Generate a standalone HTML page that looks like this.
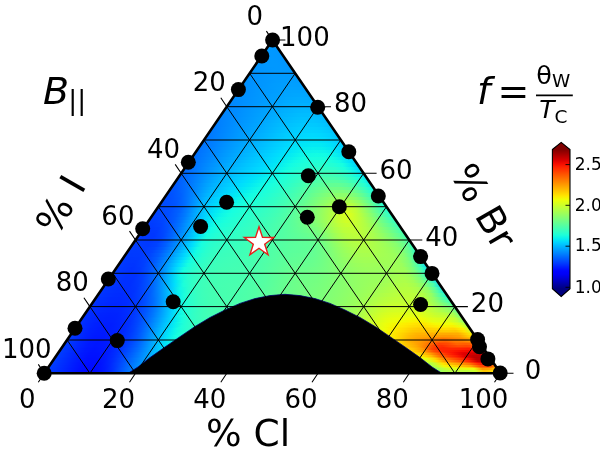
<!DOCTYPE html>
<html><head><meta charset="utf-8"><title>Ternary</title>
<style>html,body{margin:0;padding:0;background:#fff}svg{display:block}text{font-family:"DejaVu Sans","Liberation Sans",sans-serif;fill:#000}</style></head><body>
<svg width="600" height="452" viewBox="0 0 600 452">
<rect width="600" height="452" fill="#fff"/>
<defs>
<clipPath id="tri"><path d="M44.3 373.3L500.5 373.3L272.4 40.0Z"/></clipPath>
<linearGradient id="g0" gradientUnits="userSpaceOnUse" x1="269.1" x2="275.7" y1="0" y2="0"><stop offset="0.000" stop-color="#0098ff"/><stop offset="1.000" stop-color="#0097ff"/></linearGradient>
<linearGradient id="g1" gradientUnits="userSpaceOnUse" x1="266.8" x2="278.0" y1="0" y2="0"><stop offset="0.000" stop-color="#0099ff"/><stop offset="0.500" stop-color="#0098ff"/><stop offset="1.000" stop-color="#0096ff"/></linearGradient>
<linearGradient id="g2" gradientUnits="userSpaceOnUse" x1="264.6" x2="280.2" y1="0" y2="0"><stop offset="0.000" stop-color="#0099ff"/><stop offset="0.500" stop-color="#0098ff"/><stop offset="1.000" stop-color="#0095ff"/></linearGradient>
<linearGradient id="g3" gradientUnits="userSpaceOnUse" x1="262.3" x2="282.5" y1="0" y2="0"><stop offset="0.000" stop-color="#0098ff"/><stop offset="0.333" stop-color="#0098ff"/><stop offset="0.667" stop-color="#0097ff"/><stop offset="1.000" stop-color="#0095ff"/></linearGradient>
<linearGradient id="g4" gradientUnits="userSpaceOnUse" x1="260.0" x2="284.8" y1="0" y2="0"><stop offset="0.000" stop-color="#0097ff"/><stop offset="0.333" stop-color="#0098ff"/><stop offset="0.667" stop-color="#0097ff"/><stop offset="1.000" stop-color="#0095ff"/></linearGradient>
<linearGradient id="g5" gradientUnits="userSpaceOnUse" x1="257.7" x2="287.1" y1="0" y2="0"><stop offset="0.000" stop-color="#0097ff"/><stop offset="0.250" stop-color="#0098ff"/><stop offset="0.500" stop-color="#0098ff"/><stop offset="0.750" stop-color="#0097ff"/><stop offset="1.000" stop-color="#0095ff"/></linearGradient>
<linearGradient id="g6" gradientUnits="userSpaceOnUse" x1="255.4" x2="289.4" y1="0" y2="0"><stop offset="0.000" stop-color="#0095ff"/><stop offset="0.250" stop-color="#0097ff"/><stop offset="0.500" stop-color="#0098ff"/><stop offset="0.750" stop-color="#0097ff"/><stop offset="1.000" stop-color="#0095ff"/></linearGradient>
<linearGradient id="g7" gradientUnits="userSpaceOnUse" x1="253.2" x2="291.6" y1="0" y2="0"><stop offset="0.000" stop-color="#0094ff"/><stop offset="0.200" stop-color="#0096ff"/><stop offset="0.400" stop-color="#0098ff"/><stop offset="0.600" stop-color="#0098ff"/><stop offset="0.800" stop-color="#0097ff"/><stop offset="1.000" stop-color="#0095ff"/></linearGradient>
<linearGradient id="g8" gradientUnits="userSpaceOnUse" x1="250.9" x2="293.9" y1="0" y2="0"><stop offset="0.000" stop-color="#0093ff"/><stop offset="0.200" stop-color="#0095ff"/><stop offset="0.400" stop-color="#0097ff"/><stop offset="0.600" stop-color="#0098ff"/><stop offset="0.800" stop-color="#0098ff"/><stop offset="1.000" stop-color="#0095ff"/></linearGradient>
<linearGradient id="g9" gradientUnits="userSpaceOnUse" x1="248.6" x2="296.2" y1="0" y2="0"><stop offset="0.000" stop-color="#0092ff"/><stop offset="0.167" stop-color="#0094ff"/><stop offset="0.333" stop-color="#0097ff"/><stop offset="0.500" stop-color="#0098ff"/><stop offset="0.667" stop-color="#0099ff"/><stop offset="0.833" stop-color="#0098ff"/><stop offset="1.000" stop-color="#0096ff"/></linearGradient>
<linearGradient id="g10" gradientUnits="userSpaceOnUse" x1="246.3" x2="298.5" y1="0" y2="0"><stop offset="0.000" stop-color="#0090ff"/><stop offset="0.167" stop-color="#0093ff"/><stop offset="0.333" stop-color="#0096ff"/><stop offset="0.500" stop-color="#0099ff"/><stop offset="0.667" stop-color="#009aff"/><stop offset="0.833" stop-color="#009aff"/><stop offset="1.000" stop-color="#0097ff"/></linearGradient>
<linearGradient id="g11" gradientUnits="userSpaceOnUse" x1="244.0" x2="300.8" y1="0" y2="0"><stop offset="0.000" stop-color="#008fff"/><stop offset="0.143" stop-color="#0092ff"/><stop offset="0.286" stop-color="#0095ff"/><stop offset="0.429" stop-color="#0098ff"/><stop offset="0.571" stop-color="#009aff"/><stop offset="0.714" stop-color="#009bff"/><stop offset="0.857" stop-color="#009bff"/><stop offset="1.000" stop-color="#0099ff"/></linearGradient>
<linearGradient id="g12" gradientUnits="userSpaceOnUse" x1="241.7" x2="303.1" y1="0" y2="0"><stop offset="0.000" stop-color="#008eff"/><stop offset="0.143" stop-color="#0091ff"/><stop offset="0.286" stop-color="#0095ff"/><stop offset="0.429" stop-color="#0098ff"/><stop offset="0.571" stop-color="#009bff"/><stop offset="0.714" stop-color="#009dff"/><stop offset="0.857" stop-color="#009dff"/><stop offset="1.000" stop-color="#009bff"/></linearGradient>
<linearGradient id="g13" gradientUnits="userSpaceOnUse" x1="239.5" x2="305.3" y1="0" y2="0"><stop offset="0.000" stop-color="#008dff"/><stop offset="0.125" stop-color="#0090ff"/><stop offset="0.250" stop-color="#0094ff"/><stop offset="0.375" stop-color="#0097ff"/><stop offset="0.500" stop-color="#009bff"/><stop offset="0.625" stop-color="#009dff"/><stop offset="0.750" stop-color="#009fff"/><stop offset="0.875" stop-color="#009fff"/><stop offset="1.000" stop-color="#009dff"/></linearGradient>
<linearGradient id="g14" gradientUnits="userSpaceOnUse" x1="237.2" x2="307.6" y1="0" y2="0"><stop offset="0.000" stop-color="#008cff"/><stop offset="0.125" stop-color="#0090ff"/><stop offset="0.250" stop-color="#0094ff"/><stop offset="0.375" stop-color="#0098ff"/><stop offset="0.500" stop-color="#009bff"/><stop offset="0.625" stop-color="#009fff"/><stop offset="0.750" stop-color="#00a1ff"/><stop offset="0.875" stop-color="#00a1ff"/><stop offset="1.000" stop-color="#009fff"/></linearGradient>
<linearGradient id="g15" gradientUnits="userSpaceOnUse" x1="234.9" x2="309.9" y1="0" y2="0"><stop offset="0.000" stop-color="#008aff"/><stop offset="0.111" stop-color="#008eff"/><stop offset="0.222" stop-color="#0092ff"/><stop offset="0.333" stop-color="#0097ff"/><stop offset="0.444" stop-color="#009bff"/><stop offset="0.556" stop-color="#009eff"/><stop offset="0.667" stop-color="#00a2ff"/><stop offset="0.778" stop-color="#00a4ff"/><stop offset="0.889" stop-color="#00a4ff"/><stop offset="1.000" stop-color="#00a1ff"/></linearGradient>
<linearGradient id="g16" gradientUnits="userSpaceOnUse" x1="232.6" x2="312.2" y1="0" y2="0"><stop offset="0.000" stop-color="#0089ff"/><stop offset="0.111" stop-color="#008eff"/><stop offset="0.222" stop-color="#0092ff"/><stop offset="0.333" stop-color="#0097ff"/><stop offset="0.444" stop-color="#009cff"/><stop offset="0.556" stop-color="#00a0ff"/><stop offset="0.667" stop-color="#00a4ff"/><stop offset="0.778" stop-color="#00a6ff"/><stop offset="0.889" stop-color="#00a7ff"/><stop offset="1.000" stop-color="#00a4ff"/></linearGradient>
<linearGradient id="g17" gradientUnits="userSpaceOnUse" x1="230.3" x2="314.5" y1="0" y2="0"><stop offset="0.000" stop-color="#0088ff"/><stop offset="0.100" stop-color="#008dff"/><stop offset="0.200" stop-color="#0091ff"/><stop offset="0.300" stop-color="#0096ff"/><stop offset="0.400" stop-color="#009aff"/><stop offset="0.500" stop-color="#009fff"/><stop offset="0.600" stop-color="#00a4ff"/><stop offset="0.700" stop-color="#00a8ff"/><stop offset="0.800" stop-color="#00aaff"/><stop offset="0.900" stop-color="#00aaff"/><stop offset="1.000" stop-color="#00a7ff"/></linearGradient>
<linearGradient id="g18" gradientUnits="userSpaceOnUse" x1="228.1" x2="316.7" y1="0" y2="0"><stop offset="0.000" stop-color="#0086ff"/><stop offset="0.100" stop-color="#008cff"/><stop offset="0.200" stop-color="#0091ff"/><stop offset="0.300" stop-color="#0096ff"/><stop offset="0.400" stop-color="#009bff"/><stop offset="0.500" stop-color="#00a1ff"/><stop offset="0.600" stop-color="#00a6ff"/><stop offset="0.700" stop-color="#00abff"/><stop offset="0.800" stop-color="#00adff"/><stop offset="0.900" stop-color="#00adff"/><stop offset="1.000" stop-color="#00aaff"/></linearGradient>
<linearGradient id="g19" gradientUnits="userSpaceOnUse" x1="225.8" x2="319.0" y1="0" y2="0"><stop offset="0.000" stop-color="#0085ff"/><stop offset="0.091" stop-color="#008aff"/><stop offset="0.182" stop-color="#0090ff"/><stop offset="0.273" stop-color="#0095ff"/><stop offset="0.364" stop-color="#009bff"/><stop offset="0.455" stop-color="#00a0ff"/><stop offset="0.545" stop-color="#00a5ff"/><stop offset="0.636" stop-color="#00abff"/><stop offset="0.727" stop-color="#00afff"/><stop offset="0.818" stop-color="#00b1ff"/><stop offset="0.909" stop-color="#00b1ff"/><stop offset="1.000" stop-color="#00acff"/></linearGradient>
<linearGradient id="g20" gradientUnits="userSpaceOnUse" x1="223.5" x2="321.3" y1="0" y2="0"><stop offset="0.000" stop-color="#0083ff"/><stop offset="0.091" stop-color="#008aff"/><stop offset="0.182" stop-color="#0090ff"/><stop offset="0.273" stop-color="#0096ff"/><stop offset="0.364" stop-color="#009cff"/><stop offset="0.455" stop-color="#00a2ff"/><stop offset="0.545" stop-color="#00a8ff"/><stop offset="0.636" stop-color="#00aeff"/><stop offset="0.727" stop-color="#00b3ff"/><stop offset="0.818" stop-color="#00b5ff"/><stop offset="0.909" stop-color="#00b4ff"/><stop offset="1.000" stop-color="#00afff"/></linearGradient>
<linearGradient id="g21" gradientUnits="userSpaceOnUse" x1="221.2" x2="323.6" y1="0" y2="0"><stop offset="0.000" stop-color="#0081ff"/><stop offset="0.083" stop-color="#0088ff"/><stop offset="0.167" stop-color="#008eff"/><stop offset="0.250" stop-color="#0095ff"/><stop offset="0.333" stop-color="#009bff"/><stop offset="0.417" stop-color="#00a1ff"/><stop offset="0.500" stop-color="#00a7ff"/><stop offset="0.583" stop-color="#00aeff"/><stop offset="0.667" stop-color="#00b3ff"/><stop offset="0.750" stop-color="#00b7ff"/><stop offset="0.833" stop-color="#00b9ff"/><stop offset="0.917" stop-color="#00b8ff"/><stop offset="1.000" stop-color="#00b1ff"/></linearGradient>
<linearGradient id="g22" gradientUnits="userSpaceOnUse" x1="218.9" x2="325.9" y1="0" y2="0"><stop offset="0.000" stop-color="#0080ff"/><stop offset="0.083" stop-color="#0087ff"/><stop offset="0.167" stop-color="#008eff"/><stop offset="0.250" stop-color="#0095ff"/><stop offset="0.333" stop-color="#009cff"/><stop offset="0.417" stop-color="#00a3ff"/><stop offset="0.500" stop-color="#00aaff"/><stop offset="0.583" stop-color="#00b1ff"/><stop offset="0.667" stop-color="#00b7ff"/><stop offset="0.750" stop-color="#00bcff"/><stop offset="0.833" stop-color="#00bdff"/><stop offset="0.917" stop-color="#00bbff"/><stop offset="1.000" stop-color="#00b3ff"/></linearGradient>
<linearGradient id="g23" gradientUnits="userSpaceOnUse" x1="216.7" x2="328.1" y1="0" y2="0"><stop offset="0.000" stop-color="#007eff"/><stop offset="0.077" stop-color="#0085ff"/><stop offset="0.154" stop-color="#008dff"/><stop offset="0.231" stop-color="#0094ff"/><stop offset="0.308" stop-color="#009bff"/><stop offset="0.385" stop-color="#00a2ff"/><stop offset="0.462" stop-color="#00a9ff"/><stop offset="0.538" stop-color="#00b0ff"/><stop offset="0.615" stop-color="#00b7ff"/><stop offset="0.692" stop-color="#00bdff"/><stop offset="0.769" stop-color="#00c1ff"/><stop offset="0.846" stop-color="#00c1ff"/><stop offset="0.923" stop-color="#00beff"/><stop offset="1.000" stop-color="#00b6ff"/></linearGradient>
<linearGradient id="g24" gradientUnits="userSpaceOnUse" x1="214.4" x2="330.4" y1="0" y2="0"><stop offset="0.000" stop-color="#007cff"/><stop offset="0.077" stop-color="#0084ff"/><stop offset="0.154" stop-color="#008cff"/><stop offset="0.231" stop-color="#0094ff"/><stop offset="0.308" stop-color="#009cff"/><stop offset="0.385" stop-color="#00a4ff"/><stop offset="0.462" stop-color="#00acff"/><stop offset="0.538" stop-color="#00b4ff"/><stop offset="0.615" stop-color="#00bbff"/><stop offset="0.692" stop-color="#00c1ff"/><stop offset="0.769" stop-color="#00c5ff"/><stop offset="0.846" stop-color="#00c5ff"/><stop offset="0.923" stop-color="#00c1ff"/><stop offset="1.000" stop-color="#00b8ff"/></linearGradient>
<linearGradient id="g25" gradientUnits="userSpaceOnUse" x1="212.1" x2="332.7" y1="0" y2="0"><stop offset="0.000" stop-color="#007aff"/><stop offset="0.071" stop-color="#0082ff"/><stop offset="0.143" stop-color="#008aff"/><stop offset="0.214" stop-color="#0093ff"/><stop offset="0.286" stop-color="#009bff"/><stop offset="0.357" stop-color="#00a3ff"/><stop offset="0.429" stop-color="#00abff"/><stop offset="0.500" stop-color="#00b3ff"/><stop offset="0.571" stop-color="#00bbff"/><stop offset="0.643" stop-color="#00c2ff"/><stop offset="0.714" stop-color="#00c7ff"/><stop offset="0.786" stop-color="#00caff"/><stop offset="0.857" stop-color="#00c9ff"/><stop offset="0.929" stop-color="#00c4ff"/><stop offset="1.000" stop-color="#00baff"/></linearGradient>
<linearGradient id="g26" gradientUnits="userSpaceOnUse" x1="209.8" x2="335.0" y1="0" y2="0"><stop offset="0.000" stop-color="#0078ff"/><stop offset="0.071" stop-color="#0081ff"/><stop offset="0.143" stop-color="#008aff"/><stop offset="0.214" stop-color="#0093ff"/><stop offset="0.286" stop-color="#009cff"/><stop offset="0.357" stop-color="#00a5ff"/><stop offset="0.429" stop-color="#00adff"/><stop offset="0.500" stop-color="#00b6ff"/><stop offset="0.571" stop-color="#00bfff"/><stop offset="0.643" stop-color="#00c6ff"/><stop offset="0.714" stop-color="#00ccff"/><stop offset="0.786" stop-color="#00cfff"/><stop offset="0.857" stop-color="#00ceff"/><stop offset="0.929" stop-color="#00c8ff"/><stop offset="1.000" stop-color="#00bcff"/></linearGradient>
<linearGradient id="g27" gradientUnits="userSpaceOnUse" x1="207.5" x2="337.3" y1="0" y2="0"><stop offset="0.000" stop-color="#0076ff"/><stop offset="0.067" stop-color="#007fff"/><stop offset="0.133" stop-color="#0088ff"/><stop offset="0.200" stop-color="#0092ff"/><stop offset="0.267" stop-color="#009bff"/><stop offset="0.333" stop-color="#00a4ff"/><stop offset="0.400" stop-color="#00acff"/><stop offset="0.467" stop-color="#00b5ff"/><stop offset="0.533" stop-color="#00beff"/><stop offset="0.600" stop-color="#00c6ff"/><stop offset="0.667" stop-color="#00cdff"/><stop offset="0.733" stop-color="#00d2ff"/><stop offset="0.800" stop-color="#00d4ff"/><stop offset="0.867" stop-color="#00d2ff"/><stop offset="0.933" stop-color="#00cbff"/><stop offset="1.000" stop-color="#00beff"/></linearGradient>
<linearGradient id="g28" gradientUnits="userSpaceOnUse" x1="205.3" x2="339.5" y1="0" y2="0"><stop offset="0.000" stop-color="#0074ff"/><stop offset="0.067" stop-color="#007eff"/><stop offset="0.133" stop-color="#0088ff"/><stop offset="0.200" stop-color="#0092ff"/><stop offset="0.267" stop-color="#009cff"/><stop offset="0.333" stop-color="#00a5ff"/><stop offset="0.400" stop-color="#00afff"/><stop offset="0.467" stop-color="#00b8ff"/><stop offset="0.533" stop-color="#00c2ff"/><stop offset="0.600" stop-color="#00cbff"/><stop offset="0.667" stop-color="#00d2ff"/><stop offset="0.733" stop-color="#00d7ff"/><stop offset="0.800" stop-color="#00d9ff"/><stop offset="0.867" stop-color="#00d6ff"/><stop offset="0.933" stop-color="#00cfff"/><stop offset="1.000" stop-color="#00c0ff"/></linearGradient>
<linearGradient id="g29" gradientUnits="userSpaceOnUse" x1="203.0" x2="341.8" y1="0" y2="0"><stop offset="0.000" stop-color="#0072ff"/><stop offset="0.062" stop-color="#007cff"/><stop offset="0.125" stop-color="#0086ff"/><stop offset="0.188" stop-color="#0091ff"/><stop offset="0.250" stop-color="#009bff"/><stop offset="0.312" stop-color="#00a4ff"/><stop offset="0.375" stop-color="#00aeff"/><stop offset="0.438" stop-color="#00b7ff"/><stop offset="0.500" stop-color="#00c1ff"/><stop offset="0.562" stop-color="#00caff"/><stop offset="0.625" stop-color="#00d2ff"/><stop offset="0.688" stop-color="#00d9ff"/><stop offset="0.750" stop-color="#00ddfd"/><stop offset="0.812" stop-color="#00defd"/><stop offset="0.875" stop-color="#00daff"/><stop offset="0.938" stop-color="#00d1ff"/><stop offset="1.000" stop-color="#00c2ff"/></linearGradient>
<linearGradient id="g30" gradientUnits="userSpaceOnUse" x1="200.7" x2="344.1" y1="0" y2="0"><stop offset="0.000" stop-color="#0071ff"/><stop offset="0.063" stop-color="#007bff"/><stop offset="0.125" stop-color="#0086ff"/><stop offset="0.187" stop-color="#0091ff"/><stop offset="0.250" stop-color="#009cff"/><stop offset="0.313" stop-color="#00a6ff"/><stop offset="0.375" stop-color="#00b1ff"/><stop offset="0.438" stop-color="#00bbff"/><stop offset="0.500" stop-color="#00c5ff"/><stop offset="0.563" stop-color="#00cfff"/><stop offset="0.625" stop-color="#00d7ff"/><stop offset="0.688" stop-color="#00dffc"/><stop offset="0.750" stop-color="#00e3f9"/><stop offset="0.812" stop-color="#00e4f8"/><stop offset="0.875" stop-color="#00dffc"/><stop offset="0.938" stop-color="#00d5ff"/><stop offset="1.000" stop-color="#00c3ff"/></linearGradient>
<linearGradient id="g31" gradientUnits="userSpaceOnUse" x1="198.4" x2="346.4" y1="0" y2="0"><stop offset="0.000" stop-color="#006fff"/><stop offset="0.059" stop-color="#0079ff"/><stop offset="0.118" stop-color="#0084ff"/><stop offset="0.176" stop-color="#0090ff"/><stop offset="0.235" stop-color="#009bff"/><stop offset="0.294" stop-color="#00a5ff"/><stop offset="0.353" stop-color="#00b0ff"/><stop offset="0.412" stop-color="#00baff"/><stop offset="0.471" stop-color="#00c4ff"/><stop offset="0.529" stop-color="#00ceff"/><stop offset="0.588" stop-color="#00d7ff"/><stop offset="0.647" stop-color="#00e0fb"/><stop offset="0.706" stop-color="#00e6f6"/><stop offset="0.765" stop-color="#03e9f4"/><stop offset="0.824" stop-color="#03e9f4"/><stop offset="0.882" stop-color="#00e3f9"/><stop offset="0.941" stop-color="#00d7ff"/><stop offset="1.000" stop-color="#00c3ff"/></linearGradient>
<linearGradient id="g32" gradientUnits="userSpaceOnUse" x1="196.1" x2="348.7" y1="0" y2="0"><stop offset="0.000" stop-color="#006eff"/><stop offset="0.059" stop-color="#0079ff"/><stop offset="0.118" stop-color="#0084ff"/><stop offset="0.176" stop-color="#0091ff"/><stop offset="0.235" stop-color="#009cff"/><stop offset="0.294" stop-color="#00a8ff"/><stop offset="0.353" stop-color="#00b3ff"/><stop offset="0.412" stop-color="#00bdff"/><stop offset="0.471" stop-color="#00c8ff"/><stop offset="0.529" stop-color="#00d2ff"/><stop offset="0.588" stop-color="#00dcfe"/><stop offset="0.647" stop-color="#00e5f7"/><stop offset="0.706" stop-color="#05ecf1"/><stop offset="0.765" stop-color="#08f0ef"/><stop offset="0.824" stop-color="#07efef"/><stop offset="0.882" stop-color="#02e8f5"/><stop offset="0.941" stop-color="#00daff"/><stop offset="1.000" stop-color="#00c4ff"/></linearGradient>
<linearGradient id="g33" gradientUnits="userSpaceOnUse" x1="193.8" x2="351.0" y1="0" y2="0"><stop offset="0.000" stop-color="#006dff"/><stop offset="0.056" stop-color="#0077ff"/><stop offset="0.111" stop-color="#0083ff"/><stop offset="0.167" stop-color="#0090ff"/><stop offset="0.222" stop-color="#009cff"/><stop offset="0.278" stop-color="#00a7ff"/><stop offset="0.333" stop-color="#00b2ff"/><stop offset="0.389" stop-color="#00bcff"/><stop offset="0.444" stop-color="#00c7ff"/><stop offset="0.500" stop-color="#00d1ff"/><stop offset="0.556" stop-color="#00dcff"/><stop offset="0.611" stop-color="#00e6f7"/><stop offset="0.667" stop-color="#07eef0"/><stop offset="0.722" stop-color="#0cf4eb"/><stop offset="0.778" stop-color="#0ef6e9"/><stop offset="0.833" stop-color="#0cf4eb"/><stop offset="0.889" stop-color="#05ecf2"/><stop offset="0.944" stop-color="#00dcff"/><stop offset="1.000" stop-color="#00c4ff"/></linearGradient>
<linearGradient id="g34" gradientUnits="userSpaceOnUse" x1="191.6" x2="353.2" y1="0" y2="0"><stop offset="0.000" stop-color="#006bff"/><stop offset="0.056" stop-color="#0077ff"/><stop offset="0.111" stop-color="#0083ff"/><stop offset="0.167" stop-color="#0091ff"/><stop offset="0.222" stop-color="#009dff"/><stop offset="0.278" stop-color="#00aaff"/><stop offset="0.333" stop-color="#00b5ff"/><stop offset="0.389" stop-color="#00c0ff"/><stop offset="0.444" stop-color="#00cbff"/><stop offset="0.500" stop-color="#00d6ff"/><stop offset="0.556" stop-color="#00e1fb"/><stop offset="0.611" stop-color="#05ebf2"/><stop offset="0.667" stop-color="#0cf5eb"/><stop offset="0.722" stop-color="#11fbe5"/><stop offset="0.778" stop-color="#13fde3"/><stop offset="0.833" stop-color="#11fbe6"/><stop offset="0.889" stop-color="#09f1ed"/><stop offset="0.944" stop-color="#00dffc"/><stop offset="1.000" stop-color="#00c4ff"/></linearGradient>
<linearGradient id="g35" gradientUnits="userSpaceOnUse" x1="189.3" x2="355.5" y1="0" y2="0"><stop offset="0.000" stop-color="#0069ff"/><stop offset="0.053" stop-color="#0075ff"/><stop offset="0.105" stop-color="#0082ff"/><stop offset="0.158" stop-color="#0090ff"/><stop offset="0.211" stop-color="#009dff"/><stop offset="0.263" stop-color="#00a9ff"/><stop offset="0.316" stop-color="#00b5ff"/><stop offset="0.368" stop-color="#00c0ff"/><stop offset="0.421" stop-color="#00caff"/><stop offset="0.474" stop-color="#00d5ff"/><stop offset="0.526" stop-color="#00e0fb"/><stop offset="0.579" stop-color="#04ebf2"/><stop offset="0.632" stop-color="#0df5ea"/><stop offset="0.684" stop-color="#14fee3"/><stop offset="0.737" stop-color="#18ffdf"/><stop offset="0.789" stop-color="#19ffdd"/><stop offset="0.842" stop-color="#16ffe1"/><stop offset="0.895" stop-color="#0df5ea"/><stop offset="0.947" stop-color="#00e1fa"/><stop offset="1.000" stop-color="#00c5ff"/></linearGradient>
<linearGradient id="g36" gradientUnits="userSpaceOnUse" x1="187.0" x2="357.8" y1="0" y2="0"><stop offset="0.000" stop-color="#0068ff"/><stop offset="0.053" stop-color="#0074ff"/><stop offset="0.105" stop-color="#0082ff"/><stop offset="0.158" stop-color="#0091ff"/><stop offset="0.211" stop-color="#009fff"/><stop offset="0.263" stop-color="#00acff"/><stop offset="0.316" stop-color="#00b8ff"/><stop offset="0.368" stop-color="#00c4ff"/><stop offset="0.421" stop-color="#00ceff"/><stop offset="0.474" stop-color="#00d9ff"/><stop offset="0.526" stop-color="#00e5f7"/><stop offset="0.579" stop-color="#09f1ee"/><stop offset="0.632" stop-color="#12fce5"/><stop offset="0.684" stop-color="#1affdd"/><stop offset="0.737" stop-color="#1fffd8"/><stop offset="0.789" stop-color="#20ffd7"/><stop offset="0.842" stop-color="#1cffdb"/><stop offset="0.895" stop-color="#12fbe5"/><stop offset="0.947" stop-color="#00e5f7"/><stop offset="1.000" stop-color="#00c6ff"/></linearGradient>
<linearGradient id="g37" gradientUnits="userSpaceOnUse" x1="184.7" x2="360.1" y1="0" y2="0"><stop offset="0.000" stop-color="#0065ff"/><stop offset="0.050" stop-color="#0072ff"/><stop offset="0.100" stop-color="#0081ff"/><stop offset="0.150" stop-color="#0090ff"/><stop offset="0.200" stop-color="#009eff"/><stop offset="0.250" stop-color="#00acff"/><stop offset="0.300" stop-color="#00b8ff"/><stop offset="0.350" stop-color="#00c4ff"/><stop offset="0.400" stop-color="#00ceff"/><stop offset="0.450" stop-color="#00d9ff"/><stop offset="0.500" stop-color="#00e4f8"/><stop offset="0.550" stop-color="#08f0ee"/><stop offset="0.600" stop-color="#12fce5"/><stop offset="0.650" stop-color="#1bffdc"/><stop offset="0.700" stop-color="#22ffd5"/><stop offset="0.750" stop-color="#26ffd1"/><stop offset="0.800" stop-color="#27ffd0"/><stop offset="0.850" stop-color="#22ffd5"/><stop offset="0.900" stop-color="#16ffe1"/><stop offset="0.950" stop-color="#02e8f5"/><stop offset="1.000" stop-color="#00c8ff"/></linearGradient>
<linearGradient id="g38" gradientUnits="userSpaceOnUse" x1="182.4" x2="362.4" y1="0" y2="0"><stop offset="0.000" stop-color="#0063ff"/><stop offset="0.050" stop-color="#0070ff"/><stop offset="0.100" stop-color="#0080ff"/><stop offset="0.150" stop-color="#0091ff"/><stop offset="0.200" stop-color="#00a0ff"/><stop offset="0.250" stop-color="#00afff"/><stop offset="0.300" stop-color="#00bcff"/><stop offset="0.350" stop-color="#00c8ff"/><stop offset="0.400" stop-color="#00d3ff"/><stop offset="0.450" stop-color="#00defd"/><stop offset="0.500" stop-color="#03e9f4"/><stop offset="0.550" stop-color="#0df6ea"/><stop offset="0.600" stop-color="#17ffdf"/><stop offset="0.650" stop-color="#21ffd6"/><stop offset="0.700" stop-color="#29ffce"/><stop offset="0.750" stop-color="#2effc9"/><stop offset="0.800" stop-color="#2fffc8"/><stop offset="0.850" stop-color="#2affcd"/><stop offset="0.900" stop-color="#1cffdb"/><stop offset="0.950" stop-color="#06edf1"/><stop offset="1.000" stop-color="#00cbff"/></linearGradient>
<linearGradient id="g39" gradientUnits="userSpaceOnUse" x1="180.2" x2="364.6" y1="0" y2="0"><stop offset="0.000" stop-color="#0060ff"/><stop offset="0.048" stop-color="#006eff"/><stop offset="0.095" stop-color="#007eff"/><stop offset="0.143" stop-color="#008fff"/><stop offset="0.190" stop-color="#009fff"/><stop offset="0.238" stop-color="#00aeff"/><stop offset="0.286" stop-color="#00bcff"/><stop offset="0.333" stop-color="#00c8ff"/><stop offset="0.381" stop-color="#00d3ff"/><stop offset="0.429" stop-color="#00defd"/><stop offset="0.476" stop-color="#03e9f4"/><stop offset="0.524" stop-color="#0cf5eb"/><stop offset="0.571" stop-color="#17ffe0"/><stop offset="0.619" stop-color="#21ffd6"/><stop offset="0.667" stop-color="#2bffcc"/><stop offset="0.714" stop-color="#32ffc5"/><stop offset="0.762" stop-color="#37ffc0"/><stop offset="0.810" stop-color="#37ffc0"/><stop offset="0.857" stop-color="#31ffc6"/><stop offset="0.905" stop-color="#22ffd5"/><stop offset="0.952" stop-color="#0af2ed"/><stop offset="1.000" stop-color="#00ceff"/></linearGradient>
<linearGradient id="g40" gradientUnits="userSpaceOnUse" x1="177.9" x2="366.9" y1="0" y2="0"><stop offset="0.000" stop-color="#005dff"/><stop offset="0.045" stop-color="#006bff"/><stop offset="0.091" stop-color="#007bff"/><stop offset="0.136" stop-color="#008dff"/><stop offset="0.182" stop-color="#009fff"/><stop offset="0.227" stop-color="#00aeff"/><stop offset="0.273" stop-color="#00bcff"/><stop offset="0.318" stop-color="#00c9ff"/><stop offset="0.364" stop-color="#00d4ff"/><stop offset="0.409" stop-color="#00dffc"/><stop offset="0.455" stop-color="#03e9f4"/><stop offset="0.500" stop-color="#0cf4eb"/><stop offset="0.545" stop-color="#16ffe1"/><stop offset="0.591" stop-color="#21ffd6"/><stop offset="0.636" stop-color="#2bffcc"/><stop offset="0.682" stop-color="#35ffc2"/><stop offset="0.727" stop-color="#3cffbb"/><stop offset="0.773" stop-color="#41ffb6"/><stop offset="0.818" stop-color="#40ffb6"/><stop offset="0.864" stop-color="#39ffbe"/><stop offset="0.909" stop-color="#28ffcf"/><stop offset="0.955" stop-color="#0ef7e8"/><stop offset="1.000" stop-color="#00d4ff"/></linearGradient>
<linearGradient id="g41" gradientUnits="userSpaceOnUse" x1="175.6" x2="369.2" y1="0" y2="0"><stop offset="0.000" stop-color="#005aff"/><stop offset="0.045" stop-color="#0068ff"/><stop offset="0.091" stop-color="#007aff"/><stop offset="0.136" stop-color="#008dff"/><stop offset="0.182" stop-color="#00a1ff"/><stop offset="0.227" stop-color="#00b2ff"/><stop offset="0.273" stop-color="#00c0ff"/><stop offset="0.318" stop-color="#00cdff"/><stop offset="0.364" stop-color="#00d9ff"/><stop offset="0.409" stop-color="#00e4f8"/><stop offset="0.455" stop-color="#07efef"/><stop offset="0.500" stop-color="#11fae6"/><stop offset="0.545" stop-color="#1bffdc"/><stop offset="0.591" stop-color="#27ffd0"/><stop offset="0.636" stop-color="#32ffc5"/><stop offset="0.682" stop-color="#3cffba"/><stop offset="0.727" stop-color="#45ffb2"/><stop offset="0.773" stop-color="#4bffac"/><stop offset="0.818" stop-color="#4bffac"/><stop offset="0.864" stop-color="#43ffb4"/><stop offset="0.909" stop-color="#31ffc6"/><stop offset="0.955" stop-color="#16ffe1"/><stop offset="1.000" stop-color="#00dbff"/></linearGradient>
<linearGradient id="g42" gradientUnits="userSpaceOnUse" x1="173.3" x2="371.5" y1="0" y2="0"><stop offset="0.000" stop-color="#0057ff"/><stop offset="0.043" stop-color="#0064ff"/><stop offset="0.087" stop-color="#0076ff"/><stop offset="0.130" stop-color="#008aff"/><stop offset="0.174" stop-color="#009fff"/><stop offset="0.217" stop-color="#00b1ff"/><stop offset="0.261" stop-color="#00c1ff"/><stop offset="0.304" stop-color="#00ceff"/><stop offset="0.348" stop-color="#00daff"/><stop offset="0.391" stop-color="#00e5f7"/><stop offset="0.435" stop-color="#08f0ef"/><stop offset="0.478" stop-color="#11fae6"/><stop offset="0.522" stop-color="#1bffdc"/><stop offset="0.565" stop-color="#26ffd1"/><stop offset="0.609" stop-color="#31ffc6"/><stop offset="0.652" stop-color="#3dffba"/><stop offset="0.696" stop-color="#48ffaf"/><stop offset="0.739" stop-color="#51ffa6"/><stop offset="0.783" stop-color="#57ffa0"/><stop offset="0.826" stop-color="#56ffa1"/><stop offset="0.870" stop-color="#4dffaa"/><stop offset="0.913" stop-color="#39ffbe"/><stop offset="0.957" stop-color="#1dffda"/><stop offset="1.000" stop-color="#00e2fa"/></linearGradient>
<linearGradient id="g43" gradientUnits="userSpaceOnUse" x1="171.0" x2="373.8" y1="0" y2="0"><stop offset="0.000" stop-color="#0054ff"/><stop offset="0.043" stop-color="#0060ff"/><stop offset="0.087" stop-color="#0073ff"/><stop offset="0.130" stop-color="#008aff"/><stop offset="0.174" stop-color="#00a1ff"/><stop offset="0.217" stop-color="#00b4ff"/><stop offset="0.261" stop-color="#00c5ff"/><stop offset="0.304" stop-color="#00d3ff"/><stop offset="0.348" stop-color="#00dffc"/><stop offset="0.391" stop-color="#04eaf3"/><stop offset="0.435" stop-color="#0df5ea"/><stop offset="0.478" stop-color="#16ffe1"/><stop offset="0.522" stop-color="#20ffd7"/><stop offset="0.565" stop-color="#2bffcc"/><stop offset="0.609" stop-color="#37ffbf"/><stop offset="0.652" stop-color="#44ffb2"/><stop offset="0.696" stop-color="#51ffa6"/><stop offset="0.739" stop-color="#5bff9b"/><stop offset="0.783" stop-color="#62ff94"/><stop offset="0.826" stop-color="#63ff94"/><stop offset="0.870" stop-color="#59ff9e"/><stop offset="0.913" stop-color="#43ffb3"/><stop offset="0.957" stop-color="#25ffd2"/><stop offset="1.000" stop-color="#02e8f5"/></linearGradient>
<linearGradient id="g44" gradientUnits="userSpaceOnUse" x1="168.8" x2="376.0" y1="0" y2="0"><stop offset="0.000" stop-color="#0051ff"/><stop offset="0.042" stop-color="#005bff"/><stop offset="0.083" stop-color="#006dff"/><stop offset="0.125" stop-color="#0085ff"/><stop offset="0.167" stop-color="#009eff"/><stop offset="0.208" stop-color="#00b4ff"/><stop offset="0.250" stop-color="#00c5ff"/><stop offset="0.292" stop-color="#00d4ff"/><stop offset="0.333" stop-color="#00e0fb"/><stop offset="0.375" stop-color="#05ecf2"/><stop offset="0.417" stop-color="#0ef6e9"/><stop offset="0.458" stop-color="#16ffe1"/><stop offset="0.500" stop-color="#1fffd7"/><stop offset="0.542" stop-color="#2affcd"/><stop offset="0.583" stop-color="#36ffc1"/><stop offset="0.625" stop-color="#43ffb4"/><stop offset="0.667" stop-color="#50ffa6"/><stop offset="0.708" stop-color="#5eff99"/><stop offset="0.750" stop-color="#69ff8e"/><stop offset="0.792" stop-color="#70ff87"/><stop offset="0.833" stop-color="#6fff87"/><stop offset="0.875" stop-color="#64ff93"/><stop offset="0.917" stop-color="#4cffab"/><stop offset="0.958" stop-color="#2bffcb"/><stop offset="1.000" stop-color="#07eef0"/></linearGradient>
<linearGradient id="g45" gradientUnits="userSpaceOnUse" x1="166.5" x2="378.3" y1="0" y2="0"><stop offset="0.000" stop-color="#004fff"/><stop offset="0.042" stop-color="#0057ff"/><stop offset="0.083" stop-color="#0069ff"/><stop offset="0.125" stop-color="#0083ff"/><stop offset="0.167" stop-color="#009fff"/><stop offset="0.208" stop-color="#00b7ff"/><stop offset="0.250" stop-color="#00c9ff"/><stop offset="0.292" stop-color="#00d8ff"/><stop offset="0.333" stop-color="#00e5f7"/><stop offset="0.375" stop-color="#09f1ee"/><stop offset="0.417" stop-color="#12fce5"/><stop offset="0.458" stop-color="#1bffdc"/><stop offset="0.500" stop-color="#24ffd3"/><stop offset="0.542" stop-color="#2fffc8"/><stop offset="0.583" stop-color="#3bffbb"/><stop offset="0.625" stop-color="#49ffad"/><stop offset="0.667" stop-color="#58ff9e"/><stop offset="0.708" stop-color="#67ff90"/><stop offset="0.750" stop-color="#74ff83"/><stop offset="0.792" stop-color="#7dff7a"/><stop offset="0.833" stop-color="#7eff79"/><stop offset="0.875" stop-color="#72ff85"/><stop offset="0.917" stop-color="#57ffa0"/><stop offset="0.958" stop-color="#32ffc5"/><stop offset="1.000" stop-color="#0af2ed"/></linearGradient>
<linearGradient id="g46" gradientUnits="userSpaceOnUse" x1="164.2" x2="380.6" y1="0" y2="0"><stop offset="0.000" stop-color="#004dff"/><stop offset="0.040" stop-color="#0053ff"/><stop offset="0.080" stop-color="#0062ff"/><stop offset="0.120" stop-color="#007cff"/><stop offset="0.160" stop-color="#009aff"/><stop offset="0.200" stop-color="#00b5ff"/><stop offset="0.240" stop-color="#00c9ff"/><stop offset="0.280" stop-color="#00d9ff"/><stop offset="0.320" stop-color="#00e6f6"/><stop offset="0.360" stop-color="#0af2ed"/><stop offset="0.400" stop-color="#13fde4"/><stop offset="0.440" stop-color="#1bffdb"/><stop offset="0.480" stop-color="#24ffd3"/><stop offset="0.520" stop-color="#2effc9"/><stop offset="0.560" stop-color="#39ffbe"/><stop offset="0.600" stop-color="#46ffb0"/><stop offset="0.640" stop-color="#55ffa1"/><stop offset="0.680" stop-color="#65ff91"/><stop offset="0.720" stop-color="#75ff82"/><stop offset="0.760" stop-color="#83ff74"/><stop offset="0.800" stop-color="#8cff6b"/><stop offset="0.840" stop-color="#8cff6b"/><stop offset="0.880" stop-color="#7cff7a"/><stop offset="0.920" stop-color="#5dff99"/><stop offset="0.960" stop-color="#36ffc1"/><stop offset="1.000" stop-color="#0df5ea"/></linearGradient>
<linearGradient id="g47" gradientUnits="userSpaceOnUse" x1="161.9" x2="382.9" y1="0" y2="0"><stop offset="0.000" stop-color="#004cff"/><stop offset="0.040" stop-color="#0050ff"/><stop offset="0.080" stop-color="#005dff"/><stop offset="0.120" stop-color="#0078ff"/><stop offset="0.160" stop-color="#0099ff"/><stop offset="0.200" stop-color="#00b8ff"/><stop offset="0.240" stop-color="#00ceff"/><stop offset="0.280" stop-color="#00defd"/><stop offset="0.320" stop-color="#04ebf2"/><stop offset="0.360" stop-color="#0ef7e9"/><stop offset="0.400" stop-color="#17ffe0"/><stop offset="0.440" stop-color="#20ffd7"/><stop offset="0.480" stop-color="#28ffce"/><stop offset="0.520" stop-color="#32ffc4"/><stop offset="0.560" stop-color="#3effb9"/><stop offset="0.600" stop-color="#4cffab"/><stop offset="0.640" stop-color="#5cff9b"/><stop offset="0.680" stop-color="#6dff89"/><stop offset="0.720" stop-color="#7fff78"/><stop offset="0.760" stop-color="#8fff68"/><stop offset="0.800" stop-color="#9aff5d"/><stop offset="0.840" stop-color="#9bff5b"/><stop offset="0.880" stop-color="#89ff6e"/><stop offset="0.920" stop-color="#65ff91"/><stop offset="0.960" stop-color="#3affbc"/><stop offset="1.000" stop-color="#0ef7e8"/></linearGradient>
<linearGradient id="g48" gradientUnits="userSpaceOnUse" x1="159.6" x2="385.2" y1="0" y2="0"><stop offset="0.000" stop-color="#004bff"/><stop offset="0.038" stop-color="#004eff"/><stop offset="0.077" stop-color="#0058ff"/><stop offset="0.115" stop-color="#006fff"/><stop offset="0.154" stop-color="#0092ff"/><stop offset="0.192" stop-color="#00b4ff"/><stop offset="0.231" stop-color="#00cdff"/><stop offset="0.269" stop-color="#00defd"/><stop offset="0.308" stop-color="#05ecf2"/><stop offset="0.346" stop-color="#0ff8e8"/><stop offset="0.385" stop-color="#18ffdf"/><stop offset="0.423" stop-color="#20ffd7"/><stop offset="0.462" stop-color="#28ffce"/><stop offset="0.500" stop-color="#31ffc5"/><stop offset="0.538" stop-color="#3cffbb"/><stop offset="0.577" stop-color="#48ffaf"/><stop offset="0.615" stop-color="#57ffa0"/><stop offset="0.654" stop-color="#68ff8e"/><stop offset="0.692" stop-color="#7bff7c"/><stop offset="0.731" stop-color="#8dff6a"/><stop offset="0.769" stop-color="#9eff59"/><stop offset="0.808" stop-color="#aaff4c"/><stop offset="0.846" stop-color="#a9ff4e"/><stop offset="0.885" stop-color="#90ff67"/><stop offset="0.923" stop-color="#68ff8f"/><stop offset="0.962" stop-color="#3cffbb"/><stop offset="1.000" stop-color="#10f9e7"/></linearGradient>
<linearGradient id="g49" gradientUnits="userSpaceOnUse" x1="157.4" x2="387.4" y1="0" y2="0"><stop offset="0.000" stop-color="#004aff"/><stop offset="0.038" stop-color="#004cff"/><stop offset="0.077" stop-color="#0054ff"/><stop offset="0.115" stop-color="#006aff"/><stop offset="0.154" stop-color="#008fff"/><stop offset="0.192" stop-color="#00b5ff"/><stop offset="0.231" stop-color="#00d1ff"/><stop offset="0.269" stop-color="#00e3f9"/><stop offset="0.308" stop-color="#09f0ee"/><stop offset="0.346" stop-color="#13fde4"/><stop offset="0.385" stop-color="#1cffdb"/><stop offset="0.423" stop-color="#24ffd3"/><stop offset="0.462" stop-color="#2cffcb"/><stop offset="0.500" stop-color="#35ffc2"/><stop offset="0.538" stop-color="#40ffb7"/><stop offset="0.577" stop-color="#4cffab"/><stop offset="0.615" stop-color="#5cff9b"/><stop offset="0.654" stop-color="#6eff88"/><stop offset="0.692" stop-color="#82ff75"/><stop offset="0.731" stop-color="#96ff60"/><stop offset="0.769" stop-color="#aaff4d"/><stop offset="0.808" stop-color="#baff3d"/><stop offset="0.846" stop-color="#b6ff40"/><stop offset="0.885" stop-color="#97ff60"/><stop offset="0.923" stop-color="#6cff8a"/><stop offset="0.962" stop-color="#3effb9"/><stop offset="1.000" stop-color="#12fbe5"/></linearGradient>
<linearGradient id="g50" gradientUnits="userSpaceOnUse" x1="155.1" x2="389.7" y1="0" y2="0"><stop offset="0.000" stop-color="#0048ff"/><stop offset="0.037" stop-color="#004bff"/><stop offset="0.074" stop-color="#0051ff"/><stop offset="0.111" stop-color="#0063ff"/><stop offset="0.148" stop-color="#0086ff"/><stop offset="0.185" stop-color="#00aeff"/><stop offset="0.222" stop-color="#00ceff"/><stop offset="0.259" stop-color="#00e3f9"/><stop offset="0.296" stop-color="#09f1ed"/><stop offset="0.333" stop-color="#13fde4"/><stop offset="0.370" stop-color="#1cffdb"/><stop offset="0.407" stop-color="#24ffd2"/><stop offset="0.444" stop-color="#2cffcb"/><stop offset="0.481" stop-color="#34ffc2"/><stop offset="0.519" stop-color="#3effb9"/><stop offset="0.556" stop-color="#49ffae"/><stop offset="0.593" stop-color="#56ffa0"/><stop offset="0.630" stop-color="#67ff8f"/><stop offset="0.667" stop-color="#7aff7d"/><stop offset="0.704" stop-color="#8fff68"/><stop offset="0.741" stop-color="#a4ff52"/><stop offset="0.778" stop-color="#baff3d"/><stop offset="0.815" stop-color="#cbff2c"/><stop offset="0.852" stop-color="#bcff3b"/><stop offset="0.889" stop-color="#97ff60"/><stop offset="0.926" stop-color="#6cff8b"/><stop offset="0.963" stop-color="#3fffb8"/><stop offset="1.000" stop-color="#15ffe1"/></linearGradient>
<linearGradient id="g51" gradientUnits="userSpaceOnUse" x1="152.8" x2="392.0" y1="0" y2="0"><stop offset="0.000" stop-color="#0045ff"/><stop offset="0.037" stop-color="#0048ff"/><stop offset="0.074" stop-color="#0050ff"/><stop offset="0.111" stop-color="#0062ff"/><stop offset="0.148" stop-color="#0083ff"/><stop offset="0.185" stop-color="#00adff"/><stop offset="0.222" stop-color="#00d0ff"/><stop offset="0.259" stop-color="#01e7f6"/><stop offset="0.296" stop-color="#0df6ea"/><stop offset="0.333" stop-color="#17ffe0"/><stop offset="0.370" stop-color="#20ffd7"/><stop offset="0.407" stop-color="#28ffcf"/><stop offset="0.444" stop-color="#30ffc7"/><stop offset="0.481" stop-color="#38ffbf"/><stop offset="0.519" stop-color="#41ffb6"/><stop offset="0.556" stop-color="#4cffaa"/><stop offset="0.593" stop-color="#5aff9d"/><stop offset="0.630" stop-color="#6bff8b"/><stop offset="0.667" stop-color="#7fff78"/><stop offset="0.704" stop-color="#94ff63"/><stop offset="0.741" stop-color="#acff4b"/><stop offset="0.778" stop-color="#c5ff32"/><stop offset="0.815" stop-color="#d7ff20"/><stop offset="0.852" stop-color="#c0ff37"/><stop offset="0.889" stop-color="#99ff5d"/><stop offset="0.926" stop-color="#6eff89"/><stop offset="0.963" stop-color="#42ffb5"/><stop offset="1.000" stop-color="#1affdc"/></linearGradient>
<linearGradient id="g52" gradientUnits="userSpaceOnUse" x1="150.5" x2="394.3" y1="0" y2="0"><stop offset="0.000" stop-color="#0042ff"/><stop offset="0.036" stop-color="#0045ff"/><stop offset="0.071" stop-color="#004dff"/><stop offset="0.107" stop-color="#005eff"/><stop offset="0.143" stop-color="#007cff"/><stop offset="0.179" stop-color="#00a4ff"/><stop offset="0.214" stop-color="#00caff"/><stop offset="0.250" stop-color="#00e5f7"/><stop offset="0.286" stop-color="#0df6e9"/><stop offset="0.321" stop-color="#17ffe0"/><stop offset="0.357" stop-color="#20ffd7"/><stop offset="0.393" stop-color="#28ffcf"/><stop offset="0.429" stop-color="#2fffc7"/><stop offset="0.464" stop-color="#37ffc0"/><stop offset="0.500" stop-color="#3fffb8"/><stop offset="0.536" stop-color="#49ffae"/><stop offset="0.571" stop-color="#55ffa2"/><stop offset="0.607" stop-color="#64ff93"/><stop offset="0.643" stop-color="#75ff81"/><stop offset="0.679" stop-color="#88ff6f"/><stop offset="0.714" stop-color="#9eff58"/><stop offset="0.750" stop-color="#b8ff3f"/><stop offset="0.786" stop-color="#d2ff25"/><stop offset="0.821" stop-color="#d6ff21"/><stop offset="0.857" stop-color="#baff3c"/><stop offset="0.893" stop-color="#96ff61"/><stop offset="0.929" stop-color="#6dff8a"/><stop offset="0.964" stop-color="#45ffb2"/><stop offset="1.000" stop-color="#20ffd7"/></linearGradient>
<linearGradient id="g53" gradientUnits="userSpaceOnUse" x1="148.2" x2="396.6" y1="0" y2="0"><stop offset="0.000" stop-color="#003fff"/><stop offset="0.036" stop-color="#0041ff"/><stop offset="0.071" stop-color="#004aff"/><stop offset="0.107" stop-color="#005cff"/><stop offset="0.143" stop-color="#007bff"/><stop offset="0.179" stop-color="#00a3ff"/><stop offset="0.214" stop-color="#00caff"/><stop offset="0.250" stop-color="#02e8f5"/><stop offset="0.286" stop-color="#11fae6"/><stop offset="0.321" stop-color="#1bffdc"/><stop offset="0.357" stop-color="#23ffd4"/><stop offset="0.393" stop-color="#2bffcc"/><stop offset="0.429" stop-color="#32ffc5"/><stop offset="0.464" stop-color="#3affbd"/><stop offset="0.500" stop-color="#42ffb5"/><stop offset="0.536" stop-color="#4cffab"/><stop offset="0.571" stop-color="#57ff9f"/><stop offset="0.607" stop-color="#66ff91"/><stop offset="0.643" stop-color="#77ff80"/><stop offset="0.679" stop-color="#89ff6d"/><stop offset="0.714" stop-color="#a1ff56"/><stop offset="0.750" stop-color="#bbff3b"/><stop offset="0.786" stop-color="#d3ff24"/><stop offset="0.821" stop-color="#d1ff26"/><stop offset="0.857" stop-color="#b8ff3e"/><stop offset="0.893" stop-color="#96ff60"/><stop offset="0.929" stop-color="#70ff87"/><stop offset="0.964" stop-color="#4affad"/><stop offset="1.000" stop-color="#25ffd1"/></linearGradient>
<linearGradient id="g54" gradientUnits="userSpaceOnUse" x1="145.9" x2="398.9" y1="0" y2="0"><stop offset="0.000" stop-color="#003dff"/><stop offset="0.034" stop-color="#003eff"/><stop offset="0.069" stop-color="#0046ff"/><stop offset="0.103" stop-color="#0057ff"/><stop offset="0.138" stop-color="#0074ff"/><stop offset="0.172" stop-color="#009bff"/><stop offset="0.207" stop-color="#00c3ff"/><stop offset="0.241" stop-color="#00e4f8"/><stop offset="0.276" stop-color="#10fae6"/><stop offset="0.310" stop-color="#1bffdc"/><stop offset="0.345" stop-color="#23ffd3"/><stop offset="0.379" stop-color="#2bffcc"/><stop offset="0.414" stop-color="#32ffc5"/><stop offset="0.448" stop-color="#39ffbe"/><stop offset="0.483" stop-color="#40ffb7"/><stop offset="0.517" stop-color="#49ffae"/><stop offset="0.552" stop-color="#53ffa4"/><stop offset="0.586" stop-color="#5fff98"/><stop offset="0.621" stop-color="#6eff89"/><stop offset="0.655" stop-color="#7dff7a"/><stop offset="0.690" stop-color="#90ff67"/><stop offset="0.724" stop-color="#a8ff4f"/><stop offset="0.759" stop-color="#c2ff35"/><stop offset="0.793" stop-color="#d0ff26"/><stop offset="0.828" stop-color="#c8ff2f"/><stop offset="0.862" stop-color="#b2ff45"/><stop offset="0.897" stop-color="#93ff64"/><stop offset="0.931" stop-color="#71ff86"/><stop offset="0.966" stop-color="#4effa9"/><stop offset="1.000" stop-color="#2bffcc"/></linearGradient>
<linearGradient id="g55" gradientUnits="userSpaceOnUse" x1="143.7" x2="401.1" y1="0" y2="0"><stop offset="0.000" stop-color="#003cff"/><stop offset="0.034" stop-color="#003bff"/><stop offset="0.069" stop-color="#0042ff"/><stop offset="0.103" stop-color="#0055ff"/><stop offset="0.138" stop-color="#0073ff"/><stop offset="0.172" stop-color="#009aff"/><stop offset="0.207" stop-color="#00c4ff"/><stop offset="0.241" stop-color="#01e7f5"/><stop offset="0.276" stop-color="#13fee3"/><stop offset="0.310" stop-color="#1effd8"/><stop offset="0.345" stop-color="#26ffd1"/><stop offset="0.379" stop-color="#2dffca"/><stop offset="0.414" stop-color="#34ffc3"/><stop offset="0.448" stop-color="#3bffbc"/><stop offset="0.483" stop-color="#42ffb4"/><stop offset="0.517" stop-color="#4bffac"/><stop offset="0.552" stop-color="#54ffa3"/><stop offset="0.586" stop-color="#5fff97"/><stop offset="0.621" stop-color="#6dff8a"/><stop offset="0.655" stop-color="#7bff7c"/><stop offset="0.690" stop-color="#8dff69"/><stop offset="0.724" stop-color="#a6ff50"/><stop offset="0.759" stop-color="#bfff38"/><stop offset="0.793" stop-color="#caff2d"/><stop offset="0.828" stop-color="#c3ff34"/><stop offset="0.862" stop-color="#b0ff46"/><stop offset="0.897" stop-color="#94ff62"/><stop offset="0.931" stop-color="#75ff82"/><stop offset="0.966" stop-color="#54ffa3"/><stop offset="1.000" stop-color="#2fffc7"/></linearGradient>
<linearGradient id="g56" gradientUnits="userSpaceOnUse" x1="141.4" x2="403.4" y1="0" y2="0"><stop offset="0.000" stop-color="#003bff"/><stop offset="0.033" stop-color="#0038ff"/><stop offset="0.067" stop-color="#003dff"/><stop offset="0.100" stop-color="#004fff"/><stop offset="0.133" stop-color="#006cff"/><stop offset="0.167" stop-color="#0092ff"/><stop offset="0.200" stop-color="#00bdff"/><stop offset="0.233" stop-color="#00e3f9"/><stop offset="0.267" stop-color="#13fde4"/><stop offset="0.300" stop-color="#1fffd8"/><stop offset="0.333" stop-color="#27ffd0"/><stop offset="0.367" stop-color="#2dffca"/><stop offset="0.400" stop-color="#34ffc3"/><stop offset="0.433" stop-color="#3affbd"/><stop offset="0.467" stop-color="#41ffb6"/><stop offset="0.500" stop-color="#48ffaf"/><stop offset="0.533" stop-color="#50ffa7"/><stop offset="0.567" stop-color="#59ff9e"/><stop offset="0.600" stop-color="#64ff93"/><stop offset="0.633" stop-color="#6fff88"/><stop offset="0.667" stop-color="#7cff7b"/><stop offset="0.700" stop-color="#91ff66"/><stop offset="0.733" stop-color="#aaff4c"/><stop offset="0.767" stop-color="#bfff38"/><stop offset="0.800" stop-color="#c4ff32"/><stop offset="0.833" stop-color="#beff39"/><stop offset="0.867" stop-color="#acff4b"/><stop offset="0.900" stop-color="#93ff64"/><stop offset="0.933" stop-color="#77ff80"/><stop offset="0.967" stop-color="#58ff9f"/><stop offset="1.000" stop-color="#33ffc3"/></linearGradient>
<linearGradient id="g57" gradientUnits="userSpaceOnUse" x1="139.1" x2="405.7" y1="0" y2="0"><stop offset="0.000" stop-color="#003cff"/><stop offset="0.033" stop-color="#0037ff"/><stop offset="0.067" stop-color="#003aff"/><stop offset="0.100" stop-color="#004cff"/><stop offset="0.133" stop-color="#006aff"/><stop offset="0.167" stop-color="#0091ff"/><stop offset="0.200" stop-color="#00beff"/><stop offset="0.233" stop-color="#01e6f6"/><stop offset="0.267" stop-color="#16ffe0"/><stop offset="0.300" stop-color="#22ffd5"/><stop offset="0.333" stop-color="#29ffcd"/><stop offset="0.367" stop-color="#30ffc7"/><stop offset="0.400" stop-color="#36ffc1"/><stop offset="0.433" stop-color="#3cffbb"/><stop offset="0.467" stop-color="#43ffb4"/><stop offset="0.500" stop-color="#4affad"/><stop offset="0.533" stop-color="#51ffa6"/><stop offset="0.567" stop-color="#59ff9d"/><stop offset="0.600" stop-color="#62ff95"/><stop offset="0.633" stop-color="#6bff8c"/><stop offset="0.667" stop-color="#77ff80"/><stop offset="0.700" stop-color="#8dff6a"/><stop offset="0.733" stop-color="#a6ff50"/><stop offset="0.767" stop-color="#baff3d"/><stop offset="0.800" stop-color="#c0ff37"/><stop offset="0.833" stop-color="#bbff3c"/><stop offset="0.867" stop-color="#acff4b"/><stop offset="0.900" stop-color="#95ff62"/><stop offset="0.933" stop-color="#7bff7c"/><stop offset="0.967" stop-color="#5dff9a"/><stop offset="1.000" stop-color="#36ffc0"/></linearGradient>
<linearGradient id="g58" gradientUnits="userSpaceOnUse" x1="136.8" x2="408.0" y1="0" y2="0"><stop offset="0.000" stop-color="#003dff"/><stop offset="0.032" stop-color="#0037ff"/><stop offset="0.065" stop-color="#0037ff"/><stop offset="0.097" stop-color="#0046ff"/><stop offset="0.129" stop-color="#0063ff"/><stop offset="0.161" stop-color="#008aff"/><stop offset="0.194" stop-color="#00b6ff"/><stop offset="0.226" stop-color="#00e1fb"/><stop offset="0.258" stop-color="#15ffe1"/><stop offset="0.290" stop-color="#23ffd4"/><stop offset="0.323" stop-color="#2affcd"/><stop offset="0.355" stop-color="#30ffc7"/><stop offset="0.387" stop-color="#35ffc1"/><stop offset="0.419" stop-color="#3bffbc"/><stop offset="0.452" stop-color="#41ffb5"/><stop offset="0.484" stop-color="#48ffaf"/><stop offset="0.516" stop-color="#4effa8"/><stop offset="0.548" stop-color="#55ffa2"/><stop offset="0.581" stop-color="#5cff9b"/><stop offset="0.613" stop-color="#63ff94"/><stop offset="0.645" stop-color="#6aff8d"/><stop offset="0.677" stop-color="#78ff7f"/><stop offset="0.710" stop-color="#90ff67"/><stop offset="0.742" stop-color="#a8ff4f"/><stop offset="0.774" stop-color="#b8ff3f"/><stop offset="0.806" stop-color="#bdff3a"/><stop offset="0.839" stop-color="#b7ff3f"/><stop offset="0.871" stop-color="#a9ff4e"/><stop offset="0.903" stop-color="#95ff62"/><stop offset="0.935" stop-color="#7dff79"/><stop offset="0.968" stop-color="#60ff96"/><stop offset="1.000" stop-color="#38ffbf"/></linearGradient>
<linearGradient id="g59" gradientUnits="userSpaceOnUse" x1="134.5" x2="410.3" y1="0" y2="0"><stop offset="0.000" stop-color="#003fff"/><stop offset="0.032" stop-color="#0038ff"/><stop offset="0.065" stop-color="#0037ff"/><stop offset="0.097" stop-color="#0043ff"/><stop offset="0.129" stop-color="#0062ff"/><stop offset="0.161" stop-color="#0089ff"/><stop offset="0.194" stop-color="#00b7ff"/><stop offset="0.226" stop-color="#00e3f9"/><stop offset="0.258" stop-color="#19ffde"/><stop offset="0.290" stop-color="#26ffd1"/><stop offset="0.323" stop-color="#2dffca"/><stop offset="0.355" stop-color="#32ffc5"/><stop offset="0.387" stop-color="#37ffbf"/><stop offset="0.419" stop-color="#3dffba"/><stop offset="0.452" stop-color="#43ffb4"/><stop offset="0.484" stop-color="#49ffae"/><stop offset="0.516" stop-color="#4fffa7"/><stop offset="0.548" stop-color="#56ffa1"/><stop offset="0.581" stop-color="#5bff9b"/><stop offset="0.613" stop-color="#60ff96"/><stop offset="0.645" stop-color="#66ff91"/><stop offset="0.677" stop-color="#74ff83"/><stop offset="0.710" stop-color="#8dff6a"/><stop offset="0.742" stop-color="#a4ff53"/><stop offset="0.774" stop-color="#b4ff43"/><stop offset="0.806" stop-color="#baff3d"/><stop offset="0.839" stop-color="#b6ff41"/><stop offset="0.871" stop-color="#a8ff4e"/><stop offset="0.903" stop-color="#97ff60"/><stop offset="0.935" stop-color="#81ff75"/><stop offset="0.968" stop-color="#64ff93"/><stop offset="1.000" stop-color="#37ffc0"/></linearGradient>
<linearGradient id="g60" gradientUnits="userSpaceOnUse" x1="132.3" x2="412.5" y1="0" y2="0"><stop offset="0.000" stop-color="#003fff"/><stop offset="0.031" stop-color="#003aff"/><stop offset="0.062" stop-color="#0038ff"/><stop offset="0.094" stop-color="#0041ff"/><stop offset="0.125" stop-color="#005dff"/><stop offset="0.156" stop-color="#0083ff"/><stop offset="0.188" stop-color="#00afff"/><stop offset="0.219" stop-color="#00dcff"/><stop offset="0.250" stop-color="#16ffe1"/><stop offset="0.281" stop-color="#27ffd0"/><stop offset="0.312" stop-color="#2effc9"/><stop offset="0.344" stop-color="#32ffc4"/><stop offset="0.375" stop-color="#37ffc0"/><stop offset="0.406" stop-color="#3cffbb"/><stop offset="0.438" stop-color="#42ffb5"/><stop offset="0.469" stop-color="#47ffaf"/><stop offset="0.500" stop-color="#4dffa9"/><stop offset="0.531" stop-color="#53ffa4"/><stop offset="0.562" stop-color="#58ff9e"/><stop offset="0.594" stop-color="#5dff9a"/><stop offset="0.625" stop-color="#60ff97"/><stop offset="0.656" stop-color="#66ff91"/><stop offset="0.687" stop-color="#79ff7e"/><stop offset="0.719" stop-color="#91ff66"/><stop offset="0.750" stop-color="#a5ff51"/><stop offset="0.781" stop-color="#b2ff45"/><stop offset="0.812" stop-color="#b7ff40"/><stop offset="0.844" stop-color="#b2ff45"/><stop offset="0.875" stop-color="#a6ff50"/><stop offset="0.906" stop-color="#97ff60"/><stop offset="0.937" stop-color="#83ff73"/><stop offset="0.969" stop-color="#65ff92"/><stop offset="1.000" stop-color="#32ffc4"/></linearGradient>
<linearGradient id="g61" gradientUnits="userSpaceOnUse" x1="130.0" x2="414.8" y1="0" y2="0"><stop offset="0.000" stop-color="#003eff"/><stop offset="0.031" stop-color="#003bff"/><stop offset="0.063" stop-color="#0039ff"/><stop offset="0.094" stop-color="#0042ff"/><stop offset="0.125" stop-color="#005eff"/><stop offset="0.156" stop-color="#0085ff"/><stop offset="0.187" stop-color="#00b1ff"/><stop offset="0.219" stop-color="#00defd"/><stop offset="0.250" stop-color="#18ffdf"/><stop offset="0.281" stop-color="#29ffce"/><stop offset="0.313" stop-color="#31ffc6"/><stop offset="0.344" stop-color="#35ffc2"/><stop offset="0.375" stop-color="#39ffbe"/><stop offset="0.406" stop-color="#3effb9"/><stop offset="0.437" stop-color="#43ffb4"/><stop offset="0.469" stop-color="#49ffae"/><stop offset="0.500" stop-color="#4fffa8"/><stop offset="0.531" stop-color="#54ffa3"/><stop offset="0.562" stop-color="#59ff9e"/><stop offset="0.594" stop-color="#5cff9b"/><stop offset="0.625" stop-color="#5fff98"/><stop offset="0.656" stop-color="#65ff91"/><stop offset="0.688" stop-color="#78ff7f"/><stop offset="0.719" stop-color="#8fff68"/><stop offset="0.750" stop-color="#a2ff55"/><stop offset="0.781" stop-color="#afff48"/><stop offset="0.812" stop-color="#b3ff43"/><stop offset="0.844" stop-color="#afff47"/><stop offset="0.875" stop-color="#a6ff51"/><stop offset="0.906" stop-color="#99ff5e"/><stop offset="0.938" stop-color="#86ff71"/><stop offset="0.969" stop-color="#65ff92"/><stop offset="1.000" stop-color="#2affcc"/></linearGradient>
<linearGradient id="g62" gradientUnits="userSpaceOnUse" x1="127.7" x2="417.1" y1="0" y2="0"><stop offset="0.000" stop-color="#003eff"/><stop offset="0.030" stop-color="#003aff"/><stop offset="0.061" stop-color="#003aff"/><stop offset="0.091" stop-color="#0043ff"/><stop offset="0.121" stop-color="#005bff"/><stop offset="0.152" stop-color="#0081ff"/><stop offset="0.182" stop-color="#00acff"/><stop offset="0.212" stop-color="#00d7ff"/><stop offset="0.242" stop-color="#13fde4"/><stop offset="0.273" stop-color="#27ffcf"/><stop offset="0.303" stop-color="#32ffc5"/><stop offset="0.333" stop-color="#36ffc1"/><stop offset="0.364" stop-color="#3affbd"/><stop offset="0.394" stop-color="#3dffb9"/><stop offset="0.424" stop-color="#42ffb5"/><stop offset="0.455" stop-color="#47ffb0"/><stop offset="0.485" stop-color="#4dffaa"/><stop offset="0.515" stop-color="#52ffa4"/><stop offset="0.545" stop-color="#57ff9f"/><stop offset="0.576" stop-color="#5bff9c"/><stop offset="0.606" stop-color="#5dff99"/><stop offset="0.636" stop-color="#61ff96"/><stop offset="0.667" stop-color="#6bff8c"/><stop offset="0.697" stop-color="#7eff79"/><stop offset="0.727" stop-color="#93ff64"/><stop offset="0.758" stop-color="#a3ff54"/><stop offset="0.788" stop-color="#adff4a"/><stop offset="0.818" stop-color="#b0ff47"/><stop offset="0.848" stop-color="#acff4b"/><stop offset="0.879" stop-color="#a4ff53"/><stop offset="0.909" stop-color="#99ff5d"/><stop offset="0.939" stop-color="#87ff70"/><stop offset="0.970" stop-color="#61ff96"/><stop offset="1.000" stop-color="#1fffd7"/></linearGradient>
<linearGradient id="g63" gradientUnits="userSpaceOnUse" x1="125.4" x2="419.4" y1="0" y2="0"><stop offset="0.000" stop-color="#003dff"/><stop offset="0.030" stop-color="#003aff"/><stop offset="0.061" stop-color="#003bff"/><stop offset="0.091" stop-color="#0045ff"/><stop offset="0.121" stop-color="#005dff"/><stop offset="0.152" stop-color="#0084ff"/><stop offset="0.182" stop-color="#00b0ff"/><stop offset="0.212" stop-color="#00dbff"/><stop offset="0.242" stop-color="#15ffe2"/><stop offset="0.273" stop-color="#29ffce"/><stop offset="0.303" stop-color="#34ffc3"/><stop offset="0.333" stop-color="#39ffbe"/><stop offset="0.364" stop-color="#3cffbb"/><stop offset="0.394" stop-color="#3fffb8"/><stop offset="0.424" stop-color="#43ffb4"/><stop offset="0.455" stop-color="#48ffaf"/><stop offset="0.485" stop-color="#4effa9"/><stop offset="0.515" stop-color="#54ffa3"/><stop offset="0.545" stop-color="#59ff9e"/><stop offset="0.576" stop-color="#5cff9b"/><stop offset="0.606" stop-color="#5eff98"/><stop offset="0.636" stop-color="#62ff95"/><stop offset="0.667" stop-color="#6dff8a"/><stop offset="0.697" stop-color="#7eff79"/><stop offset="0.727" stop-color="#91ff66"/><stop offset="0.758" stop-color="#a0ff57"/><stop offset="0.788" stop-color="#aaff4d"/><stop offset="0.818" stop-color="#acff4a"/><stop offset="0.848" stop-color="#a9ff4d"/><stop offset="0.879" stop-color="#a3ff53"/><stop offset="0.909" stop-color="#9bff5c"/><stop offset="0.939" stop-color="#88ff6e"/><stop offset="0.970" stop-color="#5dff9a"/><stop offset="1.000" stop-color="#13fde4"/></linearGradient>
<linearGradient id="g64" gradientUnits="userSpaceOnUse" x1="123.1" x2="421.7" y1="0" y2="0"><stop offset="0.000" stop-color="#003dff"/><stop offset="0.029" stop-color="#0039ff"/><stop offset="0.059" stop-color="#003aff"/><stop offset="0.088" stop-color="#0044ff"/><stop offset="0.118" stop-color="#005bff"/><stop offset="0.147" stop-color="#0080ff"/><stop offset="0.176" stop-color="#00acff"/><stop offset="0.206" stop-color="#00d7ff"/><stop offset="0.235" stop-color="#11fbe5"/><stop offset="0.265" stop-color="#27ffd0"/><stop offset="0.294" stop-color="#33ffc4"/><stop offset="0.324" stop-color="#39ffbd"/><stop offset="0.353" stop-color="#3cffba"/><stop offset="0.382" stop-color="#3fffb8"/><stop offset="0.412" stop-color="#42ffb5"/><stop offset="0.441" stop-color="#47ffb0"/><stop offset="0.471" stop-color="#4cffab"/><stop offset="0.500" stop-color="#52ffa5"/><stop offset="0.529" stop-color="#57ff9f"/><stop offset="0.559" stop-color="#5cff9b"/><stop offset="0.588" stop-color="#5fff98"/><stop offset="0.618" stop-color="#61ff96"/><stop offset="0.647" stop-color="#67ff90"/><stop offset="0.676" stop-color="#73ff84"/><stop offset="0.706" stop-color="#84ff73"/><stop offset="0.735" stop-color="#94ff63"/><stop offset="0.765" stop-color="#a0ff57"/><stop offset="0.794" stop-color="#a7ff50"/><stop offset="0.824" stop-color="#a9ff4e"/><stop offset="0.853" stop-color="#a6ff51"/><stop offset="0.882" stop-color="#a2ff55"/><stop offset="0.912" stop-color="#9bff5c"/><stop offset="0.941" stop-color="#87ff70"/><stop offset="0.971" stop-color="#54ffa2"/><stop offset="1.000" stop-color="#06edf1"/></linearGradient>
<linearGradient id="g65" gradientUnits="userSpaceOnUse" x1="120.9" x2="423.9" y1="0" y2="0"><stop offset="0.000" stop-color="#003dff"/><stop offset="0.029" stop-color="#0037ff"/><stop offset="0.059" stop-color="#0038ff"/><stop offset="0.088" stop-color="#0043ff"/><stop offset="0.118" stop-color="#005cff"/><stop offset="0.147" stop-color="#0082ff"/><stop offset="0.176" stop-color="#00b0ff"/><stop offset="0.206" stop-color="#00dcff"/><stop offset="0.235" stop-color="#15ffe2"/><stop offset="0.265" stop-color="#29ffce"/><stop offset="0.294" stop-color="#35ffc2"/><stop offset="0.324" stop-color="#3bffbc"/><stop offset="0.353" stop-color="#3effb9"/><stop offset="0.382" stop-color="#40ffb7"/><stop offset="0.412" stop-color="#43ffb4"/><stop offset="0.441" stop-color="#47ffaf"/><stop offset="0.471" stop-color="#4dffaa"/><stop offset="0.500" stop-color="#53ffa4"/><stop offset="0.529" stop-color="#59ff9e"/><stop offset="0.559" stop-color="#5eff99"/><stop offset="0.588" stop-color="#61ff96"/><stop offset="0.618" stop-color="#63ff93"/><stop offset="0.647" stop-color="#69ff8d"/><stop offset="0.676" stop-color="#75ff82"/><stop offset="0.706" stop-color="#84ff73"/><stop offset="0.735" stop-color="#92ff64"/><stop offset="0.765" stop-color="#9eff59"/><stop offset="0.794" stop-color="#a4ff53"/><stop offset="0.824" stop-color="#a5ff52"/><stop offset="0.853" stop-color="#a3ff53"/><stop offset="0.882" stop-color="#a1ff56"/><stop offset="0.912" stop-color="#9cff5b"/><stop offset="0.941" stop-color="#86ff70"/><stop offset="0.971" stop-color="#4cffab"/><stop offset="1.000" stop-color="#00e2fa"/></linearGradient>
<linearGradient id="g66" gradientUnits="userSpaceOnUse" x1="118.6" x2="426.2" y1="0" y2="0"><stop offset="0.000" stop-color="#003dff"/><stop offset="0.029" stop-color="#0037ff"/><stop offset="0.057" stop-color="#0036ff"/><stop offset="0.086" stop-color="#0040ff"/><stop offset="0.114" stop-color="#0057ff"/><stop offset="0.143" stop-color="#007cff"/><stop offset="0.171" stop-color="#00aaff"/><stop offset="0.200" stop-color="#00d8ff"/><stop offset="0.229" stop-color="#13fde4"/><stop offset="0.257" stop-color="#27ffd0"/><stop offset="0.286" stop-color="#34ffc3"/><stop offset="0.314" stop-color="#3bffbc"/><stop offset="0.343" stop-color="#3fffb8"/><stop offset="0.371" stop-color="#41ffb6"/><stop offset="0.400" stop-color="#43ffb4"/><stop offset="0.429" stop-color="#46ffb1"/><stop offset="0.457" stop-color="#4bffac"/><stop offset="0.486" stop-color="#51ffa6"/><stop offset="0.514" stop-color="#58ff9f"/><stop offset="0.543" stop-color="#5dff9a"/><stop offset="0.571" stop-color="#61ff95"/><stop offset="0.600" stop-color="#64ff93"/><stop offset="0.629" stop-color="#68ff8f"/><stop offset="0.657" stop-color="#6fff88"/><stop offset="0.686" stop-color="#7aff7c"/><stop offset="0.714" stop-color="#88ff6f"/><stop offset="0.743" stop-color="#94ff63"/><stop offset="0.771" stop-color="#9dff5a"/><stop offset="0.800" stop-color="#a1ff56"/><stop offset="0.829" stop-color="#a1ff55"/><stop offset="0.857" stop-color="#a0ff56"/><stop offset="0.886" stop-color="#a0ff57"/><stop offset="0.914" stop-color="#9bff5c"/><stop offset="0.943" stop-color="#81ff76"/><stop offset="0.971" stop-color="#43ffb4"/><stop offset="1.000" stop-color="#00daff"/></linearGradient>
<linearGradient id="g67" gradientUnits="userSpaceOnUse" x1="116.3" x2="428.5" y1="0" y2="0"><stop offset="0.000" stop-color="#003eff"/><stop offset="0.029" stop-color="#0036ff"/><stop offset="0.057" stop-color="#0034ff"/><stop offset="0.086" stop-color="#003eff"/><stop offset="0.114" stop-color="#0055ff"/><stop offset="0.143" stop-color="#007bff"/><stop offset="0.171" stop-color="#00abff"/><stop offset="0.200" stop-color="#00dcfe"/><stop offset="0.229" stop-color="#17ffe0"/><stop offset="0.257" stop-color="#2affcd"/><stop offset="0.286" stop-color="#35ffc1"/><stop offset="0.314" stop-color="#3dffba"/><stop offset="0.343" stop-color="#40ffb7"/><stop offset="0.371" stop-color="#42ffb5"/><stop offset="0.400" stop-color="#43ffb3"/><stop offset="0.429" stop-color="#47ffb0"/><stop offset="0.457" stop-color="#4cffab"/><stop offset="0.486" stop-color="#52ffa4"/><stop offset="0.514" stop-color="#59ff9e"/><stop offset="0.543" stop-color="#5fff98"/><stop offset="0.571" stop-color="#64ff93"/><stop offset="0.600" stop-color="#67ff90"/><stop offset="0.629" stop-color="#6aff8d"/><stop offset="0.657" stop-color="#71ff86"/><stop offset="0.686" stop-color="#7cff7b"/><stop offset="0.714" stop-color="#87ff6f"/><stop offset="0.743" stop-color="#92ff64"/><stop offset="0.771" stop-color="#9aff5c"/><stop offset="0.800" stop-color="#9eff59"/><stop offset="0.829" stop-color="#9eff59"/><stop offset="0.857" stop-color="#9eff59"/><stop offset="0.886" stop-color="#a0ff57"/><stop offset="0.914" stop-color="#9cff5b"/><stop offset="0.943" stop-color="#7eff79"/><stop offset="0.971" stop-color="#3fffb8"/><stop offset="1.000" stop-color="#00d3ff"/></linearGradient>
<linearGradient id="g68" gradientUnits="userSpaceOnUse" x1="114.0" x2="430.8" y1="0" y2="0"><stop offset="0.000" stop-color="#003fff"/><stop offset="0.028" stop-color="#0036ff"/><stop offset="0.056" stop-color="#0032ff"/><stop offset="0.083" stop-color="#0039ff"/><stop offset="0.111" stop-color="#004fff"/><stop offset="0.139" stop-color="#0072ff"/><stop offset="0.167" stop-color="#00a1ff"/><stop offset="0.194" stop-color="#00d5ff"/><stop offset="0.222" stop-color="#15ffe2"/><stop offset="0.250" stop-color="#28ffce"/><stop offset="0.278" stop-color="#34ffc2"/><stop offset="0.306" stop-color="#3cffbb"/><stop offset="0.333" stop-color="#40ffb6"/><stop offset="0.361" stop-color="#42ffb4"/><stop offset="0.389" stop-color="#44ffb3"/><stop offset="0.417" stop-color="#46ffb1"/><stop offset="0.444" stop-color="#4affad"/><stop offset="0.472" stop-color="#50ffa7"/><stop offset="0.500" stop-color="#57ffa0"/><stop offset="0.528" stop-color="#5eff99"/><stop offset="0.556" stop-color="#64ff93"/><stop offset="0.583" stop-color="#68ff8f"/><stop offset="0.611" stop-color="#6aff8c"/><stop offset="0.639" stop-color="#6fff88"/><stop offset="0.667" stop-color="#76ff81"/><stop offset="0.694" stop-color="#80ff77"/><stop offset="0.722" stop-color="#8aff6c"/><stop offset="0.750" stop-color="#93ff63"/><stop offset="0.778" stop-color="#99ff5d"/><stop offset="0.806" stop-color="#9cff5b"/><stop offset="0.833" stop-color="#9bff5c"/><stop offset="0.861" stop-color="#9cff5b"/><stop offset="0.889" stop-color="#a1ff56"/><stop offset="0.917" stop-color="#9cff5b"/><stop offset="0.944" stop-color="#7aff7c"/><stop offset="0.972" stop-color="#3cffbb"/><stop offset="1.000" stop-color="#00cdff"/></linearGradient>
<linearGradient id="g69" gradientUnits="userSpaceOnUse" x1="111.7" x2="433.1" y1="0" y2="0"><stop offset="0.000" stop-color="#0040ff"/><stop offset="0.028" stop-color="#0037ff"/><stop offset="0.056" stop-color="#0031ff"/><stop offset="0.083" stop-color="#0036ff"/><stop offset="0.111" stop-color="#004bff"/><stop offset="0.139" stop-color="#006eff"/><stop offset="0.167" stop-color="#009eff"/><stop offset="0.194" stop-color="#00d4ff"/><stop offset="0.222" stop-color="#17ffe0"/><stop offset="0.250" stop-color="#2bffcc"/><stop offset="0.278" stop-color="#36ffc1"/><stop offset="0.306" stop-color="#3dffba"/><stop offset="0.333" stop-color="#41ffb5"/><stop offset="0.361" stop-color="#43ffb3"/><stop offset="0.389" stop-color="#45ffb2"/><stop offset="0.417" stop-color="#46ffb1"/><stop offset="0.444" stop-color="#4affac"/><stop offset="0.472" stop-color="#51ffa6"/><stop offset="0.500" stop-color="#58ff9f"/><stop offset="0.528" stop-color="#5fff97"/><stop offset="0.556" stop-color="#66ff91"/><stop offset="0.583" stop-color="#6aff8d"/><stop offset="0.611" stop-color="#6dff8a"/><stop offset="0.639" stop-color="#71ff86"/><stop offset="0.667" stop-color="#78ff7f"/><stop offset="0.694" stop-color="#81ff76"/><stop offset="0.722" stop-color="#8aff6d"/><stop offset="0.750" stop-color="#92ff64"/><stop offset="0.778" stop-color="#98ff5f"/><stop offset="0.806" stop-color="#9aff5d"/><stop offset="0.833" stop-color="#99ff5e"/><stop offset="0.861" stop-color="#9cff5b"/><stop offset="0.889" stop-color="#a3ff53"/><stop offset="0.917" stop-color="#9eff59"/><stop offset="0.944" stop-color="#7bff7b"/><stop offset="0.972" stop-color="#3bffbb"/><stop offset="1.000" stop-color="#00c9ff"/></linearGradient>
<linearGradient id="g70" gradientUnits="userSpaceOnUse" x1="109.4" x2="435.4" y1="0" y2="0"><stop offset="0.000" stop-color="#003fff"/><stop offset="0.027" stop-color="#0037ff"/><stop offset="0.054" stop-color="#0031ff"/><stop offset="0.081" stop-color="#0032ff"/><stop offset="0.108" stop-color="#0044ff"/><stop offset="0.135" stop-color="#0064ff"/><stop offset="0.162" stop-color="#0091ff"/><stop offset="0.189" stop-color="#00c6ff"/><stop offset="0.216" stop-color="#10f9e7"/><stop offset="0.243" stop-color="#28ffcf"/><stop offset="0.270" stop-color="#35ffc2"/><stop offset="0.297" stop-color="#3cffba"/><stop offset="0.324" stop-color="#41ffb6"/><stop offset="0.351" stop-color="#44ffb3"/><stop offset="0.378" stop-color="#45ffb2"/><stop offset="0.405" stop-color="#46ffb1"/><stop offset="0.432" stop-color="#49ffae"/><stop offset="0.459" stop-color="#4fffa8"/><stop offset="0.486" stop-color="#56ffa1"/><stop offset="0.514" stop-color="#5dff9a"/><stop offset="0.541" stop-color="#64ff93"/><stop offset="0.568" stop-color="#6aff8d"/><stop offset="0.595" stop-color="#6dff8a"/><stop offset="0.622" stop-color="#70ff87"/><stop offset="0.649" stop-color="#75ff82"/><stop offset="0.676" stop-color="#7cff7b"/><stop offset="0.703" stop-color="#84ff73"/><stop offset="0.730" stop-color="#8cff6a"/><stop offset="0.757" stop-color="#93ff64"/><stop offset="0.784" stop-color="#97ff60"/><stop offset="0.811" stop-color="#99ff5e"/><stop offset="0.838" stop-color="#99ff5e"/><stop offset="0.865" stop-color="#a0ff57"/><stop offset="0.892" stop-color="#a7ff50"/><stop offset="0.919" stop-color="#9eff58"/><stop offset="0.946" stop-color="#7bff7c"/><stop offset="0.973" stop-color="#39ffbd"/><stop offset="1.000" stop-color="#00cbff"/></linearGradient>
<linearGradient id="g71" gradientUnits="userSpaceOnUse" x1="107.2" x2="437.6" y1="0" y2="0"><stop offset="0.000" stop-color="#003eff"/><stop offset="0.027" stop-color="#0037ff"/><stop offset="0.054" stop-color="#0031ff"/><stop offset="0.081" stop-color="#0031ff"/><stop offset="0.108" stop-color="#0041ff"/><stop offset="0.135" stop-color="#0060ff"/><stop offset="0.162" stop-color="#008cff"/><stop offset="0.189" stop-color="#00c1ff"/><stop offset="0.216" stop-color="#0cf4eb"/><stop offset="0.243" stop-color="#27ffcf"/><stop offset="0.270" stop-color="#36ffc1"/><stop offset="0.297" stop-color="#3dffb9"/><stop offset="0.324" stop-color="#42ffb5"/><stop offset="0.351" stop-color="#45ffb2"/><stop offset="0.378" stop-color="#46ffb1"/><stop offset="0.405" stop-color="#47ffb0"/><stop offset="0.432" stop-color="#4affad"/><stop offset="0.459" stop-color="#50ffa7"/><stop offset="0.486" stop-color="#57ffa0"/><stop offset="0.514" stop-color="#5eff99"/><stop offset="0.541" stop-color="#65ff91"/><stop offset="0.568" stop-color="#6bff8b"/><stop offset="0.595" stop-color="#6fff88"/><stop offset="0.622" stop-color="#72ff85"/><stop offset="0.649" stop-color="#77ff80"/><stop offset="0.676" stop-color="#7dff79"/><stop offset="0.703" stop-color="#85ff72"/><stop offset="0.730" stop-color="#8dff6a"/><stop offset="0.757" stop-color="#93ff64"/><stop offset="0.784" stop-color="#97ff60"/><stop offset="0.811" stop-color="#99ff5e"/><stop offset="0.838" stop-color="#9cff5b"/><stop offset="0.865" stop-color="#a4ff53"/><stop offset="0.892" stop-color="#abff4c"/><stop offset="0.919" stop-color="#a1ff56"/><stop offset="0.946" stop-color="#7eff79"/><stop offset="0.973" stop-color="#3effb9"/><stop offset="1.000" stop-color="#00d2ff"/></linearGradient>
<linearGradient id="g72" gradientUnits="userSpaceOnUse" x1="104.9" x2="439.9" y1="0" y2="0"><stop offset="0.000" stop-color="#003dff"/><stop offset="0.026" stop-color="#0037ff"/><stop offset="0.053" stop-color="#0030ff"/><stop offset="0.079" stop-color="#0030ff"/><stop offset="0.105" stop-color="#003cff"/><stop offset="0.132" stop-color="#0056ff"/><stop offset="0.158" stop-color="#007eff"/><stop offset="0.184" stop-color="#00b0ff"/><stop offset="0.211" stop-color="#00e4f8"/><stop offset="0.237" stop-color="#1fffd7"/><stop offset="0.263" stop-color="#32ffc5"/><stop offset="0.289" stop-color="#3cffbb"/><stop offset="0.316" stop-color="#41ffb5"/><stop offset="0.342" stop-color="#45ffb2"/><stop offset="0.368" stop-color="#46ffb1"/><stop offset="0.395" stop-color="#47ffaf"/><stop offset="0.421" stop-color="#4affad"/><stop offset="0.447" stop-color="#4effa9"/><stop offset="0.474" stop-color="#54ffa3"/><stop offset="0.500" stop-color="#5bff9b"/><stop offset="0.526" stop-color="#63ff94"/><stop offset="0.553" stop-color="#69ff8d"/><stop offset="0.579" stop-color="#6eff88"/><stop offset="0.605" stop-color="#72ff85"/><stop offset="0.632" stop-color="#75ff81"/><stop offset="0.658" stop-color="#7bff7c"/><stop offset="0.684" stop-color="#81ff76"/><stop offset="0.711" stop-color="#88ff6e"/><stop offset="0.737" stop-color="#8fff68"/><stop offset="0.763" stop-color="#95ff62"/><stop offset="0.789" stop-color="#99ff5e"/><stop offset="0.816" stop-color="#9cff5b"/><stop offset="0.842" stop-color="#a1ff56"/><stop offset="0.868" stop-color="#aaff4d"/><stop offset="0.895" stop-color="#aeff49"/><stop offset="0.921" stop-color="#a2ff55"/><stop offset="0.947" stop-color="#80ff77"/><stop offset="0.974" stop-color="#44ffb3"/><stop offset="1.000" stop-color="#00d6ff"/></linearGradient>
<linearGradient id="g73" gradientUnits="userSpaceOnUse" x1="102.6" x2="442.2" y1="0" y2="0"><stop offset="0.000" stop-color="#003bff"/><stop offset="0.026" stop-color="#0035ff"/><stop offset="0.053" stop-color="#0030ff"/><stop offset="0.079" stop-color="#002fff"/><stop offset="0.105" stop-color="#0039ff"/><stop offset="0.132" stop-color="#0051ff"/><stop offset="0.158" stop-color="#0077ff"/><stop offset="0.184" stop-color="#00a8ff"/><stop offset="0.211" stop-color="#00dcfe"/><stop offset="0.237" stop-color="#1bffdc"/><stop offset="0.263" stop-color="#31ffc6"/><stop offset="0.289" stop-color="#3cffbb"/><stop offset="0.316" stop-color="#42ffb5"/><stop offset="0.342" stop-color="#45ffb2"/><stop offset="0.368" stop-color="#47ffb0"/><stop offset="0.395" stop-color="#48ffaf"/><stop offset="0.421" stop-color="#4bffac"/><stop offset="0.447" stop-color="#4fffa8"/><stop offset="0.474" stop-color="#55ffa2"/><stop offset="0.500" stop-color="#5cff9b"/><stop offset="0.526" stop-color="#64ff93"/><stop offset="0.553" stop-color="#6aff8d"/><stop offset="0.579" stop-color="#6fff88"/><stop offset="0.605" stop-color="#73ff84"/><stop offset="0.632" stop-color="#77ff80"/><stop offset="0.658" stop-color="#7cff7a"/><stop offset="0.684" stop-color="#83ff74"/><stop offset="0.711" stop-color="#8aff6d"/><stop offset="0.737" stop-color="#90ff67"/><stop offset="0.763" stop-color="#96ff61"/><stop offset="0.789" stop-color="#9bff5c"/><stop offset="0.816" stop-color="#9fff57"/><stop offset="0.842" stop-color="#a7ff50"/><stop offset="0.868" stop-color="#afff48"/><stop offset="0.895" stop-color="#b2ff45"/><stop offset="0.921" stop-color="#a6ff50"/><stop offset="0.947" stop-color="#88ff6f"/><stop offset="0.974" stop-color="#4effa9"/><stop offset="1.000" stop-color="#00d7ff"/></linearGradient>
<linearGradient id="g74" gradientUnits="userSpaceOnUse" x1="100.3" x2="444.5" y1="0" y2="0"><stop offset="0.000" stop-color="#003aff"/><stop offset="0.026" stop-color="#0034ff"/><stop offset="0.051" stop-color="#002fff"/><stop offset="0.077" stop-color="#002eff"/><stop offset="0.103" stop-color="#0035ff"/><stop offset="0.128" stop-color="#0049ff"/><stop offset="0.154" stop-color="#006aff"/><stop offset="0.179" stop-color="#0097ff"/><stop offset="0.205" stop-color="#00caff"/><stop offset="0.231" stop-color="#0ff8e8"/><stop offset="0.256" stop-color="#29ffcd"/><stop offset="0.282" stop-color="#38ffbe"/><stop offset="0.308" stop-color="#40ffb6"/><stop offset="0.333" stop-color="#44ffb2"/><stop offset="0.359" stop-color="#46ffb0"/><stop offset="0.385" stop-color="#48ffaf"/><stop offset="0.410" stop-color="#4affad"/><stop offset="0.436" stop-color="#4effa9"/><stop offset="0.462" stop-color="#53ffa4"/><stop offset="0.487" stop-color="#5aff9d"/><stop offset="0.513" stop-color="#61ff96"/><stop offset="0.538" stop-color="#67ff8f"/><stop offset="0.564" stop-color="#6dff8a"/><stop offset="0.590" stop-color="#72ff85"/><stop offset="0.615" stop-color="#76ff81"/><stop offset="0.641" stop-color="#7aff7c"/><stop offset="0.667" stop-color="#80ff77"/><stop offset="0.692" stop-color="#86ff70"/><stop offset="0.718" stop-color="#8dff6a"/><stop offset="0.744" stop-color="#93ff63"/><stop offset="0.769" stop-color="#99ff5d"/><stop offset="0.795" stop-color="#9fff58"/><stop offset="0.821" stop-color="#a6ff51"/><stop offset="0.846" stop-color="#aeff49"/><stop offset="0.872" stop-color="#b4ff42"/><stop offset="0.897" stop-color="#b5ff42"/><stop offset="0.923" stop-color="#aaff4d"/><stop offset="0.949" stop-color="#8fff68"/><stop offset="0.974" stop-color="#52ffa5"/><stop offset="1.000" stop-color="#00d9ff"/></linearGradient>
<linearGradient id="g75" gradientUnits="userSpaceOnUse" x1="98.0" x2="446.8" y1="0" y2="0"><stop offset="0.000" stop-color="#0038ff"/><stop offset="0.026" stop-color="#0032ff"/><stop offset="0.051" stop-color="#002eff"/><stop offset="0.077" stop-color="#002dff"/><stop offset="0.103" stop-color="#0033ff"/><stop offset="0.128" stop-color="#0045ff"/><stop offset="0.154" stop-color="#0064ff"/><stop offset="0.179" stop-color="#008fff"/><stop offset="0.205" stop-color="#00c2ff"/><stop offset="0.231" stop-color="#0af2ed"/><stop offset="0.256" stop-color="#26ffd1"/><stop offset="0.282" stop-color="#37ffc0"/><stop offset="0.308" stop-color="#40ffb7"/><stop offset="0.333" stop-color="#44ffb2"/><stop offset="0.359" stop-color="#47ffb0"/><stop offset="0.385" stop-color="#48ffae"/><stop offset="0.410" stop-color="#4bffac"/><stop offset="0.436" stop-color="#4fffa8"/><stop offset="0.462" stop-color="#54ffa3"/><stop offset="0.487" stop-color="#5aff9d"/><stop offset="0.513" stop-color="#61ff96"/><stop offset="0.538" stop-color="#68ff8f"/><stop offset="0.564" stop-color="#6eff89"/><stop offset="0.590" stop-color="#73ff84"/><stop offset="0.615" stop-color="#77ff80"/><stop offset="0.641" stop-color="#7cff7b"/><stop offset="0.667" stop-color="#82ff75"/><stop offset="0.692" stop-color="#88ff6f"/><stop offset="0.718" stop-color="#8fff68"/><stop offset="0.744" stop-color="#96ff61"/><stop offset="0.769" stop-color="#9dff5a"/><stop offset="0.795" stop-color="#a4ff53"/><stop offset="0.821" stop-color="#abff4b"/><stop offset="0.846" stop-color="#b3ff44"/><stop offset="0.872" stop-color="#b9ff3e"/><stop offset="0.897" stop-color="#b8ff3e"/><stop offset="0.923" stop-color="#afff48"/><stop offset="0.949" stop-color="#96ff61"/><stop offset="0.974" stop-color="#51ffa6"/><stop offset="1.000" stop-color="#00e5f7"/></linearGradient>
<linearGradient id="g76" gradientUnits="userSpaceOnUse" x1="95.8" x2="449.0" y1="0" y2="0"><stop offset="0.000" stop-color="#0037ff"/><stop offset="0.025" stop-color="#0031ff"/><stop offset="0.050" stop-color="#002dff"/><stop offset="0.075" stop-color="#002bff"/><stop offset="0.100" stop-color="#0030ff"/><stop offset="0.125" stop-color="#003fff"/><stop offset="0.150" stop-color="#0059ff"/><stop offset="0.175" stop-color="#0080ff"/><stop offset="0.200" stop-color="#00b0ff"/><stop offset="0.225" stop-color="#00e1fb"/><stop offset="0.250" stop-color="#1cffdb"/><stop offset="0.275" stop-color="#31ffc6"/><stop offset="0.300" stop-color="#3dffba"/><stop offset="0.325" stop-color="#43ffb4"/><stop offset="0.350" stop-color="#46ffb1"/><stop offset="0.375" stop-color="#48ffaf"/><stop offset="0.400" stop-color="#4affad"/><stop offset="0.425" stop-color="#4dffa9"/><stop offset="0.450" stop-color="#52ffa5"/><stop offset="0.475" stop-color="#58ff9f"/><stop offset="0.500" stop-color="#5eff99"/><stop offset="0.525" stop-color="#65ff92"/><stop offset="0.550" stop-color="#6bff8c"/><stop offset="0.575" stop-color="#70ff86"/><stop offset="0.600" stop-color="#75ff82"/><stop offset="0.625" stop-color="#7aff7d"/><stop offset="0.650" stop-color="#7fff78"/><stop offset="0.675" stop-color="#85ff72"/><stop offset="0.700" stop-color="#8cff6b"/><stop offset="0.725" stop-color="#93ff64"/><stop offset="0.750" stop-color="#9aff5c"/><stop offset="0.775" stop-color="#a2ff54"/><stop offset="0.800" stop-color="#abff4c"/><stop offset="0.825" stop-color="#b3ff44"/><stop offset="0.850" stop-color="#b9ff3e"/><stop offset="0.875" stop-color="#bcff3a"/><stop offset="0.900" stop-color="#bcff3b"/><stop offset="0.925" stop-color="#b3ff44"/><stop offset="0.950" stop-color="#96ff61"/><stop offset="0.975" stop-color="#50ffa7"/><stop offset="1.000" stop-color="#10fae7"/></linearGradient>
<linearGradient id="g77" gradientUnits="userSpaceOnUse" x1="93.5" x2="266.8" y1="0" y2="0"><stop offset="0.000" stop-color="#0036ff"/><stop offset="0.050" stop-color="#0030ff"/><stop offset="0.100" stop-color="#002bff"/><stop offset="0.150" stop-color="#002aff"/><stop offset="0.200" stop-color="#002dff"/><stop offset="0.250" stop-color="#0039ff"/><stop offset="0.300" stop-color="#004fff"/><stop offset="0.350" stop-color="#006fff"/><stop offset="0.400" stop-color="#009bff"/><stop offset="0.450" stop-color="#00ccff"/><stop offset="0.500" stop-color="#0ff8e8"/><stop offset="0.550" stop-color="#28ffcf"/><stop offset="0.600" stop-color="#38ffbf"/><stop offset="0.650" stop-color="#40ffb6"/><stop offset="0.700" stop-color="#45ffb2"/><stop offset="0.750" stop-color="#47ffb0"/><stop offset="0.800" stop-color="#49ffae"/><stop offset="0.850" stop-color="#4cffab"/><stop offset="0.900" stop-color="#50ffa7"/><stop offset="0.950" stop-color="#55ffa2"/><stop offset="1.000" stop-color="#5bff9c"/></linearGradient>
<linearGradient id="g78" gradientUnits="userSpaceOnUse" x1="303.2" x2="451.3" y1="0" y2="0"><stop offset="0.000" stop-color="#73ff84"/><stop offset="0.059" stop-color="#78ff7f"/><stop offset="0.118" stop-color="#7dff7a"/><stop offset="0.176" stop-color="#83ff74"/><stop offset="0.235" stop-color="#89ff6d"/><stop offset="0.294" stop-color="#90ff66"/><stop offset="0.353" stop-color="#98ff5f"/><stop offset="0.412" stop-color="#a0ff56"/><stop offset="0.471" stop-color="#aaff4d"/><stop offset="0.529" stop-color="#b3ff44"/><stop offset="0.588" stop-color="#baff3c"/><stop offset="0.647" stop-color="#bfff38"/><stop offset="0.706" stop-color="#c0ff37"/><stop offset="0.765" stop-color="#bfff38"/><stop offset="0.824" stop-color="#b4ff42"/><stop offset="0.882" stop-color="#92ff65"/><stop offset="0.941" stop-color="#56ffa1"/><stop offset="1.000" stop-color="#24ffd3"/></linearGradient>
<linearGradient id="g79" gradientUnits="userSpaceOnUse" x1="92.3" x2="252.7" y1="0" y2="0"><stop offset="0.000" stop-color="#0035ff"/><stop offset="0.056" stop-color="#002eff"/><stop offset="0.111" stop-color="#002aff"/><stop offset="0.167" stop-color="#0029ff"/><stop offset="0.222" stop-color="#002dff"/><stop offset="0.278" stop-color="#0039ff"/><stop offset="0.333" stop-color="#0050ff"/><stop offset="0.389" stop-color="#0072ff"/><stop offset="0.444" stop-color="#00a0ff"/><stop offset="0.500" stop-color="#00d2ff"/><stop offset="0.556" stop-color="#13fde4"/><stop offset="0.611" stop-color="#2bffcb"/><stop offset="0.667" stop-color="#3affbd"/><stop offset="0.722" stop-color="#42ffb5"/><stop offset="0.778" stop-color="#46ffb1"/><stop offset="0.833" stop-color="#48ffaf"/><stop offset="0.889" stop-color="#4affad"/><stop offset="0.944" stop-color="#4effa9"/><stop offset="1.000" stop-color="#52ffa5"/></linearGradient>
<linearGradient id="g80" gradientUnits="userSpaceOnUse" x1="317.3" x2="452.5" y1="0" y2="0"><stop offset="0.000" stop-color="#7bff7b"/><stop offset="0.062" stop-color="#81ff76"/><stop offset="0.125" stop-color="#87ff6f"/><stop offset="0.187" stop-color="#8eff69"/><stop offset="0.250" stop-color="#96ff61"/><stop offset="0.313" stop-color="#9eff59"/><stop offset="0.375" stop-color="#a7ff4f"/><stop offset="0.438" stop-color="#b2ff45"/><stop offset="0.500" stop-color="#bbff3c"/><stop offset="0.562" stop-color="#c0ff37"/><stop offset="0.625" stop-color="#c2ff35"/><stop offset="0.688" stop-color="#c2ff34"/><stop offset="0.750" stop-color="#c1ff35"/><stop offset="0.813" stop-color="#b4ff42"/><stop offset="0.875" stop-color="#92ff65"/><stop offset="0.938" stop-color="#61ff95"/><stop offset="1.000" stop-color="#36ffc1"/></linearGradient>
<linearGradient id="g81" gradientUnits="userSpaceOnUse" x1="91.2" x2="247.5" y1="0" y2="0"><stop offset="0.000" stop-color="#0034ff"/><stop offset="0.056" stop-color="#002eff"/><stop offset="0.111" stop-color="#0029ff"/><stop offset="0.167" stop-color="#0028ff"/><stop offset="0.222" stop-color="#002bff"/><stop offset="0.278" stop-color="#0035ff"/><stop offset="0.333" stop-color="#0049ff"/><stop offset="0.389" stop-color="#0067ff"/><stop offset="0.444" stop-color="#0090ff"/><stop offset="0.500" stop-color="#00c1ff"/><stop offset="0.556" stop-color="#07eef0"/><stop offset="0.611" stop-color="#23ffd4"/><stop offset="0.667" stop-color="#34ffc2"/><stop offset="0.722" stop-color="#3fffb8"/><stop offset="0.778" stop-color="#44ffb3"/><stop offset="0.833" stop-color="#47ffb0"/><stop offset="0.889" stop-color="#49ffae"/><stop offset="0.944" stop-color="#4cffab"/><stop offset="1.000" stop-color="#50ffa7"/></linearGradient>
<linearGradient id="g82" gradientUnits="userSpaceOnUse" x1="322.5" x2="453.6" y1="0" y2="0"><stop offset="0.000" stop-color="#7fff78"/><stop offset="0.067" stop-color="#86ff71"/><stop offset="0.133" stop-color="#8dff6a"/><stop offset="0.200" stop-color="#94ff62"/><stop offset="0.267" stop-color="#9dff5a"/><stop offset="0.333" stop-color="#a7ff50"/><stop offset="0.400" stop-color="#b3ff44"/><stop offset="0.467" stop-color="#bcff3a"/><stop offset="0.533" stop-color="#c3ff34"/><stop offset="0.600" stop-color="#c5ff32"/><stop offset="0.667" stop-color="#c4ff33"/><stop offset="0.733" stop-color="#c4ff33"/><stop offset="0.800" stop-color="#b7ff40"/><stop offset="0.867" stop-color="#96ff61"/><stop offset="0.933" stop-color="#6aff8c"/><stop offset="1.000" stop-color="#40ffb6"/></linearGradient>
<linearGradient id="g83" gradientUnits="userSpaceOnUse" x1="90.1" x2="242.3" y1="0" y2="0"><stop offset="0.000" stop-color="#0034ff"/><stop offset="0.059" stop-color="#002dff"/><stop offset="0.118" stop-color="#0028ff"/><stop offset="0.176" stop-color="#0027ff"/><stop offset="0.235" stop-color="#002bff"/><stop offset="0.294" stop-color="#0036ff"/><stop offset="0.353" stop-color="#004cff"/><stop offset="0.412" stop-color="#006bff"/><stop offset="0.471" stop-color="#0096ff"/><stop offset="0.529" stop-color="#00c8ff"/><stop offset="0.588" stop-color="#0df6ea"/><stop offset="0.647" stop-color="#27ffcf"/><stop offset="0.706" stop-color="#37ffbf"/><stop offset="0.765" stop-color="#40ffb6"/><stop offset="0.824" stop-color="#45ffb2"/><stop offset="0.882" stop-color="#47ffaf"/><stop offset="0.941" stop-color="#4affad"/><stop offset="1.000" stop-color="#4effa9"/></linearGradient>
<linearGradient id="g84" gradientUnits="userSpaceOnUse" x1="327.7" x2="454.7" y1="0" y2="0"><stop offset="0.000" stop-color="#83ff74"/><stop offset="0.067" stop-color="#8aff6d"/><stop offset="0.133" stop-color="#92ff65"/><stop offset="0.200" stop-color="#9aff5d"/><stop offset="0.267" stop-color="#a3ff54"/><stop offset="0.333" stop-color="#aeff48"/><stop offset="0.400" stop-color="#baff3d"/><stop offset="0.467" stop-color="#c3ff34"/><stop offset="0.533" stop-color="#c7ff30"/><stop offset="0.600" stop-color="#c7ff30"/><stop offset="0.667" stop-color="#c7ff30"/><stop offset="0.733" stop-color="#c5ff32"/><stop offset="0.800" stop-color="#b5ff42"/><stop offset="0.867" stop-color="#96ff61"/><stop offset="0.933" stop-color="#71ff85"/><stop offset="1.000" stop-color="#4affad"/></linearGradient>
<linearGradient id="g85" gradientUnits="userSpaceOnUse" x1="88.9" x2="238.4" y1="0" y2="0"><stop offset="0.000" stop-color="#0034ff"/><stop offset="0.059" stop-color="#002cff"/><stop offset="0.118" stop-color="#0028ff"/><stop offset="0.176" stop-color="#0026ff"/><stop offset="0.235" stop-color="#0029ff"/><stop offset="0.294" stop-color="#0033ff"/><stop offset="0.353" stop-color="#0046ff"/><stop offset="0.412" stop-color="#0063ff"/><stop offset="0.471" stop-color="#008aff"/><stop offset="0.529" stop-color="#00bbff"/><stop offset="0.588" stop-color="#03eaf4"/><stop offset="0.647" stop-color="#20ffd7"/><stop offset="0.706" stop-color="#33ffc4"/><stop offset="0.765" stop-color="#3effb9"/><stop offset="0.824" stop-color="#44ffb3"/><stop offset="0.882" stop-color="#47ffb0"/><stop offset="0.941" stop-color="#49ffae"/><stop offset="1.000" stop-color="#4cffab"/></linearGradient>
<linearGradient id="g86" gradientUnits="userSpaceOnUse" x1="331.6" x2="455.9" y1="0" y2="0"><stop offset="0.000" stop-color="#87ff70"/><stop offset="0.071" stop-color="#8fff68"/><stop offset="0.143" stop-color="#97ff60"/><stop offset="0.214" stop-color="#a1ff56"/><stop offset="0.286" stop-color="#acff4a"/><stop offset="0.357" stop-color="#baff3d"/><stop offset="0.429" stop-color="#c4ff33"/><stop offset="0.500" stop-color="#caff2d"/><stop offset="0.571" stop-color="#caff2d"/><stop offset="0.643" stop-color="#c9ff2e"/><stop offset="0.714" stop-color="#c8ff2e"/><stop offset="0.786" stop-color="#b9ff3e"/><stop offset="0.857" stop-color="#9dff5a"/><stop offset="0.929" stop-color="#7cff7b"/><stop offset="1.000" stop-color="#53ffa4"/></linearGradient>
<linearGradient id="g87" gradientUnits="userSpaceOnUse" x1="87.8" x2="234.6" y1="0" y2="0"><stop offset="0.000" stop-color="#0033ff"/><stop offset="0.059" stop-color="#002cff"/><stop offset="0.118" stop-color="#0027ff"/><stop offset="0.176" stop-color="#0026ff"/><stop offset="0.235" stop-color="#0028ff"/><stop offset="0.294" stop-color="#0030ff"/><stop offset="0.353" stop-color="#0042ff"/><stop offset="0.412" stop-color="#005cff"/><stop offset="0.471" stop-color="#007fff"/><stop offset="0.529" stop-color="#00adff"/><stop offset="0.588" stop-color="#00ddfe"/><stop offset="0.647" stop-color="#18ffde"/><stop offset="0.706" stop-color="#2effc9"/><stop offset="0.765" stop-color="#3bffbc"/><stop offset="0.824" stop-color="#42ffb5"/><stop offset="0.882" stop-color="#46ffb1"/><stop offset="0.941" stop-color="#48ffaf"/><stop offset="1.000" stop-color="#4bffac"/></linearGradient>
<linearGradient id="g88" gradientUnits="userSpaceOnUse" x1="335.4" x2="457.0" y1="0" y2="0"><stop offset="0.000" stop-color="#8aff6c"/><stop offset="0.071" stop-color="#93ff64"/><stop offset="0.143" stop-color="#9cff5b"/><stop offset="0.214" stop-color="#a6ff50"/><stop offset="0.286" stop-color="#b4ff43"/><stop offset="0.357" stop-color="#c1ff36"/><stop offset="0.429" stop-color="#caff2d"/><stop offset="0.500" stop-color="#ceff29"/><stop offset="0.571" stop-color="#cdff2a"/><stop offset="0.643" stop-color="#cdff2a"/><stop offset="0.714" stop-color="#caff2d"/><stop offset="0.786" stop-color="#b9ff3e"/><stop offset="0.857" stop-color="#a0ff57"/><stop offset="0.929" stop-color="#84ff72"/><stop offset="1.000" stop-color="#59ff9e"/></linearGradient>
<linearGradient id="g89" gradientUnits="userSpaceOnUse" x1="86.6" x2="230.8" y1="0" y2="0"><stop offset="0.000" stop-color="#0033ff"/><stop offset="0.059" stop-color="#002cff"/><stop offset="0.118" stop-color="#0027ff"/><stop offset="0.176" stop-color="#0025ff"/><stop offset="0.235" stop-color="#0026ff"/><stop offset="0.294" stop-color="#002eff"/><stop offset="0.353" stop-color="#003dff"/><stop offset="0.412" stop-color="#0056ff"/><stop offset="0.471" stop-color="#0077ff"/><stop offset="0.529" stop-color="#00a1ff"/><stop offset="0.588" stop-color="#00d0ff"/><stop offset="0.647" stop-color="#0ff9e7"/><stop offset="0.706" stop-color="#27ffcf"/><stop offset="0.765" stop-color="#37ffc0"/><stop offset="0.824" stop-color="#40ffb7"/><stop offset="0.882" stop-color="#45ffb2"/><stop offset="0.941" stop-color="#47ffaf"/><stop offset="1.000" stop-color="#4affad"/></linearGradient>
<linearGradient id="g90" gradientUnits="userSpaceOnUse" x1="339.2" x2="458.2" y1="0" y2="0"><stop offset="0.000" stop-color="#8fff68"/><stop offset="0.071" stop-color="#98ff5f"/><stop offset="0.143" stop-color="#a1ff55"/><stop offset="0.214" stop-color="#adff4a"/><stop offset="0.286" stop-color="#bbff3c"/><stop offset="0.357" stop-color="#c7ff2f"/><stop offset="0.429" stop-color="#cfff28"/><stop offset="0.500" stop-color="#d1ff25"/><stop offset="0.571" stop-color="#d0ff27"/><stop offset="0.643" stop-color="#d1ff25"/><stop offset="0.714" stop-color="#cbff2c"/><stop offset="0.786" stop-color="#b9ff3d"/><stop offset="0.857" stop-color="#a4ff52"/><stop offset="0.929" stop-color="#8dff6a"/><stop offset="1.000" stop-color="#5eff99"/></linearGradient>
<linearGradient id="g91" gradientUnits="userSpaceOnUse" x1="85.5" x2="227.1" y1="0" y2="0"><stop offset="0.000" stop-color="#0034ff"/><stop offset="0.062" stop-color="#002bff"/><stop offset="0.125" stop-color="#0026ff"/><stop offset="0.188" stop-color="#0024ff"/><stop offset="0.250" stop-color="#0026ff"/><stop offset="0.313" stop-color="#002fff"/><stop offset="0.375" stop-color="#0041ff"/><stop offset="0.438" stop-color="#005cff"/><stop offset="0.500" stop-color="#0081ff"/><stop offset="0.562" stop-color="#00afff"/><stop offset="0.625" stop-color="#00defd"/><stop offset="0.688" stop-color="#19ffde"/><stop offset="0.750" stop-color="#2effc9"/><stop offset="0.813" stop-color="#3bffbc"/><stop offset="0.875" stop-color="#42ffb4"/><stop offset="0.937" stop-color="#46ffb0"/><stop offset="1.000" stop-color="#49ffae"/></linearGradient>
<linearGradient id="g92" gradientUnits="userSpaceOnUse" x1="342.9" x2="459.3" y1="0" y2="0"><stop offset="0.000" stop-color="#93ff64"/><stop offset="0.077" stop-color="#9eff59"/><stop offset="0.154" stop-color="#aaff4d"/><stop offset="0.231" stop-color="#b8ff3f"/><stop offset="0.308" stop-color="#c7ff30"/><stop offset="0.385" stop-color="#d1ff26"/><stop offset="0.462" stop-color="#d5ff22"/><stop offset="0.538" stop-color="#d5ff22"/><stop offset="0.615" stop-color="#d6ff21"/><stop offset="0.692" stop-color="#d0ff26"/><stop offset="0.769" stop-color="#bfff38"/><stop offset="0.846" stop-color="#adff4a"/><stop offset="0.923" stop-color="#98ff5f"/><stop offset="1.000" stop-color="#62ff94"/></linearGradient>
<linearGradient id="g93" gradientUnits="userSpaceOnUse" x1="84.4" x2="223.7" y1="0" y2="0"><stop offset="0.000" stop-color="#0034ff"/><stop offset="0.063" stop-color="#002bff"/><stop offset="0.125" stop-color="#0025ff"/><stop offset="0.187" stop-color="#0023ff"/><stop offset="0.250" stop-color="#0025ff"/><stop offset="0.313" stop-color="#002dff"/><stop offset="0.375" stop-color="#003dff"/><stop offset="0.437" stop-color="#0057ff"/><stop offset="0.500" stop-color="#0079ff"/><stop offset="0.562" stop-color="#00a4ff"/><stop offset="0.625" stop-color="#00d2ff"/><stop offset="0.688" stop-color="#11fbe6"/><stop offset="0.750" stop-color="#29ffce"/><stop offset="0.812" stop-color="#38ffbf"/><stop offset="0.875" stop-color="#41ffb6"/><stop offset="0.938" stop-color="#45ffb1"/><stop offset="1.000" stop-color="#48ffaf"/></linearGradient>
<linearGradient id="g94" gradientUnits="userSpaceOnUse" x1="346.3" x2="460.4" y1="0" y2="0"><stop offset="0.000" stop-color="#98ff5f"/><stop offset="0.077" stop-color="#a3ff54"/><stop offset="0.154" stop-color="#b0ff46"/><stop offset="0.231" stop-color="#c0ff37"/><stop offset="0.308" stop-color="#ceff29"/><stop offset="0.385" stop-color="#d7ff20"/><stop offset="0.462" stop-color="#daff1d"/><stop offset="0.538" stop-color="#daff1d"/><stop offset="0.615" stop-color="#dbff1c"/><stop offset="0.692" stop-color="#d2ff25"/><stop offset="0.769" stop-color="#c1ff36"/><stop offset="0.846" stop-color="#b4ff43"/><stop offset="0.923" stop-color="#a0ff57"/><stop offset="1.000" stop-color="#65ff91"/></linearGradient>
<linearGradient id="g95" gradientUnits="userSpaceOnUse" x1="83.2" x2="220.4" y1="0" y2="0"><stop offset="0.000" stop-color="#0034ff"/><stop offset="0.062" stop-color="#002bff"/><stop offset="0.125" stop-color="#0024ff"/><stop offset="0.188" stop-color="#0022ff"/><stop offset="0.250" stop-color="#0023ff"/><stop offset="0.312" stop-color="#002aff"/><stop offset="0.375" stop-color="#0039ff"/><stop offset="0.438" stop-color="#0051ff"/><stop offset="0.500" stop-color="#0072ff"/><stop offset="0.562" stop-color="#009aff"/><stop offset="0.625" stop-color="#00c7ff"/><stop offset="0.688" stop-color="#09f0ee"/><stop offset="0.750" stop-color="#22ffd4"/><stop offset="0.812" stop-color="#34ffc3"/><stop offset="0.875" stop-color="#3effb9"/><stop offset="0.938" stop-color="#44ffb3"/><stop offset="1.000" stop-color="#47ffaf"/></linearGradient>
<linearGradient id="g96" gradientUnits="userSpaceOnUse" x1="349.6" x2="461.6" y1="0" y2="0"><stop offset="0.000" stop-color="#9dff5a"/><stop offset="0.077" stop-color="#a9ff4e"/><stop offset="0.154" stop-color="#b8ff3f"/><stop offset="0.231" stop-color="#c8ff2f"/><stop offset="0.308" stop-color="#d5ff22"/><stop offset="0.385" stop-color="#dcff1b"/><stop offset="0.462" stop-color="#deff19"/><stop offset="0.538" stop-color="#e0ff17"/><stop offset="0.615" stop-color="#e0ff17"/><stop offset="0.692" stop-color="#d4ff23"/><stop offset="0.769" stop-color="#c4ff32"/><stop offset="0.846" stop-color="#bbff3c"/><stop offset="0.923" stop-color="#a8ff4f"/><stop offset="1.000" stop-color="#68ff8f"/></linearGradient>
<linearGradient id="g97" gradientUnits="userSpaceOnUse" x1="82.1" x2="217.1" y1="0" y2="0"><stop offset="0.000" stop-color="#0034ff"/><stop offset="0.067" stop-color="#002aff"/><stop offset="0.133" stop-color="#0023ff"/><stop offset="0.200" stop-color="#0021ff"/><stop offset="0.267" stop-color="#0023ff"/><stop offset="0.333" stop-color="#002cff"/><stop offset="0.400" stop-color="#003eff"/><stop offset="0.467" stop-color="#0059ff"/><stop offset="0.533" stop-color="#007eff"/><stop offset="0.600" stop-color="#00abff"/><stop offset="0.667" stop-color="#00d9ff"/><stop offset="0.733" stop-color="#15ffe2"/><stop offset="0.800" stop-color="#2cffcb"/><stop offset="0.867" stop-color="#3affbd"/><stop offset="0.933" stop-color="#42ffb5"/><stop offset="1.000" stop-color="#46ffb0"/></linearGradient>
<linearGradient id="g98" gradientUnits="userSpaceOnUse" x1="352.9" x2="462.7" y1="0" y2="0"><stop offset="0.000" stop-color="#a3ff54"/><stop offset="0.077" stop-color="#b0ff47"/><stop offset="0.154" stop-color="#c0ff37"/><stop offset="0.231" stop-color="#d0ff27"/><stop offset="0.308" stop-color="#dcff1b"/><stop offset="0.385" stop-color="#e1ff15"/><stop offset="0.462" stop-color="#e3ff13"/><stop offset="0.538" stop-color="#e6ff11"/><stop offset="0.615" stop-color="#e4ff13"/><stop offset="0.692" stop-color="#d5ff21"/><stop offset="0.769" stop-color="#c9ff2d"/><stop offset="0.846" stop-color="#c3ff33"/><stop offset="0.923" stop-color="#afff47"/><stop offset="1.000" stop-color="#6bff8b"/></linearGradient>
<linearGradient id="g99" gradientUnits="userSpaceOnUse" x1="80.9" x2="213.7" y1="0" y2="0"><stop offset="0.000" stop-color="#0035ff"/><stop offset="0.067" stop-color="#002aff"/><stop offset="0.133" stop-color="#0023ff"/><stop offset="0.200" stop-color="#0020ff"/><stop offset="0.267" stop-color="#0022ff"/><stop offset="0.333" stop-color="#0029ff"/><stop offset="0.400" stop-color="#003aff"/><stop offset="0.467" stop-color="#0054ff"/><stop offset="0.533" stop-color="#0077ff"/><stop offset="0.600" stop-color="#00a1ff"/><stop offset="0.667" stop-color="#00ceff"/><stop offset="0.733" stop-color="#0df6e9"/><stop offset="0.800" stop-color="#26ffd1"/><stop offset="0.867" stop-color="#36ffc1"/><stop offset="0.933" stop-color="#40ffb7"/><stop offset="1.000" stop-color="#45ffb2"/></linearGradient>
<linearGradient id="g100" gradientUnits="userSpaceOnUse" x1="356.3" x2="463.9" y1="0" y2="0"><stop offset="0.000" stop-color="#a9ff4e"/><stop offset="0.083" stop-color="#b9ff3e"/><stop offset="0.167" stop-color="#cbff2c"/><stop offset="0.250" stop-color="#dbff1c"/><stop offset="0.333" stop-color="#e4ff13"/><stop offset="0.417" stop-color="#e8ff0f"/><stop offset="0.500" stop-color="#ebff0c"/><stop offset="0.583" stop-color="#ecff0b"/><stop offset="0.667" stop-color="#ddff19"/><stop offset="0.750" stop-color="#d1ff26"/><stop offset="0.833" stop-color="#cdff2a"/><stop offset="0.917" stop-color="#baff3d"/><stop offset="1.000" stop-color="#70ff87"/></linearGradient>
<linearGradient id="g101" gradientUnits="userSpaceOnUse" x1="79.8" x2="210.7" y1="0" y2="0"><stop offset="0.000" stop-color="#0035ff"/><stop offset="0.067" stop-color="#002aff"/><stop offset="0.133" stop-color="#0023ff"/><stop offset="0.200" stop-color="#0020ff"/><stop offset="0.267" stop-color="#0021ff"/><stop offset="0.333" stop-color="#0027ff"/><stop offset="0.400" stop-color="#0036ff"/><stop offset="0.467" stop-color="#004eff"/><stop offset="0.533" stop-color="#0070ff"/><stop offset="0.600" stop-color="#0099ff"/><stop offset="0.667" stop-color="#00c5ff"/><stop offset="0.733" stop-color="#06edf1"/><stop offset="0.800" stop-color="#20ffd7"/><stop offset="0.867" stop-color="#32ffc5"/><stop offset="0.933" stop-color="#3dffba"/><stop offset="1.000" stop-color="#44ffb3"/></linearGradient>
<linearGradient id="g102" gradientUnits="userSpaceOnUse" x1="359.3" x2="465.0" y1="0" y2="0"><stop offset="0.000" stop-color="#b0ff47"/><stop offset="0.083" stop-color="#c1ff36"/><stop offset="0.167" stop-color="#d3ff23"/><stop offset="0.250" stop-color="#e2ff15"/><stop offset="0.333" stop-color="#e9ff0d"/><stop offset="0.417" stop-color="#edff0a"/><stop offset="0.500" stop-color="#f2fb05"/><stop offset="0.583" stop-color="#f1fc06"/><stop offset="0.667" stop-color="#e0ff16"/><stop offset="0.750" stop-color="#d8ff1f"/><stop offset="0.833" stop-color="#d6ff21"/><stop offset="0.917" stop-color="#bfff37"/><stop offset="1.000" stop-color="#76ff80"/></linearGradient>
<linearGradient id="g103" gradientUnits="userSpaceOnUse" x1="78.7" x2="207.9" y1="0" y2="0"><stop offset="0.000" stop-color="#0036ff"/><stop offset="0.067" stop-color="#002aff"/><stop offset="0.133" stop-color="#0023ff"/><stop offset="0.200" stop-color="#001fff"/><stop offset="0.267" stop-color="#0020ff"/><stop offset="0.333" stop-color="#0026ff"/><stop offset="0.400" stop-color="#0033ff"/><stop offset="0.467" stop-color="#004aff"/><stop offset="0.533" stop-color="#006aff"/><stop offset="0.600" stop-color="#0092ff"/><stop offset="0.667" stop-color="#00bcff"/><stop offset="0.733" stop-color="#00e5f7"/><stop offset="0.800" stop-color="#1affdc"/><stop offset="0.867" stop-color="#2effc9"/><stop offset="0.933" stop-color="#3bffbc"/><stop offset="1.000" stop-color="#42ffb5"/></linearGradient>
<linearGradient id="g104" gradientUnits="userSpaceOnUse" x1="362.1" x2="466.1" y1="0" y2="0"><stop offset="0.000" stop-color="#b6ff41"/><stop offset="0.083" stop-color="#c9ff2e"/><stop offset="0.167" stop-color="#dbff1c"/><stop offset="0.250" stop-color="#e9ff0e"/><stop offset="0.333" stop-color="#efff08"/><stop offset="0.417" stop-color="#f3f903"/><stop offset="0.500" stop-color="#f9f300"/><stop offset="0.583" stop-color="#f6f601"/><stop offset="0.667" stop-color="#e5ff12"/><stop offset="0.750" stop-color="#dfff18"/><stop offset="0.833" stop-color="#deff18"/><stop offset="0.917" stop-color="#c4ff33"/><stop offset="1.000" stop-color="#7eff79"/></linearGradient>
<linearGradient id="g105" gradientUnits="userSpaceOnUse" x1="77.5" x2="205.1" y1="0" y2="0"><stop offset="0.000" stop-color="#0036ff"/><stop offset="0.067" stop-color="#002bff"/><stop offset="0.133" stop-color="#0022ff"/><stop offset="0.200" stop-color="#001eff"/><stop offset="0.267" stop-color="#001fff"/><stop offset="0.333" stop-color="#0024ff"/><stop offset="0.400" stop-color="#0030ff"/><stop offset="0.467" stop-color="#0045ff"/><stop offset="0.533" stop-color="#0064ff"/><stop offset="0.600" stop-color="#008aff"/><stop offset="0.667" stop-color="#00b4ff"/><stop offset="0.733" stop-color="#00ddfe"/><stop offset="0.800" stop-color="#15ffe2"/><stop offset="0.867" stop-color="#29ffcd"/><stop offset="0.933" stop-color="#38ffbf"/><stop offset="1.000" stop-color="#40ffb6"/></linearGradient>
<linearGradient id="g106" gradientUnits="userSpaceOnUse" x1="364.9" x2="467.3" y1="0" y2="0"><stop offset="0.000" stop-color="#bdff3a"/><stop offset="0.083" stop-color="#d0ff27"/><stop offset="0.167" stop-color="#e3ff14"/><stop offset="0.250" stop-color="#eeff08"/><stop offset="0.333" stop-color="#f4f802"/><stop offset="0.417" stop-color="#faf200"/><stop offset="0.500" stop-color="#ffea00"/><stop offset="0.583" stop-color="#faf100"/><stop offset="0.667" stop-color="#ecff0b"/><stop offset="0.750" stop-color="#e7ff0f"/><stop offset="0.833" stop-color="#e7ff10"/><stop offset="0.917" stop-color="#ccff2b"/><stop offset="1.000" stop-color="#88ff6f"/></linearGradient>
<linearGradient id="g107" gradientUnits="userSpaceOnUse" x1="76.4" x2="202.3" y1="0" y2="0"><stop offset="0.000" stop-color="#0037ff"/><stop offset="0.071" stop-color="#002aff"/><stop offset="0.143" stop-color="#0021ff"/><stop offset="0.214" stop-color="#001dff"/><stop offset="0.286" stop-color="#001eff"/><stop offset="0.357" stop-color="#0025ff"/><stop offset="0.429" stop-color="#0034ff"/><stop offset="0.500" stop-color="#004eff"/><stop offset="0.571" stop-color="#0073ff"/><stop offset="0.643" stop-color="#009eff"/><stop offset="0.714" stop-color="#00caff"/><stop offset="0.786" stop-color="#09f1ed"/><stop offset="0.857" stop-color="#22ffd5"/><stop offset="0.929" stop-color="#33ffc4"/><stop offset="1.000" stop-color="#3effb9"/></linearGradient>
<linearGradient id="g108" gradientUnits="userSpaceOnUse" x1="367.7" x2="468.4" y1="0" y2="0"><stop offset="0.000" stop-color="#c5ff32"/><stop offset="0.083" stop-color="#d8ff1f"/><stop offset="0.167" stop-color="#eaff0d"/><stop offset="0.250" stop-color="#f4f903"/><stop offset="0.333" stop-color="#faf200"/><stop offset="0.417" stop-color="#ffe900"/><stop offset="0.500" stop-color="#ffe100"/><stop offset="0.583" stop-color="#ffec00"/><stop offset="0.667" stop-color="#f3fa04"/><stop offset="0.750" stop-color="#f0fe07"/><stop offset="0.833" stop-color="#f0fe07"/><stop offset="0.917" stop-color="#d6ff21"/><stop offset="1.000" stop-color="#95ff62"/></linearGradient>
<linearGradient id="g109" gradientUnits="userSpaceOnUse" x1="75.2" x2="199.5" y1="0" y2="0"><stop offset="0.000" stop-color="#0038ff"/><stop offset="0.071" stop-color="#002bff"/><stop offset="0.143" stop-color="#0021ff"/><stop offset="0.214" stop-color="#001dff"/><stop offset="0.286" stop-color="#001dff"/><stop offset="0.357" stop-color="#0024ff"/><stop offset="0.429" stop-color="#0031ff"/><stop offset="0.500" stop-color="#0049ff"/><stop offset="0.571" stop-color="#006cff"/><stop offset="0.643" stop-color="#0096ff"/><stop offset="0.714" stop-color="#00c2ff"/><stop offset="0.786" stop-color="#03eaf4"/><stop offset="0.857" stop-color="#1dffda"/><stop offset="0.929" stop-color="#2fffc7"/><stop offset="1.000" stop-color="#3bffbb"/></linearGradient>
<linearGradient id="g110" gradientUnits="userSpaceOnUse" x1="370.5" x2="469.6" y1="0" y2="0"><stop offset="0.000" stop-color="#ccff2b"/><stop offset="0.083" stop-color="#e0ff17"/><stop offset="0.167" stop-color="#f0fd07"/><stop offset="0.250" stop-color="#f9f300"/><stop offset="0.333" stop-color="#ffea00"/><stop offset="0.417" stop-color="#ffdf00"/><stop offset="0.500" stop-color="#ffda00"/><stop offset="0.583" stop-color="#ffe600"/><stop offset="0.667" stop-color="#fbf000"/><stop offset="0.750" stop-color="#f9f300"/><stop offset="0.833" stop-color="#f9f300"/><stop offset="0.917" stop-color="#e2ff15"/><stop offset="1.000" stop-color="#a2ff55"/></linearGradient>
<linearGradient id="g111" gradientUnits="userSpaceOnUse" x1="74.1" x2="196.8" y1="0" y2="0"><stop offset="0.000" stop-color="#0039ff"/><stop offset="0.071" stop-color="#002cff"/><stop offset="0.143" stop-color="#0021ff"/><stop offset="0.214" stop-color="#001cff"/><stop offset="0.286" stop-color="#001dff"/><stop offset="0.357" stop-color="#0022ff"/><stop offset="0.429" stop-color="#002eff"/><stop offset="0.500" stop-color="#0044ff"/><stop offset="0.571" stop-color="#0065ff"/><stop offset="0.643" stop-color="#008fff"/><stop offset="0.714" stop-color="#00baff"/><stop offset="0.786" stop-color="#00e2f9"/><stop offset="0.857" stop-color="#18ffdf"/><stop offset="0.929" stop-color="#2bffcc"/><stop offset="1.000" stop-color="#39ffbe"/></linearGradient>
<linearGradient id="g112" gradientUnits="userSpaceOnUse" x1="373.2" x2="470.7" y1="0" y2="0"><stop offset="0.000" stop-color="#d4ff23"/><stop offset="0.091" stop-color="#e9ff0e"/><stop offset="0.182" stop-color="#f7f500"/><stop offset="0.273" stop-color="#ffe900"/><stop offset="0.364" stop-color="#ffde00"/><stop offset="0.455" stop-color="#ffd200"/><stop offset="0.545" stop-color="#ffd900"/><stop offset="0.636" stop-color="#ffe400"/><stop offset="0.727" stop-color="#ffe800"/><stop offset="0.818" stop-color="#ffe500"/><stop offset="0.909" stop-color="#f2fb05"/><stop offset="1.000" stop-color="#aeff48"/></linearGradient>
<linearGradient id="g113" gradientUnits="userSpaceOnUse" x1="73.0" x2="194.3" y1="0" y2="0"><stop offset="0.000" stop-color="#003aff"/><stop offset="0.071" stop-color="#002cff"/><stop offset="0.143" stop-color="#0021ff"/><stop offset="0.214" stop-color="#001cff"/><stop offset="0.286" stop-color="#001cff"/><stop offset="0.357" stop-color="#0021ff"/><stop offset="0.429" stop-color="#002cff"/><stop offset="0.500" stop-color="#003fff"/><stop offset="0.571" stop-color="#005fff"/><stop offset="0.643" stop-color="#0088ff"/><stop offset="0.714" stop-color="#00b4ff"/><stop offset="0.786" stop-color="#00dcff"/><stop offset="0.857" stop-color="#13fde4"/><stop offset="0.929" stop-color="#27ffcf"/><stop offset="1.000" stop-color="#36ffc1"/></linearGradient>
<linearGradient id="g114" gradientUnits="userSpaceOnUse" x1="375.7" x2="471.8" y1="0" y2="0"><stop offset="0.000" stop-color="#daff1d"/><stop offset="0.091" stop-color="#eeff08"/><stop offset="0.182" stop-color="#fdef00"/><stop offset="0.273" stop-color="#ffe200"/><stop offset="0.364" stop-color="#ffd300"/><stop offset="0.455" stop-color="#ffca00"/><stop offset="0.545" stop-color="#ffd200"/><stop offset="0.636" stop-color="#ffd800"/><stop offset="0.727" stop-color="#ffdd00"/><stop offset="0.818" stop-color="#ffd700"/><stop offset="0.909" stop-color="#fcef00"/><stop offset="1.000" stop-color="#bbff3b"/></linearGradient>
<linearGradient id="g115" gradientUnits="userSpaceOnUse" x1="71.8" x2="191.9" y1="0" y2="0"><stop offset="0.000" stop-color="#003bff"/><stop offset="0.071" stop-color="#002dff"/><stop offset="0.143" stop-color="#0021ff"/><stop offset="0.214" stop-color="#001bff"/><stop offset="0.286" stop-color="#001bff"/><stop offset="0.357" stop-color="#0020ff"/><stop offset="0.429" stop-color="#0029ff"/><stop offset="0.500" stop-color="#003bff"/><stop offset="0.571" stop-color="#0059ff"/><stop offset="0.643" stop-color="#0081ff"/><stop offset="0.714" stop-color="#00adff"/><stop offset="0.786" stop-color="#00d5ff"/><stop offset="0.857" stop-color="#0ef7e8"/><stop offset="0.929" stop-color="#23ffd3"/><stop offset="1.000" stop-color="#33ffc4"/></linearGradient>
<linearGradient id="g116" gradientUnits="userSpaceOnUse" x1="378.1" x2="473.0" y1="0" y2="0"><stop offset="0.000" stop-color="#e0ff16"/><stop offset="0.091" stop-color="#f4f903"/><stop offset="0.182" stop-color="#ffe800"/><stop offset="0.273" stop-color="#ffda00"/><stop offset="0.364" stop-color="#ffc800"/><stop offset="0.455" stop-color="#ffc200"/><stop offset="0.545" stop-color="#ffc900"/><stop offset="0.636" stop-color="#ffcb00"/><stop offset="0.727" stop-color="#ffce00"/><stop offset="0.818" stop-color="#ffc800"/><stop offset="0.909" stop-color="#ffe500"/><stop offset="1.000" stop-color="#cbff2c"/></linearGradient>
<linearGradient id="g117" gradientUnits="userSpaceOnUse" x1="70.7" x2="189.4" y1="0" y2="0"><stop offset="0.000" stop-color="#003cff"/><stop offset="0.071" stop-color="#002eff"/><stop offset="0.143" stop-color="#0022ff"/><stop offset="0.214" stop-color="#001bff"/><stop offset="0.286" stop-color="#001aff"/><stop offset="0.357" stop-color="#001eff"/><stop offset="0.429" stop-color="#0028ff"/><stop offset="0.500" stop-color="#0038ff"/><stop offset="0.571" stop-color="#0053ff"/><stop offset="0.643" stop-color="#007aff"/><stop offset="0.714" stop-color="#00a5ff"/><stop offset="0.786" stop-color="#00cfff"/><stop offset="0.857" stop-color="#0af1ed"/><stop offset="0.929" stop-color="#1fffd8"/><stop offset="1.000" stop-color="#2fffc8"/></linearGradient>
<linearGradient id="g118" gradientUnits="userSpaceOnUse" x1="380.6" x2="474.1" y1="0" y2="0"><stop offset="0.000" stop-color="#e6ff11"/><stop offset="0.091" stop-color="#f9f300"/><stop offset="0.182" stop-color="#ffe100"/><stop offset="0.273" stop-color="#ffd000"/><stop offset="0.364" stop-color="#ffbe00"/><stop offset="0.455" stop-color="#ffba00"/><stop offset="0.545" stop-color="#ffbe00"/><stop offset="0.636" stop-color="#ffbc00"/><stop offset="0.727" stop-color="#ffbd00"/><stop offset="0.818" stop-color="#ffba00"/><stop offset="0.909" stop-color="#ffdd00"/><stop offset="1.000" stop-color="#ddff1a"/></linearGradient>
<linearGradient id="g119" gradientUnits="userSpaceOnUse" x1="69.5" x2="187.0" y1="0" y2="0"><stop offset="0.000" stop-color="#003dff"/><stop offset="0.071" stop-color="#002fff"/><stop offset="0.143" stop-color="#0022ff"/><stop offset="0.214" stop-color="#001bff"/><stop offset="0.286" stop-color="#0019ff"/><stop offset="0.357" stop-color="#001dff"/><stop offset="0.429" stop-color="#0026ff"/><stop offset="0.500" stop-color="#0035ff"/><stop offset="0.571" stop-color="#004dff"/><stop offset="0.643" stop-color="#0073ff"/><stop offset="0.714" stop-color="#009eff"/><stop offset="0.786" stop-color="#00c8ff"/><stop offset="0.857" stop-color="#05ecf2"/><stop offset="0.929" stop-color="#1bffdc"/><stop offset="1.000" stop-color="#2cffcb"/></linearGradient>
<linearGradient id="g120" gradientUnits="userSpaceOnUse" x1="383.0" x2="475.3" y1="0" y2="0"><stop offset="0.000" stop-color="#ebff0b"/><stop offset="0.091" stop-color="#feed00"/><stop offset="0.182" stop-color="#ffd900"/><stop offset="0.273" stop-color="#ffc400"/><stop offset="0.364" stop-color="#ffb400"/><stop offset="0.455" stop-color="#ffb200"/><stop offset="0.545" stop-color="#ffb100"/><stop offset="0.636" stop-color="#ffac00"/><stop offset="0.727" stop-color="#ffab00"/><stop offset="0.818" stop-color="#ffae00"/><stop offset="0.909" stop-color="#ffd500"/><stop offset="1.000" stop-color="#f0fd06"/></linearGradient>
<linearGradient id="g121" gradientUnits="userSpaceOnUse" x1="68.4" x2="184.5" y1="0" y2="0"><stop offset="0.000" stop-color="#003eff"/><stop offset="0.077" stop-color="#002fff"/><stop offset="0.154" stop-color="#0021ff"/><stop offset="0.231" stop-color="#0019ff"/><stop offset="0.308" stop-color="#0019ff"/><stop offset="0.385" stop-color="#001fff"/><stop offset="0.462" stop-color="#002aff"/><stop offset="0.538" stop-color="#003dff"/><stop offset="0.615" stop-color="#005cff"/><stop offset="0.692" stop-color="#0088ff"/><stop offset="0.769" stop-color="#00b7ff"/><stop offset="0.846" stop-color="#00e0fb"/><stop offset="0.923" stop-color="#15ffe2"/><stop offset="1.000" stop-color="#28ffcf"/></linearGradient>
<linearGradient id="g122" gradientUnits="userSpaceOnUse" x1="385.5" x2="476.4" y1="0" y2="0"><stop offset="0.000" stop-color="#f0fd06"/><stop offset="0.091" stop-color="#ffe700"/><stop offset="0.182" stop-color="#ffd000"/><stop offset="0.273" stop-color="#ffb800"/><stop offset="0.364" stop-color="#ffac00"/><stop offset="0.455" stop-color="#ffa800"/><stop offset="0.545" stop-color="#ffa100"/><stop offset="0.636" stop-color="#ff9a00"/><stop offset="0.727" stop-color="#ff9a00"/><stop offset="0.818" stop-color="#ffa400"/><stop offset="0.909" stop-color="#ffca00"/><stop offset="1.000" stop-color="#ffe600"/></linearGradient>
<linearGradient id="g123" gradientUnits="userSpaceOnUse" x1="67.3" x2="182.1" y1="0" y2="0"><stop offset="0.000" stop-color="#003fff"/><stop offset="0.077" stop-color="#0030ff"/><stop offset="0.154" stop-color="#0021ff"/><stop offset="0.231" stop-color="#0019ff"/><stop offset="0.308" stop-color="#0018ff"/><stop offset="0.385" stop-color="#001eff"/><stop offset="0.462" stop-color="#0029ff"/><stop offset="0.538" stop-color="#003aff"/><stop offset="0.615" stop-color="#0056ff"/><stop offset="0.692" stop-color="#0081ff"/><stop offset="0.769" stop-color="#00afff"/><stop offset="0.846" stop-color="#00d9ff"/><stop offset="0.923" stop-color="#11fae6"/><stop offset="1.000" stop-color="#24ffd3"/></linearGradient>
<linearGradient id="g124" gradientUnits="userSpaceOnUse" x1="387.9" x2="477.5" y1="0" y2="0"><stop offset="0.000" stop-color="#f5f702"/><stop offset="0.100" stop-color="#ffde00"/><stop offset="0.200" stop-color="#ffc100"/><stop offset="0.300" stop-color="#ffab00"/><stop offset="0.400" stop-color="#ffa000"/><stop offset="0.500" stop-color="#ff9700"/><stop offset="0.600" stop-color="#ff8700"/><stop offset="0.700" stop-color="#ff8c00"/><stop offset="0.800" stop-color="#ff9700"/><stop offset="0.900" stop-color="#ffb900"/><stop offset="1.000" stop-color="#ffce00"/></linearGradient>
<linearGradient id="g125" gradientUnits="userSpaceOnUse" x1="66.1" x2="179.7" y1="0" y2="0"><stop offset="0.000" stop-color="#0040ff"/><stop offset="0.077" stop-color="#0031ff"/><stop offset="0.154" stop-color="#0022ff"/><stop offset="0.231" stop-color="#0019ff"/><stop offset="0.308" stop-color="#0018ff"/><stop offset="0.385" stop-color="#001dff"/><stop offset="0.462" stop-color="#0027ff"/><stop offset="0.538" stop-color="#0037ff"/><stop offset="0.615" stop-color="#0050ff"/><stop offset="0.692" stop-color="#0079ff"/><stop offset="0.769" stop-color="#00a7ff"/><stop offset="0.846" stop-color="#00d2ff"/><stop offset="0.923" stop-color="#0cf4eb"/><stop offset="1.000" stop-color="#20ffd7"/></linearGradient>
<linearGradient id="g126" gradientUnits="userSpaceOnUse" x1="390.3" x2="478.7" y1="0" y2="0"><stop offset="0.000" stop-color="#faf200"/><stop offset="0.100" stop-color="#ffd700"/><stop offset="0.200" stop-color="#ffb600"/><stop offset="0.300" stop-color="#ffa400"/><stop offset="0.400" stop-color="#ff9500"/><stop offset="0.500" stop-color="#ff8400"/><stop offset="0.600" stop-color="#ff7400"/><stop offset="0.700" stop-color="#ff8000"/><stop offset="0.800" stop-color="#ff8d00"/><stop offset="0.900" stop-color="#ffa900"/><stop offset="1.000" stop-color="#ffb600"/></linearGradient>
<linearGradient id="g127" gradientUnits="userSpaceOnUse" x1="65.0" x2="177.2" y1="0" y2="0"><stop offset="0.000" stop-color="#0041ff"/><stop offset="0.077" stop-color="#0032ff"/><stop offset="0.154" stop-color="#0023ff"/><stop offset="0.231" stop-color="#0019ff"/><stop offset="0.308" stop-color="#0017ff"/><stop offset="0.385" stop-color="#001bff"/><stop offset="0.462" stop-color="#0026ff"/><stop offset="0.538" stop-color="#0035ff"/><stop offset="0.615" stop-color="#004cff"/><stop offset="0.692" stop-color="#0071ff"/><stop offset="0.769" stop-color="#009eff"/><stop offset="0.846" stop-color="#00caff"/><stop offset="0.923" stop-color="#07eef0"/><stop offset="1.000" stop-color="#1cffdb"/></linearGradient>
<linearGradient id="g128" gradientUnits="userSpaceOnUse" x1="392.8" x2="479.8" y1="0" y2="0"><stop offset="0.000" stop-color="#feed00"/><stop offset="0.100" stop-color="#ffcf00"/><stop offset="0.200" stop-color="#ffaf00"/><stop offset="0.300" stop-color="#ff9d00"/><stop offset="0.400" stop-color="#ff8800"/><stop offset="0.500" stop-color="#ff6d00"/><stop offset="0.600" stop-color="#ff6300"/><stop offset="0.700" stop-color="#ff7800"/><stop offset="0.800" stop-color="#ff8100"/><stop offset="0.900" stop-color="#ff9500"/><stop offset="1.000" stop-color="#ff9e00"/></linearGradient>
<linearGradient id="g129" gradientUnits="userSpaceOnUse" x1="63.8" x2="174.8" y1="0" y2="0"><stop offset="0.000" stop-color="#0041ff"/><stop offset="0.077" stop-color="#0033ff"/><stop offset="0.154" stop-color="#0024ff"/><stop offset="0.231" stop-color="#0019ff"/><stop offset="0.308" stop-color="#0016ff"/><stop offset="0.385" stop-color="#001aff"/><stop offset="0.462" stop-color="#0024ff"/><stop offset="0.538" stop-color="#0033ff"/><stop offset="0.615" stop-color="#0049ff"/><stop offset="0.692" stop-color="#006aff"/><stop offset="0.769" stop-color="#0096ff"/><stop offset="0.846" stop-color="#00c2ff"/><stop offset="0.923" stop-color="#01e6f6"/><stop offset="1.000" stop-color="#17ffdf"/></linearGradient>
<linearGradient id="g130" gradientUnits="userSpaceOnUse" x1="395.2" x2="481.0" y1="0" y2="0"><stop offset="0.000" stop-color="#ffe800"/><stop offset="0.100" stop-color="#ffc900"/><stop offset="0.200" stop-color="#ffab00"/><stop offset="0.300" stop-color="#ff9500"/><stop offset="0.400" stop-color="#ff7800"/><stop offset="0.500" stop-color="#ff5500"/><stop offset="0.600" stop-color="#ff5500"/><stop offset="0.700" stop-color="#ff7100"/><stop offset="0.800" stop-color="#ff7200"/><stop offset="0.900" stop-color="#ff7d00"/><stop offset="1.000" stop-color="#ff8600"/></linearGradient>
<linearGradient id="g131" gradientUnits="userSpaceOnUse" x1="62.7" x2="172.4" y1="0" y2="0"><stop offset="0.000" stop-color="#0041ff"/><stop offset="0.077" stop-color="#0033ff"/><stop offset="0.154" stop-color="#0025ff"/><stop offset="0.231" stop-color="#0019ff"/><stop offset="0.308" stop-color="#0015ff"/><stop offset="0.385" stop-color="#0019ff"/><stop offset="0.462" stop-color="#0023ff"/><stop offset="0.538" stop-color="#0032ff"/><stop offset="0.615" stop-color="#0046ff"/><stop offset="0.692" stop-color="#0065ff"/><stop offset="0.769" stop-color="#008dff"/><stop offset="0.846" stop-color="#00b8ff"/><stop offset="0.923" stop-color="#00defc"/><stop offset="1.000" stop-color="#12fce5"/></linearGradient>
<linearGradient id="g132" gradientUnits="userSpaceOnUse" x1="397.6" x2="482.1" y1="0" y2="0"><stop offset="0.000" stop-color="#ffe400"/><stop offset="0.100" stop-color="#ffc400"/><stop offset="0.200" stop-color="#ffa900"/><stop offset="0.300" stop-color="#ff8b00"/><stop offset="0.400" stop-color="#ff6200"/><stop offset="0.500" stop-color="#ff4000"/><stop offset="0.600" stop-color="#ff4a00"/><stop offset="0.700" stop-color="#ff6500"/><stop offset="0.800" stop-color="#ff5e00"/><stop offset="0.900" stop-color="#ff6400"/><stop offset="1.000" stop-color="#ff6f00"/></linearGradient>
<linearGradient id="g133" gradientUnits="userSpaceOnUse" x1="61.5" x2="170.0" y1="0" y2="0"><stop offset="0.000" stop-color="#0041ff"/><stop offset="0.077" stop-color="#0034ff"/><stop offset="0.154" stop-color="#0025ff"/><stop offset="0.231" stop-color="#001aff"/><stop offset="0.308" stop-color="#0015ff"/><stop offset="0.385" stop-color="#0017ff"/><stop offset="0.462" stop-color="#0021ff"/><stop offset="0.538" stop-color="#0030ff"/><stop offset="0.615" stop-color="#0044ff"/><stop offset="0.692" stop-color="#0060ff"/><stop offset="0.769" stop-color="#0086ff"/><stop offset="0.846" stop-color="#00afff"/><stop offset="0.923" stop-color="#00d6ff"/><stop offset="1.000" stop-color="#0df5ea"/></linearGradient>
<linearGradient id="g134" gradientUnits="userSpaceOnUse" x1="400.0" x2="483.3" y1="0" y2="0"><stop offset="0.000" stop-color="#ffe000"/><stop offset="0.100" stop-color="#ffc200"/><stop offset="0.200" stop-color="#ffa800"/><stop offset="0.300" stop-color="#ff7e00"/><stop offset="0.400" stop-color="#ff4400"/><stop offset="0.500" stop-color="#ff2f00"/><stop offset="0.600" stop-color="#ff4200"/><stop offset="0.700" stop-color="#ff4f00"/><stop offset="0.800" stop-color="#ff4800"/><stop offset="0.900" stop-color="#ff4c00"/><stop offset="1.000" stop-color="#ff5a00"/></linearGradient>
<linearGradient id="g135" gradientUnits="userSpaceOnUse" x1="60.4" x2="167.5" y1="0" y2="0"><stop offset="0.000" stop-color="#0041ff"/><stop offset="0.083" stop-color="#0033ff"/><stop offset="0.167" stop-color="#0024ff"/><stop offset="0.250" stop-color="#0018ff"/><stop offset="0.333" stop-color="#0014ff"/><stop offset="0.417" stop-color="#0019ff"/><stop offset="0.500" stop-color="#0026ff"/><stop offset="0.583" stop-color="#0038ff"/><stop offset="0.667" stop-color="#0052ff"/><stop offset="0.750" stop-color="#0075ff"/><stop offset="0.833" stop-color="#00a0ff"/><stop offset="0.917" stop-color="#00caff"/><stop offset="1.000" stop-color="#06edf0"/></linearGradient>
<linearGradient id="g136" gradientUnits="userSpaceOnUse" x1="402.5" x2="484.4" y1="0" y2="0"><stop offset="0.000" stop-color="#ffde00"/><stop offset="0.100" stop-color="#ffc200"/><stop offset="0.200" stop-color="#ffa600"/><stop offset="0.300" stop-color="#ff6e00"/><stop offset="0.400" stop-color="#ff3400"/><stop offset="0.500" stop-color="#ff2400"/><stop offset="0.600" stop-color="#ff3700"/><stop offset="0.700" stop-color="#ff3600"/><stop offset="0.800" stop-color="#ff3100"/><stop offset="0.900" stop-color="#ff3300"/><stop offset="1.000" stop-color="#ff4700"/></linearGradient>
<linearGradient id="g137" gradientUnits="userSpaceOnUse" x1="59.3" x2="165.2" y1="0" y2="0"><stop offset="0.000" stop-color="#0041ff"/><stop offset="0.083" stop-color="#0033ff"/><stop offset="0.167" stop-color="#0024ff"/><stop offset="0.250" stop-color="#0018ff"/><stop offset="0.333" stop-color="#0013ff"/><stop offset="0.417" stop-color="#0017ff"/><stop offset="0.500" stop-color="#0024ff"/><stop offset="0.583" stop-color="#0036ff"/><stop offset="0.667" stop-color="#004fff"/><stop offset="0.750" stop-color="#006fff"/><stop offset="0.833" stop-color="#0098ff"/><stop offset="0.917" stop-color="#00c1ff"/><stop offset="1.000" stop-color="#00e6f7"/></linearGradient>
<linearGradient id="g138" gradientUnits="userSpaceOnUse" x1="404.8" x2="485.5" y1="0" y2="0"><stop offset="0.000" stop-color="#ffdf00"/><stop offset="0.111" stop-color="#ffc200"/><stop offset="0.222" stop-color="#ff9900"/><stop offset="0.333" stop-color="#ff4400"/><stop offset="0.444" stop-color="#ff2500"/><stop offset="0.556" stop-color="#ff2500"/><stop offset="0.667" stop-color="#ff2200"/><stop offset="0.778" stop-color="#ff1b00"/><stop offset="0.889" stop-color="#ff1c00"/><stop offset="1.000" stop-color="#ff3800"/></linearGradient>
<linearGradient id="g139" gradientUnits="userSpaceOnUse" x1="58.1" x2="162.8" y1="0" y2="0"><stop offset="0.000" stop-color="#0041ff"/><stop offset="0.083" stop-color="#0034ff"/><stop offset="0.167" stop-color="#0025ff"/><stop offset="0.250" stop-color="#0019ff"/><stop offset="0.333" stop-color="#0013ff"/><stop offset="0.417" stop-color="#0016ff"/><stop offset="0.500" stop-color="#0021ff"/><stop offset="0.583" stop-color="#0034ff"/><stop offset="0.667" stop-color="#004cff"/><stop offset="0.750" stop-color="#006bff"/><stop offset="0.833" stop-color="#0090ff"/><stop offset="0.917" stop-color="#00b9ff"/><stop offset="1.000" stop-color="#00ddfd"/></linearGradient>
<linearGradient id="g140" gradientUnits="userSpaceOnUse" x1="407.2" x2="486.7" y1="0" y2="0"><stop offset="0.000" stop-color="#ffe200"/><stop offset="0.111" stop-color="#ffc600"/><stop offset="0.222" stop-color="#ff9700"/><stop offset="0.333" stop-color="#ff4f00"/><stop offset="0.444" stop-color="#ff2400"/><stop offset="0.556" stop-color="#ff1b00"/><stop offset="0.667" stop-color="#fa0f00"/><stop offset="0.778" stop-color="#f30900"/><stop offset="0.889" stop-color="#ef0600"/><stop offset="1.000" stop-color="#ff2c00"/></linearGradient>
<linearGradient id="g141" gradientUnits="userSpaceOnUse" x1="57.0" x2="160.4" y1="0" y2="0"><stop offset="0.000" stop-color="#0041ff"/><stop offset="0.083" stop-color="#0034ff"/><stop offset="0.167" stop-color="#0026ff"/><stop offset="0.250" stop-color="#0019ff"/><stop offset="0.333" stop-color="#0012ff"/><stop offset="0.417" stop-color="#0014ff"/><stop offset="0.500" stop-color="#001fff"/><stop offset="0.583" stop-color="#0031ff"/><stop offset="0.667" stop-color="#0049ff"/><stop offset="0.750" stop-color="#0067ff"/><stop offset="0.833" stop-color="#008aff"/><stop offset="0.917" stop-color="#00b0ff"/><stop offset="1.000" stop-color="#00d5ff"/></linearGradient>
<linearGradient id="g142" gradientUnits="userSpaceOnUse" x1="409.6" x2="487.8" y1="0" y2="0"><stop offset="0.000" stop-color="#ffe700"/><stop offset="0.111" stop-color="#ffcc00"/><stop offset="0.222" stop-color="#ff9c00"/><stop offset="0.333" stop-color="#ff5c00"/><stop offset="0.444" stop-color="#ff2900"/><stop offset="0.556" stop-color="#fd1100"/><stop offset="0.667" stop-color="#e90100"/><stop offset="0.778" stop-color="#e00000"/><stop offset="0.889" stop-color="#d70000"/><stop offset="1.000" stop-color="#ff2500"/></linearGradient>
<linearGradient id="g143" gradientUnits="userSpaceOnUse" x1="55.8" x2="158.1" y1="0" y2="0"><stop offset="0.000" stop-color="#0041ff"/><stop offset="0.083" stop-color="#0034ff"/><stop offset="0.167" stop-color="#0026ff"/><stop offset="0.250" stop-color="#0019ff"/><stop offset="0.333" stop-color="#0012ff"/><stop offset="0.417" stop-color="#0012ff"/><stop offset="0.500" stop-color="#001cff"/><stop offset="0.583" stop-color="#002eff"/><stop offset="0.667" stop-color="#0046ff"/><stop offset="0.750" stop-color="#0063ff"/><stop offset="0.833" stop-color="#0084ff"/><stop offset="0.917" stop-color="#00a8ff"/><stop offset="1.000" stop-color="#00ccff"/></linearGradient>
<linearGradient id="g144" gradientUnits="userSpaceOnUse" x1="411.9" x2="489.0" y1="0" y2="0"><stop offset="0.000" stop-color="#fcf000"/><stop offset="0.111" stop-color="#ffd500"/><stop offset="0.222" stop-color="#ffa900"/><stop offset="0.333" stop-color="#ff6600"/><stop offset="0.444" stop-color="#ff3200"/><stop offset="0.556" stop-color="#fc1000"/><stop offset="0.667" stop-color="#e00000"/><stop offset="0.778" stop-color="#cf0000"/><stop offset="0.889" stop-color="#c50000"/><stop offset="1.000" stop-color="#ff2300"/></linearGradient>
<linearGradient id="g145" gradientUnits="userSpaceOnUse" x1="54.7" x2="155.7" y1="0" y2="0"><stop offset="0.000" stop-color="#0041ff"/><stop offset="0.083" stop-color="#0035ff"/><stop offset="0.167" stop-color="#0027ff"/><stop offset="0.250" stop-color="#001aff"/><stop offset="0.333" stop-color="#0011ff"/><stop offset="0.417" stop-color="#0011ff"/><stop offset="0.500" stop-color="#001aff"/><stop offset="0.583" stop-color="#002bff"/><stop offset="0.667" stop-color="#0043ff"/><stop offset="0.750" stop-color="#005fff"/><stop offset="0.833" stop-color="#007eff"/><stop offset="0.917" stop-color="#00a1ff"/><stop offset="1.000" stop-color="#00c4ff"/></linearGradient>
<linearGradient id="g146" gradientUnits="userSpaceOnUse" x1="414.3" x2="490.1" y1="0" y2="0"><stop offset="0.000" stop-color="#f3fa04"/><stop offset="0.111" stop-color="#ffe200"/><stop offset="0.222" stop-color="#ffba00"/><stop offset="0.333" stop-color="#ff7000"/><stop offset="0.444" stop-color="#ff3d00"/><stop offset="0.556" stop-color="#ff1a00"/><stop offset="0.667" stop-color="#e10000"/><stop offset="0.778" stop-color="#c00000"/><stop offset="0.889" stop-color="#ba0000"/><stop offset="1.000" stop-color="#ff2500"/></linearGradient>
<linearGradient id="g147" gradientUnits="userSpaceOnUse" x1="53.6" x2="153.4" y1="0" y2="0"><stop offset="0.000" stop-color="#0041ff"/><stop offset="0.083" stop-color="#0035ff"/><stop offset="0.167" stop-color="#0028ff"/><stop offset="0.250" stop-color="#001bff"/><stop offset="0.333" stop-color="#0011ff"/><stop offset="0.417" stop-color="#0010ff"/><stop offset="0.500" stop-color="#0017ff"/><stop offset="0.583" stop-color="#0027ff"/><stop offset="0.667" stop-color="#003fff"/><stop offset="0.750" stop-color="#005bff"/><stop offset="0.833" stop-color="#0079ff"/><stop offset="0.917" stop-color="#009aff"/><stop offset="1.000" stop-color="#00bbff"/></linearGradient>
<linearGradient id="g148" gradientUnits="userSpaceOnUse" x1="416.6" x2="491.2" y1="0" y2="0"><stop offset="0.000" stop-color="#e7ff0f"/><stop offset="0.111" stop-color="#f9f300"/><stop offset="0.222" stop-color="#ffc800"/><stop offset="0.333" stop-color="#ff7c00"/><stop offset="0.444" stop-color="#ff4c00"/><stop offset="0.556" stop-color="#ff2800"/><stop offset="0.667" stop-color="#eb0300"/><stop offset="0.778" stop-color="#b80000"/><stop offset="0.889" stop-color="#b50000"/><stop offset="1.000" stop-color="#ff2900"/></linearGradient>
<linearGradient id="g149" gradientUnits="userSpaceOnUse" x1="52.4" x2="151.1" y1="0" y2="0"><stop offset="0.000" stop-color="#0041ff"/><stop offset="0.091" stop-color="#0034ff"/><stop offset="0.182" stop-color="#0026ff"/><stop offset="0.273" stop-color="#0018ff"/><stop offset="0.364" stop-color="#000fff"/><stop offset="0.455" stop-color="#0010ff"/><stop offset="0.545" stop-color="#001cff"/><stop offset="0.636" stop-color="#0032ff"/><stop offset="0.727" stop-color="#0050ff"/><stop offset="0.818" stop-color="#0070ff"/><stop offset="0.909" stop-color="#0091ff"/><stop offset="1.000" stop-color="#00b4ff"/></linearGradient>
<linearGradient id="g150" gradientUnits="userSpaceOnUse" x1="418.9" x2="492.4" y1="0" y2="0"><stop offset="0.000" stop-color="#d9ff1d"/><stop offset="0.111" stop-color="#e8ff0f"/><stop offset="0.222" stop-color="#ffd500"/><stop offset="0.333" stop-color="#ff8a00"/><stop offset="0.444" stop-color="#ff5f00"/><stop offset="0.556" stop-color="#ff3900"/><stop offset="0.667" stop-color="#fc1100"/><stop offset="0.778" stop-color="#bc0000"/><stop offset="0.889" stop-color="#b60000"/><stop offset="1.000" stop-color="#ff3400"/></linearGradient>
<linearGradient id="g151" gradientUnits="userSpaceOnUse" x1="51.3" x2="149.0" y1="0" y2="0"><stop offset="0.000" stop-color="#0041ff"/><stop offset="0.091" stop-color="#0034ff"/><stop offset="0.182" stop-color="#0026ff"/><stop offset="0.273" stop-color="#0019ff"/><stop offset="0.364" stop-color="#000fff"/><stop offset="0.455" stop-color="#000eff"/><stop offset="0.545" stop-color="#0019ff"/><stop offset="0.636" stop-color="#002eff"/><stop offset="0.727" stop-color="#004cff"/><stop offset="0.818" stop-color="#006cff"/><stop offset="0.909" stop-color="#008cff"/><stop offset="1.000" stop-color="#00adff"/></linearGradient>
<linearGradient id="g152" gradientUnits="userSpaceOnUse" x1="421.0" x2="493.5" y1="0" y2="0"><stop offset="0.000" stop-color="#c9ff2e"/><stop offset="0.111" stop-color="#d5ff22"/><stop offset="0.222" stop-color="#ffdf00"/><stop offset="0.333" stop-color="#ff9b00"/><stop offset="0.444" stop-color="#ff7600"/><stop offset="0.556" stop-color="#ff4f00"/><stop offset="0.667" stop-color="#ff2400"/><stop offset="0.778" stop-color="#cd0000"/><stop offset="0.889" stop-color="#bd0000"/><stop offset="1.000" stop-color="#ff4600"/></linearGradient>
<linearGradient id="g153" gradientUnits="userSpaceOnUse" x1="50.1" x2="146.8" y1="0" y2="0"><stop offset="0.000" stop-color="#0041ff"/><stop offset="0.091" stop-color="#0035ff"/><stop offset="0.182" stop-color="#0027ff"/><stop offset="0.273" stop-color="#0019ff"/><stop offset="0.364" stop-color="#000fff"/><stop offset="0.455" stop-color="#000dff"/><stop offset="0.545" stop-color="#0016ff"/><stop offset="0.636" stop-color="#002aff"/><stop offset="0.727" stop-color="#0047ff"/><stop offset="0.818" stop-color="#0068ff"/><stop offset="0.909" stop-color="#0087ff"/><stop offset="1.000" stop-color="#00a7ff"/></linearGradient>
<linearGradient id="g154" gradientUnits="userSpaceOnUse" x1="423.2" x2="494.7" y1="0" y2="0"><stop offset="0.000" stop-color="#b7ff40"/><stop offset="0.125" stop-color="#c8ff2e"/><stop offset="0.250" stop-color="#ffd700"/><stop offset="0.375" stop-color="#ffa200"/><stop offset="0.500" stop-color="#ff7d00"/><stop offset="0.625" stop-color="#ff5200"/><stop offset="0.750" stop-color="#f90e00"/><stop offset="0.875" stop-color="#c70000"/><stop offset="1.000" stop-color="#ff6000"/></linearGradient>
<linearGradient id="g155" gradientUnits="userSpaceOnUse" x1="49.0" x2="144.7" y1="0" y2="0"><stop offset="0.000" stop-color="#0041ff"/><stop offset="0.091" stop-color="#0035ff"/><stop offset="0.182" stop-color="#0028ff"/><stop offset="0.273" stop-color="#001aff"/><stop offset="0.364" stop-color="#000fff"/><stop offset="0.455" stop-color="#000cff"/><stop offset="0.545" stop-color="#0013ff"/><stop offset="0.636" stop-color="#0026ff"/><stop offset="0.727" stop-color="#0043ff"/><stop offset="0.818" stop-color="#0064ff"/><stop offset="0.909" stop-color="#0083ff"/><stop offset="1.000" stop-color="#00a1ff"/></linearGradient>
<linearGradient id="g156" gradientUnits="userSpaceOnUse" x1="425.3" x2="495.8" y1="0" y2="0"><stop offset="0.000" stop-color="#a5ff52"/><stop offset="0.125" stop-color="#c2ff35"/><stop offset="0.250" stop-color="#ffe500"/><stop offset="0.375" stop-color="#ffbc00"/><stop offset="0.500" stop-color="#ff9b00"/><stop offset="0.625" stop-color="#ff7600"/><stop offset="0.750" stop-color="#ff2e00"/><stop offset="0.875" stop-color="#ec0300"/><stop offset="1.000" stop-color="#ff8000"/></linearGradient>
<linearGradient id="g157" gradientUnits="userSpaceOnUse" x1="47.9" x2="142.6" y1="0" y2="0"><stop offset="0.000" stop-color="#0040ff"/><stop offset="0.091" stop-color="#0035ff"/><stop offset="0.182" stop-color="#0028ff"/><stop offset="0.273" stop-color="#001bff"/><stop offset="0.364" stop-color="#000fff"/><stop offset="0.455" stop-color="#000bff"/><stop offset="0.545" stop-color="#0011ff"/><stop offset="0.636" stop-color="#0021ff"/><stop offset="0.727" stop-color="#003dff"/><stop offset="0.818" stop-color="#005fff"/><stop offset="0.909" stop-color="#007fff"/><stop offset="1.000" stop-color="#009cff"/></linearGradient>
<linearGradient id="g158" gradientUnits="userSpaceOnUse" x1="427.4" x2="496.9" y1="0" y2="0"><stop offset="0.000" stop-color="#95ff62"/><stop offset="0.125" stop-color="#bdff3a"/><stop offset="0.250" stop-color="#f6f701"/><stop offset="0.375" stop-color="#ffda00"/><stop offset="0.500" stop-color="#ffbd00"/><stop offset="0.625" stop-color="#ffa100"/><stop offset="0.750" stop-color="#ff5100"/><stop offset="0.875" stop-color="#ff3700"/><stop offset="1.000" stop-color="#ffa100"/></linearGradient>
<linearGradient id="g159" gradientUnits="userSpaceOnUse" x1="46.7" x2="140.5" y1="0" y2="0"><stop offset="0.000" stop-color="#0040ff"/><stop offset="0.091" stop-color="#0035ff"/><stop offset="0.182" stop-color="#0029ff"/><stop offset="0.273" stop-color="#001cff"/><stop offset="0.364" stop-color="#0010ff"/><stop offset="0.455" stop-color="#000aff"/><stop offset="0.545" stop-color="#000eff"/><stop offset="0.636" stop-color="#001dff"/><stop offset="0.727" stop-color="#0037ff"/><stop offset="0.818" stop-color="#005aff"/><stop offset="0.909" stop-color="#007aff"/><stop offset="1.000" stop-color="#0097ff"/></linearGradient>
<linearGradient id="g160" gradientUnits="userSpaceOnUse" x1="429.5" x2="498.1" y1="0" y2="0"><stop offset="0.000" stop-color="#89ff6e"/><stop offset="0.125" stop-color="#b7ff3f"/><stop offset="0.250" stop-color="#e3ff14"/><stop offset="0.375" stop-color="#f2fb05"/><stop offset="0.500" stop-color="#ffe300"/><stop offset="0.625" stop-color="#ffd300"/><stop offset="0.750" stop-color="#ff7400"/><stop offset="0.875" stop-color="#ff7000"/><stop offset="1.000" stop-color="#ffc300"/></linearGradient>
<linearGradient id="g161" gradientUnits="userSpaceOnUse" x1="45.6" x2="138.0" y1="0" y2="0"><stop offset="0.000" stop-color="#0040ff"/><stop offset="0.091" stop-color="#0036ff"/><stop offset="0.182" stop-color="#002aff"/><stop offset="0.273" stop-color="#001dff"/><stop offset="0.364" stop-color="#0011ff"/><stop offset="0.455" stop-color="#000aff"/><stop offset="0.545" stop-color="#000cff"/><stop offset="0.636" stop-color="#0019ff"/><stop offset="0.727" stop-color="#0030ff"/><stop offset="0.818" stop-color="#0053ff"/><stop offset="0.909" stop-color="#0074ff"/><stop offset="1.000" stop-color="#0090ff"/></linearGradient>
<linearGradient id="g162" gradientUnits="userSpaceOnUse" x1="432.0" x2="499.2" y1="0" y2="0"><stop offset="0.000" stop-color="#82ff75"/><stop offset="0.125" stop-color="#b1ff45"/><stop offset="0.250" stop-color="#ceff29"/><stop offset="0.375" stop-color="#d8ff1f"/><stop offset="0.500" stop-color="#e3ff13"/><stop offset="0.625" stop-color="#e9ff0e"/><stop offset="0.750" stop-color="#ff9a00"/><stop offset="0.875" stop-color="#ffa900"/><stop offset="1.000" stop-color="#ffe400"/></linearGradient>
<linearGradient id="g163" gradientUnits="userSpaceOnUse" x1="44.4" x2="135.3" y1="0" y2="0"><stop offset="0.000" stop-color="#0040ff"/><stop offset="0.091" stop-color="#0036ff"/><stop offset="0.182" stop-color="#002bff"/><stop offset="0.273" stop-color="#001eff"/><stop offset="0.364" stop-color="#0012ff"/><stop offset="0.455" stop-color="#000aff"/><stop offset="0.545" stop-color="#000aff"/><stop offset="0.636" stop-color="#0015ff"/><stop offset="0.727" stop-color="#002aff"/><stop offset="0.818" stop-color="#004aff"/><stop offset="0.909" stop-color="#006eff"/><stop offset="1.000" stop-color="#008aff"/></linearGradient>
<linearGradient id="g164" gradientUnits="userSpaceOnUse" x1="434.7" x2="500.4" y1="0" y2="0"><stop offset="0.000" stop-color="#7eff78"/><stop offset="0.125" stop-color="#a7ff50"/><stop offset="0.250" stop-color="#b6ff41"/><stop offset="0.375" stop-color="#bdff3a"/><stop offset="0.500" stop-color="#beff39"/><stop offset="0.625" stop-color="#cfff28"/><stop offset="0.750" stop-color="#ffc300"/><stop offset="0.875" stop-color="#ffd800"/><stop offset="1.000" stop-color="#ebff0c"/></linearGradient>
<linearGradient id="g165" gradientUnits="userSpaceOnUse" x1="43.3" x2="132.7" y1="0" y2="0"><stop offset="0.000" stop-color="#0040ff"/><stop offset="0.100" stop-color="#0035ff"/><stop offset="0.200" stop-color="#0029ff"/><stop offset="0.300" stop-color="#001cff"/><stop offset="0.400" stop-color="#0010ff"/><stop offset="0.500" stop-color="#0008ff"/><stop offset="0.600" stop-color="#000dff"/><stop offset="0.700" stop-color="#001dff"/><stop offset="0.800" stop-color="#003aff"/><stop offset="0.900" stop-color="#0062ff"/><stop offset="1.000" stop-color="#0083ff"/></linearGradient>
<linearGradient id="g166" gradientUnits="userSpaceOnUse" x1="437.3" x2="501.5" y1="0" y2="0"><stop offset="0.000" stop-color="#7aff7c"/><stop offset="0.125" stop-color="#97ff60"/><stop offset="0.250" stop-color="#9dff5a"/><stop offset="0.375" stop-color="#9fff58"/><stop offset="0.500" stop-color="#9aff5c"/><stop offset="0.625" stop-color="#bfff37"/><stop offset="0.750" stop-color="#fcef00"/><stop offset="0.875" stop-color="#eeff09"/><stop offset="1.000" stop-color="#d0ff26"/></linearGradient>
<linearGradient id="cb" gradientUnits="userSpaceOnUse" x1="0" x2="0" y1="149.5" y2="288.7"><stop offset="0.000" stop-color="#800000"/><stop offset="0.026" stop-color="#9d0000"/><stop offset="0.051" stop-color="#bb0000"/><stop offset="0.077" stop-color="#d90000"/><stop offset="0.103" stop-color="#f60c00"/><stop offset="0.128" stop-color="#ff2400"/><stop offset="0.154" stop-color="#ff3c00"/><stop offset="0.179" stop-color="#ff5500"/><stop offset="0.205" stop-color="#ff6d00"/><stop offset="0.231" stop-color="#ff8500"/><stop offset="0.256" stop-color="#ff9d00"/><stop offset="0.282" stop-color="#ffb500"/><stop offset="0.308" stop-color="#ffce00"/><stop offset="0.333" stop-color="#ffe600"/><stop offset="0.359" stop-color="#effe07"/><stop offset="0.385" stop-color="#daff1c"/><stop offset="0.410" stop-color="#c5ff32"/><stop offset="0.436" stop-color="#b0ff47"/><stop offset="0.462" stop-color="#9bff5c"/><stop offset="0.487" stop-color="#86ff71"/><stop offset="0.513" stop-color="#71ff86"/><stop offset="0.538" stop-color="#5cff9b"/><stop offset="0.564" stop-color="#47ffb0"/><stop offset="0.590" stop-color="#32ffc5"/><stop offset="0.615" stop-color="#1cffda"/><stop offset="0.641" stop-color="#07efef"/><stop offset="0.667" stop-color="#00d5ff"/><stop offset="0.692" stop-color="#00baff"/><stop offset="0.718" stop-color="#00a0ff"/><stop offset="0.744" stop-color="#0086ff"/><stop offset="0.769" stop-color="#006cff"/><stop offset="0.795" stop-color="#0052ff"/><stop offset="0.821" stop-color="#0038ff"/><stop offset="0.846" stop-color="#001dff"/><stop offset="0.872" stop-color="#0003ff"/><stop offset="0.897" stop-color="#0000f6"/><stop offset="0.923" stop-color="#0000d9"/><stop offset="0.949" stop-color="#0000bb"/><stop offset="0.974" stop-color="#00009d"/><stop offset="1.000" stop-color="#000080"/></linearGradient>
</defs>
<g clip-path="url(#tri)">
<g shape-rendering="crispEdges">
<rect x="269.1" y="40.00" width="6.6" height="3.73" fill="url(#g0)"/>
<rect x="266.8" y="43.33" width="11.1" height="3.73" fill="url(#g1)"/>
<rect x="264.6" y="46.67" width="15.7" height="3.73" fill="url(#g2)"/>
<rect x="262.3" y="50.00" width="20.2" height="3.73" fill="url(#g3)"/>
<rect x="260.0" y="53.33" width="24.8" height="3.73" fill="url(#g4)"/>
<rect x="257.7" y="56.66" width="29.4" height="3.73" fill="url(#g5)"/>
<rect x="255.4" y="60.00" width="33.9" height="3.73" fill="url(#g6)"/>
<rect x="253.2" y="63.33" width="38.5" height="3.73" fill="url(#g7)"/>
<rect x="250.9" y="66.66" width="43.1" height="3.73" fill="url(#g8)"/>
<rect x="248.6" y="70.00" width="47.6" height="3.73" fill="url(#g9)"/>
<rect x="246.3" y="73.33" width="52.2" height="3.73" fill="url(#g10)"/>
<rect x="244.0" y="76.66" width="56.7" height="3.73" fill="url(#g11)"/>
<rect x="241.7" y="80.00" width="61.3" height="3.73" fill="url(#g12)"/>
<rect x="239.5" y="83.33" width="65.9" height="3.73" fill="url(#g13)"/>
<rect x="237.2" y="86.66" width="70.4" height="3.73" fill="url(#g14)"/>
<rect x="234.9" y="89.99" width="75.0" height="3.73" fill="url(#g15)"/>
<rect x="232.6" y="93.33" width="79.6" height="3.73" fill="url(#g16)"/>
<rect x="230.3" y="96.66" width="84.1" height="3.73" fill="url(#g17)"/>
<rect x="228.1" y="99.99" width="88.7" height="3.73" fill="url(#g18)"/>
<rect x="225.8" y="103.33" width="93.2" height="3.73" fill="url(#g19)"/>
<rect x="223.5" y="106.66" width="97.8" height="3.73" fill="url(#g20)"/>
<rect x="221.2" y="109.99" width="102.4" height="3.73" fill="url(#g21)"/>
<rect x="218.9" y="113.33" width="106.9" height="3.73" fill="url(#g22)"/>
<rect x="216.7" y="116.66" width="111.5" height="3.73" fill="url(#g23)"/>
<rect x="214.4" y="119.99" width="116.0" height="3.73" fill="url(#g24)"/>
<rect x="212.1" y="123.32" width="120.6" height="3.73" fill="url(#g25)"/>
<rect x="209.8" y="126.66" width="125.2" height="3.73" fill="url(#g26)"/>
<rect x="207.5" y="129.99" width="129.7" height="3.73" fill="url(#g27)"/>
<rect x="205.3" y="133.32" width="134.3" height="3.73" fill="url(#g28)"/>
<rect x="203.0" y="136.66" width="138.9" height="3.73" fill="url(#g29)"/>
<rect x="200.7" y="139.99" width="143.4" height="3.73" fill="url(#g30)"/>
<rect x="198.4" y="143.32" width="148.0" height="3.73" fill="url(#g31)"/>
<rect x="196.1" y="146.66" width="152.5" height="3.73" fill="url(#g32)"/>
<rect x="193.8" y="149.99" width="157.1" height="3.73" fill="url(#g33)"/>
<rect x="191.6" y="153.32" width="161.7" height="3.73" fill="url(#g34)"/>
<rect x="189.3" y="156.65" width="166.2" height="3.73" fill="url(#g35)"/>
<rect x="187.0" y="159.99" width="170.8" height="3.73" fill="url(#g36)"/>
<rect x="184.7" y="163.32" width="175.4" height="3.73" fill="url(#g37)"/>
<rect x="182.4" y="166.65" width="179.9" height="3.73" fill="url(#g38)"/>
<rect x="180.2" y="169.99" width="184.5" height="3.73" fill="url(#g39)"/>
<rect x="177.9" y="173.32" width="189.0" height="3.73" fill="url(#g40)"/>
<rect x="175.6" y="176.65" width="193.6" height="3.73" fill="url(#g41)"/>
<rect x="173.3" y="179.99" width="198.2" height="3.73" fill="url(#g42)"/>
<rect x="171.0" y="183.32" width="202.7" height="3.73" fill="url(#g43)"/>
<rect x="168.8" y="186.65" width="207.3" height="3.73" fill="url(#g44)"/>
<rect x="166.5" y="189.98" width="211.9" height="3.73" fill="url(#g45)"/>
<rect x="164.2" y="193.32" width="216.4" height="3.73" fill="url(#g46)"/>
<rect x="161.9" y="196.65" width="221.0" height="3.73" fill="url(#g47)"/>
<rect x="159.6" y="199.98" width="225.5" height="3.73" fill="url(#g48)"/>
<rect x="157.4" y="203.32" width="230.1" height="3.73" fill="url(#g49)"/>
<rect x="155.1" y="206.65" width="234.7" height="3.73" fill="url(#g50)"/>
<rect x="152.8" y="209.98" width="239.2" height="3.73" fill="url(#g51)"/>
<rect x="150.5" y="213.32" width="243.8" height="3.73" fill="url(#g52)"/>
<rect x="148.2" y="216.65" width="248.3" height="3.73" fill="url(#g53)"/>
<rect x="145.9" y="219.98" width="252.9" height="3.73" fill="url(#g54)"/>
<rect x="143.7" y="223.31" width="257.5" height="3.73" fill="url(#g55)"/>
<rect x="141.4" y="226.65" width="262.0" height="3.73" fill="url(#g56)"/>
<rect x="139.1" y="229.98" width="266.6" height="3.73" fill="url(#g57)"/>
<rect x="136.8" y="233.31" width="271.2" height="3.73" fill="url(#g58)"/>
<rect x="134.5" y="236.65" width="275.7" height="3.73" fill="url(#g59)"/>
<rect x="132.3" y="239.98" width="280.3" height="3.73" fill="url(#g60)"/>
<rect x="130.0" y="243.31" width="284.8" height="3.73" fill="url(#g61)"/>
<rect x="127.7" y="246.65" width="289.4" height="3.73" fill="url(#g62)"/>
<rect x="125.4" y="249.98" width="294.0" height="3.73" fill="url(#g63)"/>
<rect x="123.1" y="253.31" width="298.5" height="3.73" fill="url(#g64)"/>
<rect x="120.9" y="256.64" width="303.1" height="3.73" fill="url(#g65)"/>
<rect x="118.6" y="259.98" width="307.7" height="3.73" fill="url(#g66)"/>
<rect x="116.3" y="263.31" width="312.2" height="3.73" fill="url(#g67)"/>
<rect x="114.0" y="266.64" width="316.8" height="3.73" fill="url(#g68)"/>
<rect x="111.7" y="269.98" width="321.3" height="3.73" fill="url(#g69)"/>
<rect x="109.4" y="273.31" width="325.9" height="3.73" fill="url(#g70)"/>
<rect x="107.2" y="276.64" width="330.5" height="3.73" fill="url(#g71)"/>
<rect x="104.9" y="279.98" width="335.0" height="3.73" fill="url(#g72)"/>
<rect x="102.6" y="283.31" width="339.6" height="3.73" fill="url(#g73)"/>
<rect x="100.3" y="286.64" width="344.1" height="3.73" fill="url(#g74)"/>
<rect x="98.0" y="289.97" width="348.7" height="3.73" fill="url(#g75)"/>
<rect x="95.8" y="293.31" width="353.3" height="3.73" fill="url(#g76)"/>
<rect x="93.5" y="296.64" width="173.3" height="3.73" fill="url(#g77)"/>
<rect x="303.2" y="296.64" width="148.1" height="3.73" fill="url(#g78)"/>
<rect x="92.3" y="299.97" width="160.4" height="2.07" fill="url(#g79)"/>
<rect x="317.3" y="299.97" width="135.2" height="2.07" fill="url(#g80)"/>
<rect x="91.2" y="301.64" width="156.3" height="2.07" fill="url(#g81)"/>
<rect x="322.5" y="301.64" width="131.1" height="2.07" fill="url(#g82)"/>
<rect x="90.1" y="303.31" width="152.2" height="2.07" fill="url(#g83)"/>
<rect x="327.7" y="303.31" width="127.0" height="2.07" fill="url(#g84)"/>
<rect x="88.9" y="304.97" width="149.5" height="2.07" fill="url(#g85)"/>
<rect x="331.6" y="304.97" width="124.3" height="2.07" fill="url(#g86)"/>
<rect x="87.8" y="306.64" width="146.9" height="2.07" fill="url(#g87)"/>
<rect x="335.4" y="306.64" width="121.7" height="2.07" fill="url(#g88)"/>
<rect x="86.6" y="308.31" width="144.2" height="2.07" fill="url(#g89)"/>
<rect x="339.2" y="308.31" width="119.0" height="2.07" fill="url(#g90)"/>
<rect x="85.5" y="309.97" width="141.6" height="2.07" fill="url(#g91)"/>
<rect x="342.9" y="309.97" width="116.4" height="2.07" fill="url(#g92)"/>
<rect x="84.4" y="311.64" width="139.4" height="2.07" fill="url(#g93)"/>
<rect x="346.3" y="311.64" width="114.2" height="2.07" fill="url(#g94)"/>
<rect x="83.2" y="313.31" width="137.2" height="2.07" fill="url(#g95)"/>
<rect x="349.6" y="313.31" width="112.0" height="2.07" fill="url(#g96)"/>
<rect x="82.1" y="314.97" width="135.0" height="2.07" fill="url(#g97)"/>
<rect x="352.9" y="314.97" width="109.8" height="2.07" fill="url(#g98)"/>
<rect x="80.9" y="316.64" width="132.8" height="2.07" fill="url(#g99)"/>
<rect x="356.3" y="316.64" width="107.6" height="2.07" fill="url(#g100)"/>
<rect x="79.8" y="318.31" width="130.9" height="2.07" fill="url(#g101)"/>
<rect x="359.3" y="318.31" width="105.7" height="2.07" fill="url(#g102)"/>
<rect x="78.7" y="319.97" width="129.2" height="2.07" fill="url(#g103)"/>
<rect x="362.1" y="319.97" width="104.0" height="2.07" fill="url(#g104)"/>
<rect x="77.5" y="321.64" width="127.6" height="2.07" fill="url(#g105)"/>
<rect x="364.9" y="321.64" width="102.4" height="2.07" fill="url(#g106)"/>
<rect x="76.4" y="323.30" width="126.0" height="2.07" fill="url(#g107)"/>
<rect x="367.7" y="323.30" width="100.8" height="2.07" fill="url(#g108)"/>
<rect x="75.2" y="324.97" width="124.3" height="2.07" fill="url(#g109)"/>
<rect x="370.5" y="324.97" width="99.1" height="2.07" fill="url(#g110)"/>
<rect x="74.1" y="326.64" width="122.7" height="2.07" fill="url(#g111)"/>
<rect x="373.2" y="326.64" width="97.5" height="2.07" fill="url(#g112)"/>
<rect x="73.0" y="328.30" width="121.4" height="2.07" fill="url(#g113)"/>
<rect x="375.7" y="328.30" width="96.2" height="2.07" fill="url(#g114)"/>
<rect x="71.8" y="329.97" width="120.1" height="2.07" fill="url(#g115)"/>
<rect x="378.1" y="329.97" width="94.9" height="2.07" fill="url(#g116)"/>
<rect x="70.7" y="331.64" width="118.8" height="2.07" fill="url(#g117)"/>
<rect x="380.6" y="331.64" width="93.6" height="2.07" fill="url(#g118)"/>
<rect x="69.5" y="333.30" width="117.5" height="2.07" fill="url(#g119)"/>
<rect x="383.0" y="333.30" width="92.3" height="2.07" fill="url(#g120)"/>
<rect x="68.4" y="334.97" width="116.2" height="2.07" fill="url(#g121)"/>
<rect x="385.5" y="334.97" width="91.0" height="2.07" fill="url(#g122)"/>
<rect x="67.3" y="336.64" width="114.8" height="2.07" fill="url(#g123)"/>
<rect x="387.9" y="336.64" width="89.6" height="2.07" fill="url(#g124)"/>
<rect x="66.1" y="338.30" width="113.6" height="2.07" fill="url(#g125)"/>
<rect x="390.3" y="338.30" width="88.4" height="2.07" fill="url(#g126)"/>
<rect x="65.0" y="339.97" width="112.3" height="2.07" fill="url(#g127)"/>
<rect x="392.8" y="339.97" width="87.1" height="2.07" fill="url(#g128)"/>
<rect x="63.8" y="341.64" width="111.0" height="2.07" fill="url(#g129)"/>
<rect x="395.2" y="341.64" width="85.8" height="2.07" fill="url(#g130)"/>
<rect x="62.7" y="343.30" width="109.7" height="2.07" fill="url(#g131)"/>
<rect x="397.6" y="343.30" width="84.5" height="2.07" fill="url(#g132)"/>
<rect x="61.5" y="344.97" width="108.4" height="2.07" fill="url(#g133)"/>
<rect x="400.0" y="344.97" width="83.2" height="2.07" fill="url(#g134)"/>
<rect x="60.4" y="346.64" width="107.1" height="2.07" fill="url(#g135)"/>
<rect x="402.5" y="346.64" width="81.9" height="2.07" fill="url(#g136)"/>
<rect x="59.3" y="348.30" width="105.9" height="2.07" fill="url(#g137)"/>
<rect x="404.8" y="348.30" width="80.7" height="2.07" fill="url(#g138)"/>
<rect x="58.1" y="349.97" width="104.7" height="2.07" fill="url(#g139)"/>
<rect x="407.2" y="349.97" width="79.5" height="2.07" fill="url(#g140)"/>
<rect x="57.0" y="351.64" width="103.5" height="2.07" fill="url(#g141)"/>
<rect x="409.6" y="351.64" width="78.3" height="2.07" fill="url(#g142)"/>
<rect x="55.8" y="353.30" width="102.2" height="2.07" fill="url(#g143)"/>
<rect x="411.9" y="353.30" width="77.0" height="2.07" fill="url(#g144)"/>
<rect x="54.7" y="354.97" width="101.0" height="2.07" fill="url(#g145)"/>
<rect x="414.3" y="354.97" width="75.8" height="2.07" fill="url(#g146)"/>
<rect x="53.6" y="356.63" width="99.8" height="2.07" fill="url(#g147)"/>
<rect x="416.6" y="356.63" width="74.6" height="2.07" fill="url(#g148)"/>
<rect x="52.4" y="358.30" width="98.7" height="2.07" fill="url(#g149)"/>
<rect x="418.9" y="358.30" width="73.5" height="2.07" fill="url(#g150)"/>
<rect x="51.3" y="359.97" width="97.7" height="2.07" fill="url(#g151)"/>
<rect x="421.0" y="359.97" width="72.5" height="2.07" fill="url(#g152)"/>
<rect x="50.1" y="361.63" width="96.7" height="2.07" fill="url(#g153)"/>
<rect x="423.2" y="361.63" width="71.5" height="2.07" fill="url(#g154)"/>
<rect x="49.0" y="363.30" width="95.7" height="2.07" fill="url(#g155)"/>
<rect x="425.3" y="363.30" width="70.5" height="2.07" fill="url(#g156)"/>
<rect x="47.9" y="364.97" width="94.7" height="2.07" fill="url(#g157)"/>
<rect x="427.4" y="364.97" width="69.5" height="2.07" fill="url(#g158)"/>
<rect x="46.7" y="366.63" width="93.7" height="2.07" fill="url(#g159)"/>
<rect x="429.5" y="366.63" width="68.5" height="2.07" fill="url(#g160)"/>
<rect x="45.6" y="368.30" width="92.4" height="2.07" fill="url(#g161)"/>
<rect x="432.0" y="368.30" width="67.2" height="2.07" fill="url(#g162)"/>
<rect x="44.4" y="369.97" width="90.9" height="2.07" fill="url(#g163)"/>
<rect x="434.7" y="369.97" width="65.7" height="2.07" fill="url(#g164)"/>
<rect x="43.3" y="371.63" width="89.4" height="2.07" fill="url(#g165)"/>
<rect x="437.3" y="371.63" width="64.2" height="2.07" fill="url(#g166)"/>
</g>
<path d="M126.5 374.3L138.0 367.0L150.0 357.6L165.0 347.0L180.0 336.7L195.0 326.5L210.0 317.5L225.0 310.0L240.0 303.4L255.0 298.6L270.0 295.6L285.0 294.3L300.0 295.6L315.0 298.6L330.0 303.4L345.0 310.0L360.0 317.5L375.0 326.5L390.0 336.7L405.0 347.0L420.0 357.6L432.0 367.0L443.5 374.3Z" fill="#000" stroke="#00006a" stroke-width="0.8"/>
</g>
<path d="M67.1 340.0L477.7 340.0M89.9 373.3L295.2 73.3M249.6 73.3L454.9 373.3M89.9 306.6L454.9 306.6M135.5 373.3L318.0 106.7M226.8 106.7L409.3 373.3M112.7 273.3L432.1 273.3M181.2 373.3L340.8 140.0M204.0 140.0L363.6 373.3M135.5 240.0L409.3 240.0M226.8 373.3L363.6 173.3M181.2 173.3L318.0 373.3M158.4 206.7L386.5 206.7M272.4 373.3L386.5 206.7M158.4 206.7L272.4 373.3M181.2 173.3L363.6 173.3M318.0 373.3L409.3 240.0M135.5 240.0L226.8 373.3M204.0 140.0L340.8 140.0M363.6 373.3L432.1 273.3M112.7 273.3L181.2 373.3M226.8 106.7L318.0 106.7M409.3 373.3L454.9 306.6M89.9 306.6L135.5 373.3M249.6 73.3L295.2 73.3M454.9 373.3L477.7 340.0M67.1 340.0L89.9 373.3" stroke="#000" stroke-width="1" fill="none"/>
<path d="M44.3 373.3L500.5 373.3L272.4 40.0Z" fill="none" stroke="#000" stroke-width="2.6" stroke-linejoin="miter"/>
<path d="M44.3 373.3L38.3 382.2M500.5 373.3L513.5 373.3M44.3 373.3L38.3 364.4M135.5 373.3L129.5 382.2M454.9 306.6L467.9 306.6M89.9 306.6L83.9 297.7M226.8 373.3L220.8 382.2M409.3 240.0L422.3 240.0M135.5 240.0L129.5 231.1M318.0 373.3L312.0 382.2M363.6 173.3L376.6 173.3M181.2 173.3L175.2 164.4M409.3 373.3L403.3 382.2M318.0 106.7L331.0 106.7M226.8 106.7L220.8 97.8M500.5 373.3L494.5 382.2M272.4 40.0L285.4 40.0M272.4 40.0L266.4 31.1" stroke="#000" stroke-width="1.1" fill="none"/>
<text x="27.3" y="408.3" font-size="26.0" text-anchor="middle">0</text>
<text x="533.0" y="378.8" font-size="26.0" text-anchor="middle">0</text>
<text x="254.8" y="24.5" font-size="26.0" text-anchor="middle">0</text>
<text x="118.5" y="408.3" font-size="26.0" text-anchor="middle">20</text>
<text x="487.4" y="312.1" font-size="26.0" text-anchor="middle">20</text>
<text x="209.2" y="91.2" font-size="26.0" text-anchor="middle">20</text>
<text x="209.8" y="408.3" font-size="26.0" text-anchor="middle">40</text>
<text x="441.8" y="245.5" font-size="26.0" text-anchor="middle">40</text>
<text x="163.6" y="157.8" font-size="26.0" text-anchor="middle">40</text>
<text x="301.0" y="408.3" font-size="26.0" text-anchor="middle">60</text>
<text x="396.1" y="178.8" font-size="26.0" text-anchor="middle">60</text>
<text x="117.9" y="224.5" font-size="26.0" text-anchor="middle">60</text>
<text x="392.3" y="408.3" font-size="26.0" text-anchor="middle">80</text>
<text x="350.5" y="112.2" font-size="26.0" text-anchor="middle">80</text>
<text x="72.3" y="291.1" font-size="26.0" text-anchor="middle">80</text>
<text x="483.5" y="408.3" font-size="26.0" text-anchor="middle">100</text>
<text x="304.9" y="45.5" font-size="26.0" text-anchor="middle">100</text>
<text x="26.7" y="357.8" font-size="26.0" text-anchor="middle">100</text>
<circle cx="272.6" cy="40.0" r="7.5"/>
<circle cx="261.8" cy="56.0" r="7.5"/>
<circle cx="238.4" cy="89.6" r="7.5"/>
<circle cx="188.3" cy="162.2" r="7.5"/>
<circle cx="142.7" cy="228.8" r="7.5"/>
<circle cx="108.3" cy="279.0" r="7.5"/>
<circle cx="75.0" cy="328.3" r="7.5"/>
<circle cx="44.2" cy="373.2" r="7.5"/>
<circle cx="226.6" cy="202.2" r="7.5"/>
<circle cx="200.6" cy="226.5" r="7.5"/>
<circle cx="117.3" cy="340.6" r="7.5"/>
<circle cx="173.2" cy="301.7" r="7.5"/>
<circle cx="317.7" cy="107.2" r="7.5"/>
<circle cx="348.8" cy="151.7" r="7.5"/>
<circle cx="378.3" cy="196.0" r="7.5"/>
<circle cx="308.3" cy="175.7" r="7.5"/>
<circle cx="339.3" cy="206.7" r="7.5"/>
<circle cx="307.3" cy="217.3" r="7.5"/>
<circle cx="420.6" cy="256.6" r="7.5"/>
<circle cx="432.0" cy="273.4" r="7.5"/>
<circle cx="420.6" cy="304.5" r="7.5"/>
<circle cx="477.6" cy="339.5" r="7.5"/>
<circle cx="479.5" cy="346.8" r="7.5"/>
<circle cx="487.9" cy="358.9" r="7.5"/>
<circle cx="500.2" cy="373.0" r="7.5"/>
<path d="M259.0 226.8L262.5 237.4L273.7 237.5L264.7 244.2L268.1 254.8L259.0 248.3L249.9 254.8L253.3 244.2L244.3 237.5L255.5 237.4Z" fill="#fff" stroke="#e8201a" stroke-width="1.4" stroke-linejoin="miter"/>
<path d="M552.4 149.5L561.2 142.4L570 149.5L570 288.7L561.2 296.4L552.4 288.7Z" fill="url(#cb)"/>
<path d="M552.4 149.5L561.2 142.4L570 149.5Z" fill="#800000"/>
<path d="M552.4 288.7L561.2 296.4L570 288.7Z" fill="#000080"/>
<path d="M552.4 149.5L561.2 142.4L570 149.5L570 288.7L561.2 296.4L552.4 288.7Z" fill="none" stroke="#000" stroke-width="1.1"/>
<path d="M565.5 164.6L570 164.6" stroke="#000" stroke-width="0.9"/>
<text x="574.7" y="169.8" font-size="17.0">2.5</text>
<path d="M565.5 205.3L570 205.3" stroke="#000" stroke-width="0.9"/>
<text x="574.7" y="210.5" font-size="17.0">2.0</text>
<path d="M565.5 246.2L570 246.2" stroke="#000" stroke-width="0.9"/>
<text x="574.7" y="251.4" font-size="17.0">1.5</text>
<path d="M565.5 287.3L570 287.3" stroke="#000" stroke-width="0.9"/>
<text x="574.7" y="292.5" font-size="17.0">1.0</text>
<text x="248" y="446" font-size="37.5" text-anchor="middle">% Cl</text>
<text transform="translate(60.5,204.5) rotate(-60)" font-size="38" text-anchor="middle" y="13.5">% I</text>
<text transform="translate(484,206) rotate(60)" font-size="38" text-anchor="middle" y="13.5">% Br</text>
<text x="43" y="103.5" font-size="38" font-style="italic">B</text>
<text x="68.3" y="108.8" font-size="26.5">||</text>
<text x="477" y="104" font-size="38" font-style="italic">f</text>
<text x="497.5" y="104" font-size="38">=</text>
<text x="536.3" y="83.8" font-size="25.5">θ</text>
<text x="552" y="87.3" font-size="18.5">W</text>
<path d="M536 95.3H572.8" stroke="#000" stroke-width="1.7"/>
<text x="539.3" y="118.4" font-size="25" font-style="italic">T</text>
<text x="554.5" y="123" font-size="18.5">C</text>
</svg>
</body></html>
